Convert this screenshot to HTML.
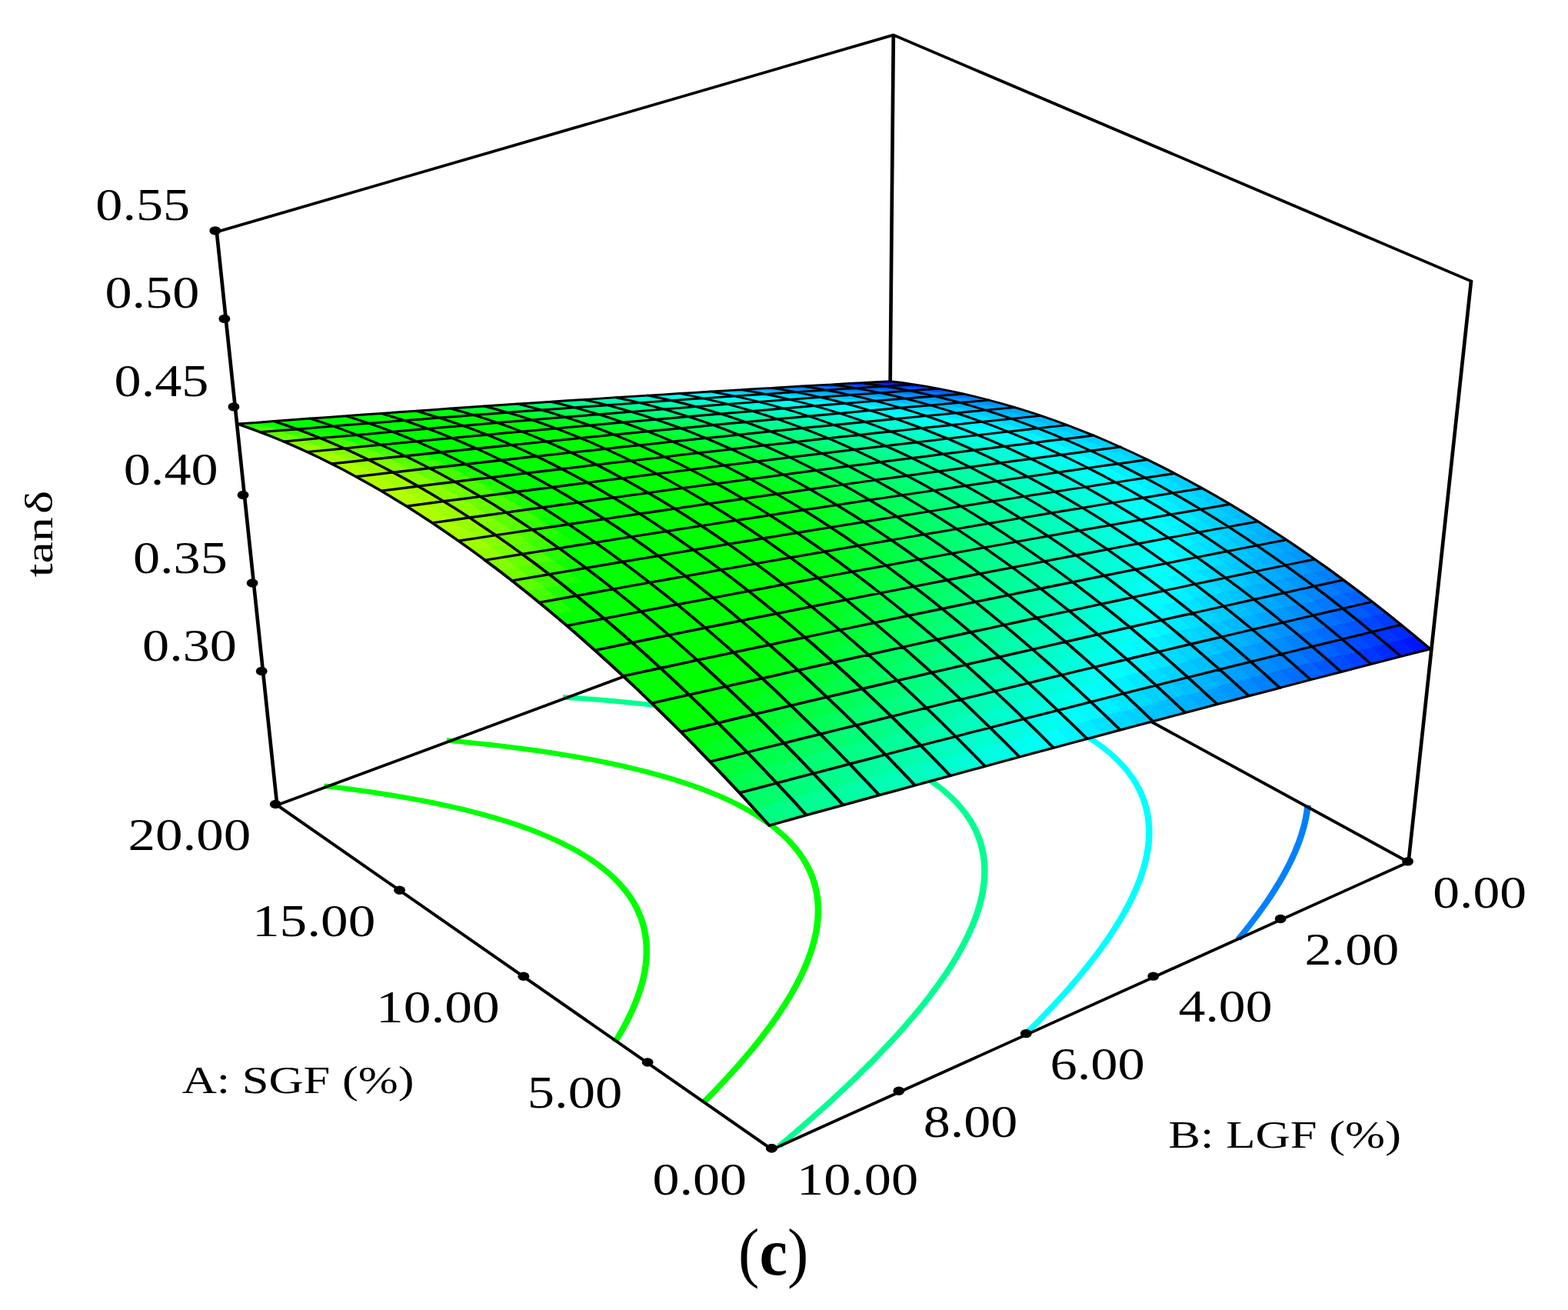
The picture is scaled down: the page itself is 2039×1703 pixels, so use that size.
<!DOCTYPE html>
<html lang="en"><head><meta charset="utf-8"><title>Response surface: tan δ vs SGF and LGF (c)</title>
<style>html,body{margin:0;padding:0;background:#fff}svg{display:block}</style></head>
<body>
<svg width="2039" height="1703" viewBox="0 0 2039 1703">
<rect width="2039" height="1703" fill="#fff"/>
<g transform="scale(1.3,1)">
<g fill="none" stroke-width="6.5" stroke-linecap="butt" stroke-linejoin="round">
<path d="M984.23 817.9 L981.94 817.6 L970.11 815.9 L960.83 814.7 L951.46 813.5 L940.95 812.3 L929.59 811 L918.37 809.8 L908.25 808.8 L898.41 807.8 L888.49 807 L878.49 806.1 L868.41 805.3 L858.24 804.5 L848 803.8 L837.57 803.1 L827.16 802.5 L816.79 801.9 L806.23 801.4 L795.59 800.8 L784.88 800.4 L782.57 800.3" stroke="#0080ff"/>
<path d="M1238.63 1221 L1240.09 1218.7 L1244.8 1211.2 L1249.88 1202.9 L1254.71 1194.7 L1258.04 1188.9 L1262.75 1180.5 L1267.24 1172.2 L1270.27 1166.4 L1274.57 1157.8 L1277.83 1151 L1281.35 1143.3 L1284.6 1135.9 L1287.59 1128.6 L1290.43 1121.4 L1293.25 1113.6 L1295.36 1107.5 L1298.18 1098.6 L1300.02 1092.1 L1301.73 1085.6 L1303.66 1077.3 L1305.15 1069.8 L1306.25 1063.2 L1307.17 1056.5 L1307.89 1049.7 L1308.2 1046.7" stroke="#0080ff"/>
<path d="M1024.04 1346.6 L1025.68 1344.5 L1031.38 1337.1 L1036.89 1329.9 L1042.89 1321.9 L1049.09 1313.5 L1055.18 1305.1 L1061.17 1296.6 L1066.41 1289 L1070.88 1282.4 L1076.54 1273.9 L1082.08 1265.3 L1086.76 1257.8 L1091.02 1250.8 L1096.19 1242.1 L1100.54 1234.5 L1104.47 1227.4 L1109.23 1218.5 L1112.31 1212.5 L1116.76 1203.5 L1119.9 1196.9 L1123.77 1188.3 L1126.51 1181.9 L1130.18 1172.8 L1132.56 1166.5 L1135.47 1158.3 L1138 1150.5 L1139.95 1144 L1142.06 1136.3 L1144.07 1127.9 L1145.6 1120.5 L1146.81 1113.6 L1147.83 1106.5 L1148.62 1099.3 L1149.17 1092 L1149.43 1084.5 L1149.38 1076.7 L1148.97 1068.8 L1148.26 1061.6 L1147.34 1055.1 L1145.89 1047.5 L1143.96 1039.6 L1142.11 1033.5 L1139.13 1025.1 L1135.99 1017.8 L1132.93 1011.5 L1128.59 1003.8 L1123.81 996.3 L1118.59 989.1 L1112.96 982.1 L1104.83 973.3 L1098.28 966.9 L1088.97 958.8 L1079.02 951.1 L1068.46 943.8 L1057.3 936.8 L1046.7 930.8 L1036.43 925.4 L1026.97 920.9 L1017.07 916.4 L1005.56 911.6 L995.06 907.6 L985.27 904 L975.41 900.7 L964.28 897.1 L952.9 893.7 L942.67 890.8 L933.38 888.3 L921.34 885.3 L912.86 883.3 L900.75 880.6 L891.97 878.7 L879.51 876.2 L870.84 874.5 L859.11 872.4 L848.74 870.6 L839.73 869.2 L827.99 867.4 L816.79 865.7 L807.45 864.4 L798.02 863.2 L786.54 861.8 L775.04 860.5 L764.3 859.3 L754.47 858.3 L744.55 857.3 L734.55 856.4 L724.46 855.5 L713.96 854.6 L703.17 853.8 L692.47 853 L681.84 852.3 L678.01 852 L675.7 851.9" stroke="#00ffff"/>
<path d="M779.63 1489.7 L781.39 1487.8 L789.48 1478.9 L797.33 1470.2 L804.94 1461.6 L812.33 1453.2 L819.5 1444.9 L826.45 1436.8 L833.19 1428.8 L840.22 1420.3 L847.29 1411.7 L854.27 1403 L861.15 1394.3 L867.92 1385.6 L874.59 1376.9 L880.17 1369.4 L885.45 1362.2 L891.81 1353.4 L898.05 1344.6 L903.91 1336 L908.2 1329.7 L914.07 1320.7 L919.83 1311.7 L923.9 1305.2 L929.09 1296.6 L934.25 1287.7 L937.92 1281.2 L942.98 1271.9 L946.28 1265.7 L951.01 1256.3 L954.07 1249.9 L958.47 1240.3 L961.28 1233.8 L964.85 1225.1 L967.81 1217.4 L970.21 1210.7 L973.1 1202 L975.62 1193.6 L977.51 1186.7 L979.23 1179.6 L980.81 1172.2 L982.25 1164.2 L983.36 1156.3 L984.17 1148.7 L984.68 1141.3 L984.89 1134.1 L984.78 1125.8 L984.25 1117.3 L983.47 1110.2 L982.46 1103.7 L980.5 1094.4 L978.89 1088.4 L976.03 1079.6 L973.31 1072.6 L970.16 1065.7 L965.99 1057.7 L961.36 1050.1 L956.29 1042.7 L950.79 1035.6 L942.81 1026.5 L936.36 1020 L927.16 1011.7 L917.3 1003.8 L906.8 996.3 L895.69 989.2 L886.98 984.1 L874.85 977.6 L865.39 972.9 L855.63 968.4 L845.57 964.1 L835.22 960 L824.59 956.1 L813.68 952.2 L802.5 948.6 L793.4 945.8 L783.27 942.9 L771.39 939.6 L762.54 937.4 L751.04 934.6 L741.07 932.3 L730.01 929.8 L720.61 927.9 L708.32 925.5 L699.46 923.9 L688.16 921.9 L676.88 920 L667.68 918.6 L657.25 917 L645.23 915.4 L634.7 914 L625.07 912.7 L615.34 911.6 L604.36 910.3 L592.98 909.1 L581.71 908 L570.54 907 L565.34 906.5 L563.04 906.3" stroke="#00ff90"/>
<path d="M703.26 1433.7 L704.88 1431.6 L711.8 1422.5 L716.98 1415.5 L723.05 1407.1 L729.63 1397.9 L735.84 1389 L740.31 1382.4 L746.52 1373 L752.31 1364 L756.54 1357.3 L762.34 1347.7 L766.56 1340.5 L771.61 1331.6 L775.9 1323.8 L780.36 1315.3 L784.17 1307.8 L788.53 1298.7 L791.61 1292 L795.69 1282.5 L798.82 1274.8 L801.48 1267.9 L804.63 1259 L807.52 1250 L809.64 1242.7 L811.6 1235.3 L813.36 1227.8 L814.9 1220.1 L816.2 1212.3 L817.23 1204.2 L817.96 1196 L818.35 1187.5 L818.35 1179 L818.04 1172.1 L817.41 1164.9 L816.09 1155.6 L814.86 1149.3 L812.56 1140.1 L810.49 1133.5 L807.53 1125.5 L803.84 1117.2 L799.66 1109.2 L795.02 1101.5 L789.92 1094.1 L784.38 1086.9 L776.34 1077.8 L769.57 1071 L760.54 1062.9 L750.58 1054.9 L741.37 1048.3 L731.6 1041.9 L719.92 1035 L710.76 1030.1 L701.29 1025.3 L691.5 1020.7 L681.14 1016.2 L670.95 1012.1 L660.31 1008.1 L649.34 1004.2 L638.08 1000.5 L627.07 997.1 L618.71 994.6 L606.74 991.3 L596.56 988.7 L586.2 986.2 L575.2 983.6 L564.96 981.4 L554.78 979.2 L543.05 976.9 L534.1 975.3 L522.3 973.2 L511.26 971.4 L501.95 969.9 L491.27 968.3 L479.19 966.6 L468.57 965.2 L458.81 963.9 L448.96 962.8 L446.66 962.5" stroke="#00ff00"/>
<path d="M615.29 1354.6 L616.47 1352.1 L619.74 1345 L623.31 1336.8 L627.27 1327.2 L630.17 1319.5 L632.82 1312.1 L635.43 1304.1 L638.03 1295.3 L640.27 1286.7 L642.17 1278.4 L643.72 1270.3 L644.95 1262.4 L645.86 1254.6 L646.47 1247.1 L646.79 1237.9 L646.67 1229.2 L646.26 1222.3 L645.27 1213.3 L644.05 1205.8 L642 1196.6 L640.25 1190.4 L637.25 1181.6 L633.72 1173.1 L629.7 1164.9 L625.19 1157.1 L620.22 1149.5 L613.43 1140.5 L606.88 1132.8 L598.22 1124 L588.84 1115.5 L578.78 1107.5 L568.05 1099.9 L558.52 1093.8 L547.75 1087.5 L538.48 1082.5 L528.88 1077.7 L518.32 1072.8 L507.91 1068.3 L498.16 1064.4 L487.33 1060.4 L476.19 1056.5 L464.76 1052.7 L455.4 1049.8 L445.1 1046.8 L432.93 1043.5 L424.67 1041.4 L412.06 1038.3 L403.51 1036.3 L390.48 1033.5 L381.65 1031.7 L370.41 1029.5 L359.09 1027.4 L349.87 1025.8 L338.5 1023.9 L326.38 1022 L324.09 1021.7" stroke="#00ff00"/>
</g>
<g fill="none" stroke="#000" stroke-width="3.6" stroke-linecap="round" stroke-linejoin="round">
<path d="M277.15 1046.7 L888.69 751.7 M1408.92 1120.7 L888.69 751.7 M893.69 45.5 L888.69 751.7"/>
<path d="M216.77 301.5 L893.69 45.5 L1471.54 365.5"/>
<path d="M277.15 1046.7 L772.23 1494.4 L1408.92 1120.7"/>
</g>
<g stroke="none" shape-rendering="crispEdges">
<path fill="#0006ff" d="M902.97 497.6 890.09 495.5 874.76 496.6 887.63 498.7Z"/>
<path fill="#001bff" d="M915.21 499.8 902.24 497.4 886.9 498.6 899.85 501.1Z"/>
<path fill="#001aff" d="M888.5 498.7 875.63 496.5 860.22 497.6 873.07 499.8Z"/>
<path fill="#002fff" d="M900.73 501 887.77 498.5 872.34 499.7 885.28 502.3ZM927.53 502.4 914.47 499.7 899.12 500.9 912.16 503.8Z"/>
<path fill="#002eff" d="M873.94 499.8 861.09 497.6 845.59 498.7 858.42 501Z"/>
<path fill="#0042ff" d="M939.93 505.3 926.79 502.3 911.42 503.6 924.54 506.7ZM886.15 502.2 873.22 499.6 857.69 500.8 870.61 503.5Z"/>
<path fill="#0043ff" d="M913.03 503.7 899.99 500.9 884.54 502.1 897.57 505Z"/>
<path fill="#0041ff" d="M859.3 500.9 846.47 498.6 830.87 499.8 843.69 502.1ZM1372.58 863.7 1357.08 846.3 1341.19 851.5 1356.69 869.1Z"/>
<path fill="#0055ff" d="M925.42 506.7 912.29 503.5 896.83 504.8 909.94 508.1ZM871.5 503.4 858.57 500.8 842.96 502 855.86 504.7Z"/>
<path fill="#0054ff" d="M952.41 508.6 939.18 505.2 923.8 506.6 937.01 510.1ZM844.57 502.1 831.75 499.7 816.06 500.9 828.86 503.3ZM1373.11 821.8 1357.71 805.5 1341.99 810.3 1357.4 826.8Z"/>
<path fill="#0056ff" d="M898.45 504.9 885.42 502 869.88 503.3 882.89 506.3Z"/>
<path fill="#0065ff" d="M964.97 512.1 951.66 508.4 936.26 509.9 949.55 513.7Z"/>
<path fill="#0068ff" d="M910.82 508 897.71 504.8 882.15 506.1 895.25 509.4ZM829.75 503.2 816.95 500.8 801.17 502 813.95 504.5Z"/>
<path fill="#0069ff" d="M856.75 504.6 843.84 501.9 828.14 503.2 841.03 505.9ZM883.77 506.2 870.76 503.2 855.13 504.5 868.13 507.6Z"/>
<path fill="#0067ff" d="M937.88 510 924.67 506.5 909.19 507.9 922.39 511.5Z"/>
<path fill="#0074ff" d="M977.6 516 964.21 511.9 948.8 513.5 962.17 517.7Z"/>
<path fill="#007cff" d="M841.92 505.9 829.03 503.1 813.23 504.3 826.1 507.2ZM869.01 507.5 856.02 504.5 840.29 505.8 853.27 508.9ZM1344.39 772.4 1329.13 757.5 1313.49 761.9 1328.76 777Z"/>
<path fill="#0077ff" d="M950.43 513.6 937.13 509.8 921.64 511.3 934.92 515.2Z"/>
<path fill="#007bff" d="M896.13 509.4 883.03 506 867.39 507.4 880.47 510.8ZM814.85 504.4 802.06 501.9 786.18 503.1 798.95 505.7Z"/>
<path fill="#0079ff" d="M923.27 511.4 910.07 507.8 894.5 509.2 907.69 512.9Z"/>
<path fill="#0086ff" d="M963.05 517.6 949.67 513.4 934.17 515 947.53 519.2Z"/>
<path fill="#0083ff" d="M990.31 520.3 976.84 515.8 961.41 517.4 974.87 522ZM1329.26 795.8 1313.94 780.2 1298.12 784.9 1313.44 800.6ZM1297.44 867.2 1281.96 849.6 1265.67 854.9 1281.16 872.5Z"/>
<path fill="#0089ff" d="M935.8 515.1 922.52 511.2 906.94 512.7 920.21 516.7Z"/>
<path fill="#008dff" d="M881.36 510.7 868.28 507.3 852.54 508.7 865.6 512.2ZM854.17 508.8 841.19 505.7 825.37 507 838.33 510.2ZM799.85 505.6 787.09 503 771.11 504.2 783.86 506.9ZM1282.08 872.2 1266.59 854.6 1250.2 859.9 1265.7 877.7Z"/>
<path fill="#008eff" d="M827 507.1 814.12 504.3 798.23 505.5 811.08 508.5ZM1314.34 800.3 1299.02 784.6 1283.1 789.3 1298.42 805.2Z"/>
<path fill="#008bff" d="M908.57 512.8 895.39 509.2 879.73 510.6 892.9 514.3ZM1330.31 740.5 1315.15 726.5 1299.6 730.6 1314.76 744.8Z"/>
<path fill="#008fff" d="M1003.1 524.8 989.55 520 974.11 521.7 987.65 526.6Z"/>
<path fill="#0097ff" d="M948.41 519.1 935.05 514.9 919.45 516.5 932.8 520.8ZM1316.01 727.3 1300.9 713.6 1285.34 717.7 1300.45 731.4ZM1315.64 744.6 1300.48 730.4 1284.84 734.6 1300 748.9ZM1266.63 877.4 1251.13 859.6 1234.65 864.9 1250.15 882.8Z"/>
<path fill="#009eff" d="M866.5 512.1 853.43 508.6 837.6 510.1 850.65 513.6ZM1299.88 785.5 1284.61 770.1 1268.69 774.7 1283.97 790.2ZM1283.55 829.7 1268.17 813.2 1251.96 818.1 1267.35 834.8Z"/>
<path fill="#009fff" d="M811.99 508.4 799.13 505.5 783.14 506.8 795.98 509.8ZM784.77 506.8 772.02 504.2 755.95 505.4 768.68 508.2ZM839.23 510.2 826.27 507 810.35 508.3 823.3 511.6ZM988.53 526.5 974.99 521.6 959.46 523.4 972.99 528.3ZM1234.39 910.5 1218.83 891.9 1202.04 897.5 1217.61 916.3Z"/>
<path fill="#0093ff" d="M975.75 521.9 962.29 517.3 946.77 519 960.22 523.6ZM1314.81 781.1 1299.54 765.9 1283.71 770.4 1298.99 785.7ZM1298.74 825 1283.36 808.5 1267.25 813.4 1282.63 830Z"/>
<path fill="#009aff" d="M921.09 516.6 907.82 512.6 892.15 514.1 905.4 518.2ZM1015.96 529.7 1002.33 524.5 986.88 526.3 1000.5 531.6Z"/>
<path fill="#009cff" d="M893.78 514.3 880.62 510.5 864.86 512 878.01 515.8Z"/>
<path fill="#00a8ff" d="M933.69 520.7 920.34 516.4 904.65 518 917.99 522.4ZM1268.27 834.5 1252.88 817.8 1236.58 822.8 1251.97 839.6Z"/>
<path fill="#00b1ff" d="M796.89 509.7 784.05 506.7 767.96 508 780.78 511.1ZM769.59 508.1 756.86 505.3 740.69 506.6 753.41 509.4Z"/>
<path fill="#00a4ff" d="M961.1 523.5 947.66 518.9 932.05 520.6 945.48 525.3ZM1284.23 809.5 1268.9 793.5 1252.79 798.2 1268.12 814.4Z"/>
<path fill="#00abff" d="M906.29 518.1 893.04 514 877.27 515.6 890.51 519.8ZM1001.38 531.5 987.76 526.2 972.22 528.1 985.83 533.4ZM1287.55 701.9 1272.55 689.1 1256.99 692.9 1271.99 705.9ZM1235.44 887.7 1219.93 869.6 1203.24 875.1 1218.76 893.3Z"/>
<path fill="#00adff" d="M878.91 515.7 865.76 511.9 849.91 513.4 863.05 517.3Z"/>
<path fill="#00afff" d="M851.55 513.5 838.5 510 822.57 511.4 835.6 515ZM1286.58 735.2 1271.47 721.3 1255.73 725.4 1270.84 739.4ZM1269.04 814.1 1253.7 798 1237.49 802.8 1252.83 819Z"/>
<path fill="#00b0ff" d="M824.21 511.5 811.26 508.2 795.25 509.6 808.18 513ZM973.87 528.2 960.34 523.3 944.72 525 958.24 530.1Z"/>
<path fill="#00a5ff" d="M1028.9 534.9 1015.19 529.4 999.73 531.3 1013.43 536.9Z"/>
<path fill="#00b8ff" d="M918.88 522.3 905.54 517.9 889.76 519.5 903.08 524.1ZM1272.88 705.6 1257.87 692.7 1242.22 696.5 1257.23 709.6Z"/>
<path fill="#00bcff" d="M891.4 519.7 878.16 515.5 862.3 517.1 875.53 521.3ZM1259.29 678.1 1244.41 666.1 1228.85 669.7 1243.74 681.8Z"/>
<path fill="#00c0ff" d="M836.51 515 823.47 511.3 807.45 512.8 820.47 516.5ZM959.12 530 945.6 524.9 929.89 526.7 943.4 531.9ZM1258.72 693.4 1243.78 680.9 1228.13 684.6 1243.07 697.3Z"/>
<path fill="#00c2ff" d="M781.7 511 768.87 507.9 752.69 509.2 765.49 512.4ZM809.09 512.9 796.16 509.5 780.05 510.9 792.97 514.4ZM1245.25 666.7 1230.42 655.1 1214.86 658.6 1229.69 670.3Z"/>
<path fill="#00c3ff" d="M754.33 509.3 741.61 506.5 725.35 507.8 738.04 510.7ZM1255.35 779.6 1240.12 764.5 1224 769 1239.23 784.3Z"/>
<path fill="#00b4ff" d="M946.37 525.2 932.93 520.5 917.23 522.2 930.65 527ZM1273.39 689.8 1258.45 677.4 1242.89 681.1 1257.84 693.6ZM1269.76 794.4 1254.49 778.8 1238.37 783.4 1253.65 799.1Z"/>
<path fill="#00beff" d="M863.95 517.2 850.81 513.3 834.86 514.8 847.99 518.8ZM1027.31 542.5 1013.53 536.5 997.97 538.5 1011.74 544.6ZM1068.16 552.7 1054.21 546.1 1038.72 548.2 1052.66 554.9Z"/>
<path fill="#00aeff" d="M1041.92 540.5 1028.12 534.6 1012.65 536.6 1026.44 542.6ZM1287.08 718.2 1272.02 704.9 1256.38 708.8 1271.43 722.3ZM1286.05 752.8 1270.88 738.4 1255.05 742.6 1270.22 757.2Z"/>
<path fill="#00c9ff" d="M903.98 524 890.65 519.4 874.77 521.1 888.09 525.7ZM1094.68 566.3 1080.59 558.9 1065.08 561.2 1079.17 568.7ZM1205.07 875.8 1189.6 858 1172.8 863.3 1188.27 881.2ZM1187.94 903.6 1172.41 885.1 1155.41 890.6 1170.95 909.2Z"/>
<path fill="#00d4ff" d="M766.41 512.3 753.61 509.2 737.32 510.5 750.11 513.8ZM738.97 510.6 726.27 507.7 709.91 509 722.59 512ZM1134.98 589.3 1120.67 580.8 1105.15 583.4 1119.45 592ZM1223.9 808 1208.61 792 1192.2 796.8 1207.49 812.9Z"/>
<path fill="#00b5ff" d="M1014.31 536.8 1000.61 531.2 985.06 533.1 998.75 538.8ZM1236.46 865.6 1221 848.1 1204.41 853.3 1219.87 871ZM1219.71 892.9 1204.19 874.8 1187.4 880.2 1202.92 898.5Z"/>
<path fill="#00d1ff" d="M821.38 516.4 808.36 512.7 792.23 514.2 805.24 518ZM1121.48 581.3 1107.24 573.1 1091.72 575.7 1105.96 583.9ZM1242.54 729.9 1227.48 716.2 1211.55 720.3 1226.61 734.1Z"/>
<path fill="#00bbff" d="M986.71 533.3 973.1 527.9 957.47 529.8 971.07 535.2Z"/>
<path fill="#00c5ff" d="M931.54 526.9 918.12 522.1 902.32 523.8 915.73 528.7ZM999.63 538.7 985.94 533 970.3 534.9 983.98 540.7ZM1256.09 761.1 1240.92 746.5 1224.9 750.8 1240.07 765.6Z"/>
<path fill="#00ccff" d="M876.43 521.2 863.2 517 847.24 518.6 860.45 522.9Z"/>
<path fill="#00cfff" d="M848.89 518.7 835.77 514.7 819.73 516.3 832.84 520.3ZM1230.57 670.1 1215.75 658.4 1200.1 661.9 1214.93 673.7ZM1222.91 828.2 1207.56 811.7 1191.05 816.6 1206.41 833.2Z"/>
<path fill="#00d3ff" d="M793.88 514.3 780.97 510.8 764.77 512.2 777.66 515.8ZM1066.76 561.5 1052.75 554.4 1037.16 556.7 1051.16 563.9ZM1189.63 625.1 1175.05 615 1159.51 618.1 1174.08 628.2ZM1189.23 880.9 1173.76 863 1156.85 868.4 1172.33 886.4Z"/>
<path fill="#00b6ff" d="M1055 546.4 1041.13 540.2 1025.65 542.2 1039.51 548.6Z"/>
<path fill="#00d0ff" d="M944.29 531.8 930.78 526.6 914.97 528.4 928.47 533.7ZM1203.45 634.9 1188.8 624.5 1173.25 627.6 1187.89 638.2ZM1243.27 713.2 1228.26 700 1212.43 703.9 1227.43 717.2ZM1240.98 765.3 1225.81 750.6 1209.69 754.9 1224.86 769.8ZM1154.29 938 1138.68 918.7 1121.37 924.6 1136.99 944Z"/>
<path fill="#00d5ff" d="M916.63 528.6 903.22 523.7 887.33 525.4 900.73 530.4ZM984.86 540.6 971.18 534.8 955.45 536.8 969.12 542.7ZM1148.55 597.7 1134.17 588.8 1118.64 591.5 1133.01 600.5ZM1162.18 606.5 1147.73 597.2 1132.2 600 1146.64 609.4ZM1175.87 615.6 1161.36 605.9 1145.82 608.9 1160.33 618.6ZM1216.58 659 1201.82 647.7 1186.17 651.1 1200.94 662.6ZM1229.86 685.1 1214.97 672.9 1199.23 676.5 1214.12 688.9Z"/>
<path fill="#00daff" d="M888.99 525.6 875.68 521 859.7 522.7 873 527.4ZM1202.65 648.3 1187.95 637.4 1172.3 640.7 1187.01 651.7Z"/>
<path fill="#00ddff" d="M861.36 522.8 848.15 518.5 832.09 520.1 845.29 524.5ZM997.85 546.4 984.09 540.3 968.34 542.3 982.09 548.6ZM1093.41 576 1079.25 568.1 1063.64 570.6 1077.8 578.6ZM1227.51 733.8 1212.45 720 1196.42 724.1 1211.49 738.1ZM1226.66 751.4 1211.54 737 1195.42 741.3 1210.54 755.8ZM1173.29 886.1 1157.81 868.1 1140.81 873.5 1156.29 891.7Z"/>
<path fill="#00e3ff" d="M806.16 517.9 793.15 514.1 776.93 515.6 789.92 519.4ZM1133.89 600.4 1119.52 591.4 1103.9 594.2 1118.26 603.2ZM1147.52 609.2 1133.08 599.9 1117.45 602.7 1131.89 612.2ZM1121.55 949.4 1105.93 929.8 1088.4 935.7 1104.03 955.4Z"/>
<path fill="#00e4ff" d="M778.59 515.7 765.69 512.2 749.39 513.6 762.27 517.2ZM970.01 542.5 956.34 536.7 940.51 538.6 954.17 544.6ZM1209.47 792.9 1194.23 777.3 1177.82 782 1193.06 797.7ZM1191.68 837.8 1176.33 821 1159.62 826 1174.98 842.9Z"/>
<path fill="#00e5ff" d="M751.04 513.7 738.25 510.4 721.87 511.8 734.64 515.1ZM1010.91 552.6 997.07 546.1 981.31 548.2 995.14 554.9ZM1214.17 704.4 1199.23 691.5 1183.3 695.4 1198.24 708.4Z"/>
<path fill="#00e6ff" d="M723.52 511.9 710.84 508.9 694.37 510.2 707.04 513.3ZM901.63 530.3 888.23 525.3 872.25 527.1 885.63 532.2ZM1139.57 919.8 1124.01 900.9 1106.7 906.6 1122.26 925.6Z"/>
<path fill="#00cbff" d="M971.96 535.1 958.36 529.7 942.63 531.6 956.22 537.1Z"/>
<path fill="#00e0ff" d="M833.75 520.3 820.64 516.2 804.5 517.7 817.6 521.9ZM1106.84 583.8 1092.61 575.5 1076.99 578.1 1091.22 586.4Z"/>
<path fill="#00ceff" d="M1012.63 544.4 998.85 538.4 983.2 540.4 996.96 546.6ZM1108.05 573.6 1093.88 565.8 1078.37 568.3 1092.53 576.1ZM1240.15 784 1224.92 768.7 1208.7 773.3 1223.94 788.7Z"/>
<path fill="#00e1ff" d="M929.37 533.5 915.87 528.3 899.97 530.1 913.45 535.5ZM1174.96 628 1160.39 617.9 1144.75 621 1159.32 631.2ZM1215.01 688.7 1200.12 676.3 1184.29 680 1199.17 692.5Z"/>
<path fill="#00eaff" d="M873.91 527.3 860.61 522.6 844.54 524.3 857.83 529.1ZM1192.86 817.2 1177.56 801 1160.95 805.8 1176.25 822.2Z"/>
<path fill="#00f4ff" d="M790.84 519.4 777.85 515.5 761.54 517 774.51 521ZM955.07 544.5 941.41 538.5 925.48 540.5 939.13 546.6ZM1173.05 654.8 1158.35 643.6 1142.51 647 1157.21 658.3ZM1198.19 724.7 1183.18 711.2 1167.05 715.2 1182.06 728.8ZM1196.16 759.7 1181.04 745.1 1164.72 749.5 1179.84 764.2Z"/>
<path fill="#00f7ff" d="M735.57 515.1 722.8 511.7 706.32 513.1 719.07 516.5ZM707.97 513.2 695.31 510.2 678.75 511.5 691.39 514.6Z"/>
<path fill="#00c6ff" d="M1040.39 548.5 1026.53 542.1 1010.96 544.2 1024.81 550.7ZM1257.48 726 1242.42 712.4 1226.58 716.4 1241.64 730.1ZM1256.8 743.2 1241.69 729.1 1225.76 733.3 1240.87 747.5ZM1170.5 932.4 1154.91 913.3 1137.71 919.1 1153.31 938.4Z"/>
<path fill="#00eeff" d="M846.2 524.4 833 520 816.85 521.6 830.04 526.2ZM1092.11 586.3 1077.88 578 1062.17 580.5 1076.39 589ZM1160.21 631.1 1145.64 620.8 1129.91 623.9 1144.47 634.3ZM1200.07 692.3 1185.19 679.8 1169.25 683.5 1184.14 696.1ZM1175.93 842.6 1160.57 825.7 1143.76 830.8 1159.12 847.8Z"/>
<path fill="#00dbff" d="M957.11 537 943.52 531.5 927.7 533.3 941.28 539Z"/>
<path fill="#00f1ff" d="M818.51 521.8 805.42 517.6 789.18 519.2 802.26 523.5ZM914.35 535.4 900.87 530 884.87 531.9 898.34 537.3ZM1119.15 603.1 1104.78 594 1089.07 596.8 1103.43 606ZM1132.77 612 1118.34 602.6 1102.61 605.5 1117.05 615ZM1158.69 869.1 1143.26 851.5 1126.25 856.8 1141.68 874.5ZM1141.12 896.6 1125.63 878.3 1108.41 883.8 1123.91 902.3Z"/>
<path fill="#00f6ff" d="M763.19 517.1 750.31 513.5 733.91 515 746.78 518.6ZM886.54 532.1 873.15 527 857.07 528.8 870.44 533.9ZM1050.52 573.3 1036.45 565.6 1020.67 568 1034.73 575.8ZM1088.41 960.9 1072.77 941 1055.02 947 1070.67 967.1Z"/>
<path fill="#00cdff" d="M1053.54 554.8 1039.6 548.1 1024.02 550.3 1037.95 557.1ZM1217.32 645.2 1202.62 634.3 1187.06 637.6 1201.77 648.5ZM1243.96 697.1 1229.02 684.4 1213.27 688.2 1228.22 700.9Z"/>
<path fill="#00fbff" d="M858.74 529 845.45 524.2 829.29 525.9 842.56 530.8ZM927.15 540.7 913.59 535 897.57 537 911.13 542.8ZM1009.16 561.3 995.25 554.3 979.39 556.6 993.29 563.7ZM1142.65 874.2 1127.21 856.5 1110.09 861.8 1125.53 879.7ZM1124.89 902 1109.39 883.5 1092.07 889.1 1107.57 907.7Z"/>
<path fill="#00fff7" d="M720.01 516.5 707.25 513 690.67 514.4 703.41 517.9ZM1048.96 583.3 1034.83 575.2 1018.94 577.7 1033.07 586ZM1157.01 672.5 1142.25 660.7 1126.23 664.2 1140.98 676.1ZM1164.04 787 1148.85 771.6 1132.23 776.2 1147.42 791.7ZM1054.85 972.6 1039.19 952.4 1021.22 958.5 1036.89 978.9Z"/>
<path fill="#00c4ff" d="M1081.38 559.3 1067.37 552.3 1051.87 554.6 1065.88 561.7ZM1258.12 709.4 1243.11 696.3 1227.37 700.2 1242.37 713.4ZM1238.38 823.4 1223.03 807.1 1206.63 811.9 1221.98 828.5Z"/>
<path fill="#00d6ff" d="M1025.69 550.5 1011.84 544.1 996.18 546.2 1010.02 552.7Z"/>
<path fill="#00ebff" d="M942.18 538.9 928.6 533.2 912.68 535.2 926.25 540.9ZM1078.68 578.4 1064.53 570.5 1048.83 573 1062.98 581ZM1174.02 641.1 1159.38 630.5 1143.65 633.7 1158.28 644.4Z"/>
<path fill="#00ffff" d="M830.95 526.1 817.77 521.6 801.52 523.2 814.69 527.8ZM1090.77 597.1 1076.48 588.3 1060.67 591 1074.96 600ZM1104.32 605.8 1089.96 596.6 1074.15 599.4 1088.5 608.7ZM1117.94 614.9 1103.51 605.3 1087.69 608.2 1102.12 617.9ZM1071.68 966.7 1056.03 946.7 1038.18 952.8 1053.83 972.9Z"/>
<path fill="#00fffc" d="M803.19 523.4 790.11 519.1 773.77 520.7 786.84 525Z"/>
<path fill="#00fffa" d="M775.44 520.9 762.46 516.9 746.05 518.4 759.01 522.5ZM1035.62 575.6 1021.56 567.9 1005.68 570.3 1019.74 578.2ZM1162.75 806.5 1147.5 790.5 1130.79 795.3 1146.04 811.4ZM1126.51 879.4 1111.07 861.5 1093.84 866.8 1109.29 884.9ZM1108.56 907.3 1093.05 888.8 1075.62 894.4 1091.13 913.1Z"/>
<path fill="#00fff8" d="M747.71 518.6 734.84 514.9 718.35 516.3 731.2 520.1ZM1169.92 699.5 1155.04 686.8 1138.91 690.6 1153.8 703.4Z"/>
<path fill="#00fff6" d="M692.33 514.6 679.69 511.4 663.03 512.8 675.65 516ZM1130.44 637.1 1115.87 626.7 1099.95 629.8 1114.51 640.4ZM1168.82 715.7 1153.87 702.5 1137.65 706.4 1152.59 719.8Z"/>
<path fill="#00dcff" d="M1038.83 557 1024.91 550.2 1009.23 552.4 1023.15 559.3ZM1215.81 673.5 1200.99 661.7 1185.25 665.2 1200.07 677.2ZM1228.33 717 1213.33 703.7 1197.39 707.6 1212.4 721ZM1225.78 769.6 1210.6 754.7 1194.38 759.1 1209.56 774.1ZM1190.47 859 1175.06 841.7 1158.25 846.8 1173.68 864.3ZM1155.79 914.3 1140.25 895.6 1123.04 901.2 1138.59 920.1Z"/>
<path fill="#00edff" d="M982.98 548.5 969.23 542.2 953.39 544.3 967.13 550.6Z"/>
<path fill="#00fffd" d="M899.25 537.2 885.78 531.8 869.68 533.6 883.14 539.2ZM1158.11 658.1 1143.41 646.8 1127.49 650.2 1142.18 661.6ZM1171 684 1156.18 671.8 1140.15 675.4 1154.97 687.7Z"/>
<path fill="#00fff5" d="M843.48 530.7 830.2 525.8 813.94 527.5 827.2 532.5ZM912.04 542.7 898.48 536.9 882.38 538.8 895.92 544.7ZM994.19 563.6 980.29 556.5 964.33 558.8 978.22 565.9ZM1145.58 831.4 1130.26 814.8 1113.35 819.8 1128.67 836.5Z"/>
<path fill="#00fff1" d="M815.61 527.7 802.44 523.1 786.09 524.8 799.25 529.5ZM1007.38 570.6 993.4 563.2 977.43 565.5 991.4 573.1ZM1110.27 884.6 1094.82 866.5 1077.49 871.9 1092.94 890.1ZM1092.12 912.8 1076.61 894 1059.07 899.7 1074.59 918.6Z"/>
<path fill="#00ffec" d="M759.94 522.4 746.98 518.3 730.46 519.9 743.41 524ZM1141.89 675.9 1127.14 664 1111.01 667.6 1125.77 679.6ZM1129.63 836.3 1114.31 819.5 1097.28 824.5 1112.61 841.4Z"/>
<path fill="#00ffe8" d="M704.35 517.9 691.61 514.4 674.93 515.8 687.65 519.4ZM979.13 565.8 965.23 558.6 949.18 560.9 963.06 568.2ZM1047.38 594 1033.17 585.4 1017.18 588 1031.38 596.8ZM1093.93 889.8 1078.47 871.6 1061.04 877.1 1076.5 895.4Z"/>
<path fill="#00ffe7" d="M676.6 515.9 663.97 512.7 647.21 514 659.81 517.4ZM896.83 544.6 883.29 538.7 867.08 540.7 880.62 546.7ZM1060.85 602.5 1046.57 593.5 1030.57 596.3 1044.85 605.4ZM1074.39 611.4 1060.04 602 1044.04 604.9 1058.38 614.4ZM1088 620.6 1073.58 610.8 1057.57 613.8 1071.99 623.7ZM1127.97 664.7 1113.28 653.2 1097.15 656.6 1111.85 668.2ZM1140.67 691.1 1125.85 678.7 1109.63 682.4 1124.45 694.9ZM1131.13 815.7 1115.87 799.5 1098.95 804.4 1114.21 820.7ZM1020.86 984.5 1005.19 964 986.99 970.2 1002.68 990.9Z"/>
<path fill="#00fff9" d="M871.36 533.8 857.98 528.7 841.8 530.5 855.16 535.7ZM1144.24 647.4 1129.61 636.5 1113.69 639.8 1128.32 650.8Z"/>
<path fill="#00ffea" d="M732.13 520 719.28 516.3 702.69 517.7 715.52 521.6ZM1033.97 585.8 1019.84 577.6 1003.86 580.2 1017.98 588.5ZM1152.28 736.5 1137.27 722.6 1120.85 726.8 1135.86 740.8ZM1151.01 754.2 1135.94 739.7 1119.42 744 1134.49 758.6Z"/>
<path fill="#00ffee" d="M787.76 525 774.7 520.6 758.27 522.2 771.32 526.7ZM1129.22 650.6 1114.59 639.6 1098.57 642.9 1113.2 654ZM1154.71 703.2 1139.83 690.4 1123.61 694.2 1138.49 707.2Z"/>
<path fill="#00fdff" d="M968.03 550.5 954.29 544.2 938.35 546.3 952.08 552.7ZM1077.28 588.8 1063.07 580.4 1047.27 583 1061.48 591.5Z"/>
<path fill="#00ffe6" d="M828.12 532.4 814.86 527.4 798.5 529.2 811.74 534.3ZM937.85 554.7 924.13 548.1 908 550.3 921.71 556.9Z"/>
<path fill="#00ffd9" d="M688.6 519.3 675.88 515.7 659.1 517.2 671.8 520.8ZM881.54 546.6 868.01 540.6 851.7 542.6 865.22 548.7ZM922.63 556.8 908.92 550.2 892.69 552.3 906.39 559ZM1124.02 710.7 1109.13 697.6 1092.71 701.5 1107.59 714.7Z"/>
<path fill="#00d8ff" d="M1080.05 568.6 1065.96 561.1 1050.37 563.5 1064.44 571Z"/>
<path fill="#00ecff" d="M1024.04 559.1 1010.12 552.2 994.35 554.5 1008.26 561.5ZM1105.03 955.1 1089.4 935.4 1071.77 941.3 1087.4 961.2Z"/>
<path fill="#00ffef" d="M884.05 539 870.6 533.5 854.4 535.4 867.85 541ZM1037.91 978.5 1022.24 958.2 1004.16 964.4 1019.84 984.8Z"/>
<path fill="#00ffdd" d="M744.34 523.9 731.4 519.8 714.79 521.4 727.71 525.6ZM840.71 537.4 827.37 532.1 810.99 534 824.32 539.4ZM1086.57 633.3 1072.08 623 1055.97 626.1 1070.45 636.5Z"/>
<path fill="#00e2ff" d="M1052.05 563.8 1038.04 556.6 1022.36 558.9 1036.35 566.2ZM1120.33 591.9 1106.03 583.3 1090.41 585.9 1104.71 594.7ZM1161.21 618.5 1146.7 608.7 1131.07 611.7 1145.57 621.5ZM1201.82 662.4 1187.06 650.9 1171.32 654.3 1186.08 665.9Z"/>
<path fill="#00f5ff" d="M996.03 554.7 982.2 548.1 966.35 550.3 980.17 557ZM1186.03 680.5 1171.2 668.4 1155.27 672 1170.09 684.2ZM1197.19 741.9 1182.12 727.8 1165.9 732 1180.97 746.2ZM1177.19 821.9 1161.89 805.6 1145.18 810.5 1160.49 826.9Z"/>
<path fill="#00fffb" d="M940.03 546.5 926.38 540.4 910.36 542.4 924 548.6ZM981.07 556.9 967.25 550.1 951.3 552.3 965.11 559.1ZM1144.13 852.5 1128.76 835.3 1111.74 840.4 1127.12 857.7ZM1090.28 936.5 1074.71 917.1 1057.06 923 1072.65 942.4Z"/>
<path fill="#00ffeb" d="M856.08 535.6 842.72 530.4 826.44 532.2 839.79 537.5ZM1115.42 640.2 1100.85 629.7 1084.84 632.9 1099.39 643.5ZM1153.51 719.6 1138.57 706.2 1122.24 710.2 1137.19 723.7ZM1149.71 772.5 1134.57 757.5 1117.95 762 1133.09 777.1ZM1056.91 947.8 1041.32 928.2 1023.46 934.1 1039.06 953.9Z"/>
<path fill="#00ffe3" d="M800.18 529.4 787.02 524.7 770.58 526.4 783.72 531.2ZM1114.11 653.8 1099.48 642.7 1083.36 646.1 1097.98 657.3ZM1139.41 706.9 1124.53 694 1108.2 697.9 1123.09 710.9ZM1132.6 795.9 1117.4 780.3 1100.58 785 1115.78 800.7ZM1113.57 841.1 1098.25 824.2 1081.12 829.3 1096.45 846.3ZM1040.07 953.5 1024.47 933.8 1006.5 939.8 1022.11 959.7Z"/>
<path fill="#00ffe0" d="M772.25 526.6 759.2 522.1 742.67 523.8 755.7 528.3ZM909.69 550.5 896.06 544.3 879.85 546.3 893.46 552.7ZM950.87 561.2 937.07 554.3 920.93 556.5 934.72 563.5ZM1005.56 580.5 991.51 572.5 975.44 575 989.48 583.1ZM1136.79 740.6 1121.78 726.5 1105.26 730.7 1120.27 744.8ZM1135.43 758.3 1120.36 743.8 1103.74 748.1 1118.81 762.8ZM1095.69 867.5 1080.3 850 1062.97 855.2 1078.36 873ZM1058.95 923.7 1043.42 904.7 1025.66 910.5 1041.19 929.6Z"/>
<path fill="#00ffdb" d="M716.46 521.5 703.63 517.7 686.93 519.2 699.74 523.1ZM963.97 568.1 950.09 560.8 933.94 563.1 947.81 570.5ZM1045.75 605.2 1031.48 596.1 1015.39 598.9 1029.65 608.1ZM1059.29 614.2 1044.94 604.7 1028.84 607.6 1043.19 617.2ZM1072.9 623.5 1058.48 613.6 1042.37 616.7 1056.79 626.7ZM1023.13 959.3 1007.52 939.4 989.43 945.5 1005.05 965.5Z"/>
<path fill="#00ffd8" d="M660.77 517.3 648.16 514 631.29 515.4 643.88 518.7ZM812.67 534.2 799.43 529.1 782.97 530.9 796.2 536ZM1042.2 929.3 1026.67 910.1 1008.79 915.9 1024.34 935.2Z"/>
<path fill="#00e7ff" d="M1065.33 570.9 1051.25 563.3 1035.56 565.7 1049.63 573.4ZM1187.89 651.5 1173.19 640.5 1157.45 643.8 1172.15 655ZM1210.48 773.9 1195.3 758.9 1178.98 763.3 1194.17 778.5ZM1174.63 864 1159.21 846.5 1142.3 851.8 1157.73 869.4ZM1157.26 891.4 1141.77 873.2 1124.66 878.6 1140.15 897Z"/>
<path fill="#00fff4" d="M952.99 552.6 939.26 546.1 923.22 548.3 936.94 554.8ZM1062.37 591.4 1048.16 582.9 1032.27 585.5 1046.47 594.1ZM1116.69 627.3 1102.2 617.2 1086.28 620.2 1100.77 630.4ZM1167.67 732.5 1152.67 718.8 1136.34 722.9 1151.35 736.8ZM1166.5 750 1151.43 735.7 1135.01 740 1150.08 754.4ZM1165.28 768.2 1150.16 753.3 1133.64 757.8 1148.77 772.7Z"/>
<path fill="#00ffed" d="M924.91 548.5 911.27 542.3 895.15 544.4 908.78 550.6ZM966.02 559 952.21 552.2 936.16 554.4 949.96 561.3ZM1020.64 578.1 1006.58 570.2 990.61 572.7 1004.65 580.6ZM1148.37 791.4 1133.17 775.9 1116.45 780.6 1131.65 796.2Z"/>
<path fill="#00ffe2" d="M868.77 540.9 855.32 535.3 839.03 537.2 852.46 542.9Z"/>
<path fill="#00ffd4" d="M784.65 531.1 771.51 526.3 754.96 528 768.09 532.9ZM853.39 542.8 839.96 537.1 823.57 539.1 836.99 544.9ZM990.39 582.9 976.35 574.9 960.18 577.4 974.22 585.6ZM1085.1 646.5 1070.55 635.7 1054.33 639 1068.88 649.9ZM1099.12 825.2 1083.85 808.7 1066.72 813.6 1081.99 830.2Z"/>
<path fill="#00ffce" d="M728.66 525.5 715.73 521.3 699.01 522.9 711.92 527.2ZM948.73 570.4 934.86 563 918.61 565.4 932.47 572.8ZM1108.53 714.5 1093.64 701.3 1077.12 705.2 1092 718.5ZM1044.29 905.8 1028.82 887.2 1011.06 892.8 1026.54 911.5Z"/>
<path fill="#00ffcc" d="M700.69 523 687.88 519.1 671.08 520.6 683.87 524.6ZM866.15 548.6 852.63 542.5 836.22 544.5 849.73 550.7ZM907.31 558.9 893.61 552.2 877.28 554.4 890.97 561.2ZM1083.6 660.4 1068.98 649.1 1052.67 652.5 1067.28 663.9ZM1107.05 731.3 1092.1 717.5 1075.47 721.6 1090.42 735.5ZM1103.98 766.8 1088.91 752 1072.08 756.4 1087.16 771.3Z"/>
<path fill="#00ffcb" d="M672.75 520.7 660.05 517.1 643.16 518.5 655.85 522.3ZM1095.99 686.4 1081.23 674.2 1064.82 677.8 1079.57 690.2ZM1105.53 748.7 1090.52 734.4 1073.79 738.7 1088.81 753.1ZM1082.96 829.9 1067.69 813.3 1050.45 818.3 1065.73 835Z"/>
<path fill="#00ffc9" d="M644.84 518.7 632.25 515.3 615.28 516.7 627.85 520.2Z"/>
<path fill="#00f2ff" d="M1037.25 566 1023.25 558.7 1007.47 561.1 1021.46 568.5ZM1199.15 708.2 1184.2 695.2 1168.17 699 1183.12 712.1ZM1195.09 778.2 1179.91 763.1 1163.49 767.6 1178.68 782.8Z"/>
<path fill="#00ffd1" d="M756.64 528.2 743.61 523.7 726.98 525.4 739.99 529.9ZM1003.71 590.9 989.6 582.5 973.42 585.1 987.53 593.6ZM1071.37 636.3 1056.88 625.9 1040.67 629.1 1055.15 639.6ZM1097.46 671.4 1082.77 659.7 1066.45 663.2 1081.14 675.1ZM1109.97 698.4 1095.15 685.7 1078.73 689.5 1093.55 702.3ZM1081.17 850.9 1065.84 833.8 1048.5 838.9 1063.84 856.2Z"/>
<path fill="#00ffca" d="M797.13 535.9 783.9 530.8 767.34 532.6 780.56 537.8ZM961.89 577.7 947.94 570 931.68 572.4 945.63 580.3ZM988.91 971 973.29 950.8 954.97 957 970.61 977.3Z"/>
<path fill="#00ffc0" d="M712.87 527.1 699.96 522.8 683.14 524.4 696.04 528.8ZM1080.5 690 1065.75 677.6 1049.23 681.3 1063.98 693.8Z"/>
<path fill="#00ffbc" d="M656.81 522.2 644.12 518.5 627.13 520 639.8 523.8ZM781.5 537.7 768.28 532.5 751.62 534.3 764.82 539.6ZM1078.9 705.8 1064.08 692.9 1047.46 696.7 1062.28 709.7Z"/>
<path fill="#00ffc6" d="M769.03 532.8 755.9 527.9 739.25 529.7 752.36 534.6ZM837.92 544.7 824.5 539 808.01 540.9 821.41 546.8ZM920.31 565.6 906.53 558.5 890.19 560.8 903.96 568ZM1056.08 639.4 1041.59 628.9 1025.29 632.1 1039.76 642.7ZM1046.35 883 1030.94 865 1013.28 870.4 1028.69 888.6ZM1027.54 911.2 1012.06 892.5 994.19 898.1 1009.67 917Z"/>
<path fill="#00ffbb" d="M628.81 520.1 616.24 516.6 599.17 518 611.72 521.6Z"/>
<path fill="#00fffe" d="M1022.36 568.3 1008.37 560.9 992.5 563.3 1006.47 570.8ZM1182.98 728.6 1167.97 715 1151.75 719 1166.75 732.8ZM1181.89 745.9 1166.82 731.8 1150.5 736 1165.57 750.3ZM1180.77 763.9 1165.64 749.2 1149.22 753.6 1164.35 768.4ZM1161.43 826.7 1146.13 810.2 1129.31 815.1 1144.62 831.7Z"/>
<path fill="#00ffcf" d="M825.25 539.3 811.92 533.9 795.45 535.7 808.76 541.2ZM1017.11 599.3 1002.91 590.4 986.73 593.2 1000.91 602.1ZM1030.57 608 1016.3 598.7 1000.11 601.6 1014.37 610.9ZM1044.1 617 1029.76 607.4 1013.56 610.4 1027.9 620.1ZM1057.7 626.5 1043.29 616.5 1027.08 619.5 1041.49 629.6ZM1062.9 877.8 1047.5 859.9 1029.95 865.3 1045.35 883.3ZM1025.35 934.9 1009.81 915.6 991.83 921.4 1007.38 940.9ZM969.08 1002.7 953.38 981.8 934.84 988.2 950.55 1009.3Z"/>
<path fill="#00ffc3" d="M740.94 529.8 727.92 525.3 711.19 526.9 724.19 531.6ZM1001.83 601.9 987.65 593 971.36 595.8 985.54 604.8ZM1028.82 619.9 1014.48 610.2 998.18 613.2 1012.51 623Z"/>
<path fill="#00ffbe" d="M684.83 524.6 672.03 520.5 655.12 522.1 667.9 526.2ZM850.66 550.6 837.16 544.4 820.65 546.5 834.15 552.7ZM891.9 561.1 878.21 554.3 861.78 556.5 875.46 563.4Z"/>
<path fill="#00faff" d="M1063.87 580.9 1049.72 572.8 1033.93 575.3 1048.07 583.5ZM1185.04 695.9 1170.16 683.3 1154.13 687 1169.01 699.8ZM1178.42 801.9 1163.18 786.1 1146.56 790.8 1161.81 806.8Z"/>
<path fill="#00ffad" d="M640.76 523.7 628.1 519.9 611 521.4 623.65 525.3ZM1059.72 743.3 1044.77 729.2 1027.84 733.4 1042.79 747.6ZM1057.92 761.2 1042.9 746.6 1025.87 750.9 1040.88 765.7ZM1015.15 871.1 999.8 853.4 982.02 858.7 997.38 876.6Z"/>
<path fill="#00ffd2" d="M894.38 552.6 880.77 546.2 864.45 548.3 878.05 554.8ZM1006.07 965.2 990.46 945.1 972.25 951.2 987.88 971.4Z"/>
<path fill="#00ffc1" d="M809.7 541.1 796.38 535.6 779.81 537.5 793.11 543.1ZM933.39 572.7 919.53 565.2 903.18 567.6 917.03 575.2ZM1068.21 663.7 1053.59 652.3 1037.18 655.7 1051.79 667.2ZM1089.76 752.8 1074.74 738.4 1057.92 742.7 1072.93 757.2Z"/>
<path fill="#00ffb8" d="M753.31 534.5 740.2 529.6 723.45 531.3 736.54 536.4ZM822.35 546.7 808.94 540.8 792.35 542.8 805.75 548.8ZM973.09 596.1 958.99 587.5 942.61 590.1 956.71 598.9ZM1027.03 632.5 1012.63 622.2 996.22 625.3 1010.62 635.7ZM1075.59 739.2 1060.64 725.3 1043.81 729.5 1058.76 743.5ZM1072.14 775.4 1057.07 760.3 1040.03 764.8 1055.11 780ZM916.31 1021.4 900.58 1000 881.68 1006.5 897.43 1028.1Z"/>
<path fill="#00ffb1" d="M696.99 528.7 684.1 524.3 667.18 526 680.05 530.4ZM835.08 552.6 821.59 546.3 804.99 548.4 818.47 554.8ZM876.39 563.3 862.72 556.4 846.19 558.6 859.85 565.6ZM931.11 582.6 917.18 574.6 900.72 577.1 914.65 585.2ZM1063.22 709.5 1048.4 696.5 1031.68 700.4 1046.49 713.5Z"/>
<path fill="#00ffaf" d="M668.86 526.1 656.09 522 639.08 523.6 651.84 527.8ZM1051 681.8 1036.32 669.8 1019.7 673.4 1034.38 685.5ZM1061.49 726.1 1046.6 712.5 1029.78 716.6 1044.66 730.2ZM1033.89 844.5 1018.61 827.5 1001.05 832.6 1016.33 849.7Z"/>
<path fill="#00ffac" d="M612.69 521.5 600.14 517.9 582.96 519.4 595.49 523ZM889.38 570.2 875.62 562.9 859.08 565.2 872.83 572.6ZM957.64 598.7 943.54 590 927.07 592.7 941.15 601.5ZM1011.56 635.5 997.16 625.2 980.66 628.3 995.05 638.7ZM976.66 927.7 961.16 908.6 942.94 914.4 958.45 933.7Z"/>
<path fill="#00ffb4" d="M725.14 531.5 712.14 526.8 695.3 528.5 708.29 533.3ZM917.96 575.1 904.11 567.5 887.66 569.9 901.51 577.6ZM1052.3 819 1037.08 802.7 1019.73 807.5 1034.95 824ZM1012.94 893.5 997.52 875.2 979.64 880.7 995.06 899.2Z"/>
<path fill="#00f0ff" d="M1105.6 594.5 1091.3 585.8 1075.59 588.5 1089.88 597.3ZM1146.46 621.4 1131.96 611.5 1116.23 614.5 1130.73 624.5ZM1123.24 925.3 1107.68 906.3 1090.25 912 1105.82 931.2Z"/>
<path fill="#00ffae" d="M765.77 539.5 752.57 534.2 735.8 536.1 748.99 541.5ZM944.34 590.5 930.32 582.1 913.85 584.7 927.86 593.2ZM1025.21 645.6 1010.74 634.9 994.23 638.1 1008.7 649ZM1056.08 779.8 1041 764.6 1023.86 769.1 1038.94 784.4ZM956.89 957.8 941.32 937.9 922.87 943.9 938.46 964Z"/>
<path fill="#00ffa3" d="M681.01 530.3 668.14 525.9 651.11 527.5 663.97 532.1ZM819.41 554.7 805.93 548.3 789.22 550.4 802.69 556.9ZM1009.64 648.8 995.17 638 978.56 641.2 993.03 652.2ZM1043.75 747.4 1028.8 733.2 1011.76 737.4 1026.71 751.7ZM1041.85 765.4 1026.83 750.7 1009.69 755.1 1024.71 770ZM979.11 904.2 963.68 885.7 945.57 891.3 961 910Z"/>
<path fill="#00ff9e" d="M624.62 525.2 611.97 521.3 594.77 522.8 607.4 526.8ZM955.45 610.1 941.29 600.9 924.71 603.7 938.86 613.1ZM968.89 619.2 954.65 609.6 938.06 612.5 952.3 622.3ZM922.01 969.5 906.42 949.3 887.74 955.4 903.34 975.8Z"/>
<path fill="#00ff9d" d="M596.46 522.9 583.94 519.3 566.65 520.8 579.16 524.5ZM790.93 550.6 777.55 544.6 760.76 546.6 774.12 552.8ZM1021.58 808.2 1006.43 792.2 988.97 797 1004.12 813.1ZM1000.67 854.4 985.38 837.1 967.6 842.3 982.89 859.7Z"/>
<path fill="#00ffc5" d="M878.98 554.6 865.38 548.2 848.96 550.3 862.55 556.9ZM988.45 593.5 974.34 584.9 958.06 587.6 972.16 596.3ZM1082.07 674.9 1067.38 663 1050.96 666.6 1065.65 678.5Z"/>
<path fill="#00ffaa" d="M737.5 536.3 724.4 531.2 707.55 533 720.63 538.1ZM847.9 558.9 834.32 552.2 817.7 554.4 831.27 561.1ZM971.01 607.4 956.84 598.2 940.35 601 954.52 610.3ZM984.45 616.4 970.2 606.8 953.71 609.8 967.96 619.4ZM1037.15 670.4 1022.53 658.8 1005.92 662.3 1020.53 674ZM1049.24 697.2 1034.49 684.6 1017.77 688.4 1032.52 701.1ZM1035.94 823.7 1020.72 807.2 1003.26 812.2 1018.48 828.7ZM919.18 995.1 903.51 974.3 884.73 980.6 900.4 1001.6Z"/>
<path fill="#00ffd3" d="M935.64 563.4 921.85 556.4 905.61 558.7 919.39 565.8Z"/>
<path fill="#00ffb3" d="M794.05 543 780.75 537.4 764.07 539.3 777.36 545Z"/>
<path fill="#00ffa0" d="M652.8 527.7 640.04 523.5 622.93 525.1 635.67 529.4ZM749.94 541.4 736.75 536 719.88 537.8 733.05 543.3ZM995.99 638.6 981.59 628.1 964.99 631.3 979.38 641.8ZM1033.46 700.9 1018.72 688.2 1001.89 692 1016.64 704.8ZM862.53 1040.5 846.76 1018.7 827.49 1025.4 843.27 1047.4Z"/>
<path fill="#00ffe4" d="M992.31 573 978.34 565.4 962.27 567.8 976.23 575.5Z"/>
<path fill="#00ffa6" d="M709.24 533.2 696.26 528.4 679.32 530.2 692.29 535ZM1023.36 659.4 1008.82 648.2 992.21 651.6 1006.74 662.9ZM1017.33 849.4 1002.05 832.3 984.37 837.4 999.66 854.7ZM939.51 963.6 923.92 943.6 905.36 949.7 920.95 969.8Z"/>
<path fill="#00ff8f" d="M608.38 526.7 595.75 522.7 578.45 524.3 591.05 528.4ZM775.08 552.7 761.71 546.5 744.81 548.6 758.17 554.8ZM816.43 563.2 802.88 556.4 786.06 558.6 799.6 565.5ZM1011.51 755.7 996.56 741.2 979.31 745.5 994.27 760.1ZM1009.42 774 994.4 759 977.04 763.5 992.06 778.6Z"/>
<path fill="#00ffab" d="M806.69 548.7 793.3 542.7 776.6 544.7 789.98 550.8ZM997.97 625.7 983.64 615.8 967.15 618.8 981.47 628.9ZM996.08 898.9 980.65 880.4 962.65 886 978.09 904.6Z"/>
<path fill="#00ff95" d="M664.94 532 652.08 527.4 634.95 529.1 647.79 533.8ZM913.16 595.6 899.16 587.1 882.5 589.7 896.49 598.4ZM980.32 641.7 965.93 631.1 949.23 634.3 963.61 645ZM1017.59 704.6 1002.85 691.8 985.92 695.6 1000.66 708.6Z"/>
<path fill="#00ffb7" d="M863.49 556.7 849.89 550.2 833.38 552.4 846.96 559ZM986.47 604.6 972.29 595.6 955.9 598.4 970.08 607.5ZM1013.44 622.8 999.11 613 982.71 616 997.04 625.9ZM1073.89 757 1058.87 742.5 1041.94 746.8 1056.96 761.4Z"/>
<path fill="#00ff9c" d="M721.58 538 708.51 532.9 691.55 534.7 704.61 539.9ZM832.21 561 818.65 554.3 801.93 556.5 815.48 563.3ZM1031.57 717.1 1016.76 703.9 999.83 707.8 1014.64 721.2Z"/>
<path fill="#00ffd7" d="M977.15 575.3 963.19 567.7 947.02 570.1 960.98 577.9ZM1098.9 657.1 1084.28 645.9 1068.06 649.3 1082.68 660.6ZM1118.26 781.2 1103.13 765.9 1086.3 770.5 1101.44 785.8ZM1079.35 872.7 1063.95 854.9 1046.51 860.2 1061.91 878.1ZM1060.94 900.4 1045.48 882 1027.82 887.5 1043.29 906.1ZM986.45 996.6 970.76 975.8 952.33 982.1 968.04 1003.1Z"/>
<path fill="#00ffa5" d="M778.31 544.9 765.02 539.2 748.24 541.2 761.51 547Z"/>
<path fill="#00ff98" d="M693.25 534.9 680.28 530.1 663.24 531.8 676.19 536.7ZM1002.91 833.3 987.69 816.6 970.01 821.6 985.24 838.4Z"/>
<path fill="#00ff92" d="M636.64 529.3 623.9 525 606.68 526.6 619.41 531ZM734.01 543.2 720.84 537.7 703.87 539.6 717.03 545.2ZM858.06 574.8 844.32 567.3 827.58 569.7 841.31 577.3ZM939.81 612.9 925.65 603.6 908.96 606.4 923.11 615.9ZM953.24 622.1 939 612.4 922.31 615.3 936.54 625.2ZM1015.6 721 1000.79 707.6 983.75 711.6 998.57 725.1ZM964.55 886.7 949.18 868.6 931.06 874 946.44 892.3ZM865.7 1013.6 850.01 992.4 830.86 998.9 846.56 1020.3Z"/>
<path fill="#00ff8e" d="M580.14 524.4 567.63 520.7 550.24 522.2 562.73 526ZM1003.68 692.5 989 680.1 972.08 683.8 986.75 696.3ZM986.24 838.1 971.01 821.3 953.23 826.3 968.46 843.3Z"/>
<path fill="#00fff3" d="M1075.85 599.8 1061.57 590.9 1045.67 593.6 1059.95 602.7ZM1089.4 608.6 1075.04 599.3 1059.14 602.1 1073.49 611.5ZM1103.01 617.7 1088.59 608 1072.67 611 1087.1 620.8ZM1073.65 942.1 1058.07 922.6 1040.31 928.5 1055.91 948.1Z"/>
<path fill="#00ffde" d="M1018.89 588.4 1004.76 580 988.68 582.6 1002.8 591.1ZM1115.17 820.4 1099.91 804.1 1082.88 809 1098.15 825.4Z"/>
<path fill="#00ff8d" d="M705.58 539.8 692.51 534.6 675.45 536.5 688.5 541.8ZM871.11 582.2 857.28 574.4 840.53 576.9 854.35 584.8ZM886.68 981.4 871.07 960.9 852.15 967.2 867.77 987.8Z"/>
<path fill="#00ff85" d="M648.76 533.7 635.92 529 618.68 530.7 631.51 535.4ZM910.71 606.8 896.64 597.7 879.86 600.5 893.92 609.7ZM924.06 615.7 909.91 606.3 893.12 609.2 907.27 618.7ZM937.49 625 923.26 615.2 906.46 618.2 920.69 628.1Z"/>
<path fill="#00ff81" d="M620.39 530.9 607.66 526.5 590.34 528.1 603.04 532.6ZM829.48 1026.2 813.76 1004.7 794.37 1011.3 810.09 1033Z"/>
<path fill="#00ff7f" d="M592.04 528.3 579.43 524.2 562.02 525.8 574.6 529.9ZM855.3 584.7 841.48 576.7 824.63 579.2 838.43 587.3ZM971.87 822.2 956.71 805.8 938.93 810.7 954.09 827.3Z"/>
<path fill="#00ff7d" d="M563.71 525.9 551.23 522.1 533.73 523.6 546.19 527.5ZM689.47 541.7 676.42 536.4 659.26 538.2 672.29 543.6ZM985.56 712.1 970.81 699 953.67 702.9 968.42 716.1Z"/>
<path fill="#00ffb9" d="M904.89 567.9 891.12 560.7 874.68 563 888.44 570.3ZM1077.26 722.2 1062.38 708.8 1045.65 712.8 1060.54 726.3ZM1050.35 839.6 1035.07 822.7 1017.62 827.8 1032.9 844.8Z"/>
<path fill="#00ff97" d="M762.47 546.8 749.19 541.1 732.31 543 745.57 548.9ZM845.1 567.7 831.44 560.6 814.71 562.9 828.36 570.1ZM899.95 587.5 886.04 579.4 869.38 581.9 883.28 590.2ZM993.97 652 979.51 641 962.8 644.4 977.26 655.4Z"/>
<path fill="#00ff89" d="M677.16 536.6 664.21 531.7 647.06 533.5 659.99 538.5ZM746.53 548.8 733.26 542.9 716.28 544.9 729.53 550.9ZM829.31 570 815.66 562.8 798.83 565.1 812.46 572.4ZM1001.62 708.3 986.88 695.4 969.85 699.3 984.59 712.3ZM988.55 817.5 973.39 801.2 955.71 806.1 970.87 822.5ZM807.69 1060.2 791.89 1037.8 772.25 1044.7 788.06 1067.2Z"/>
<path fill="#00ffa4" d="M860.79 565.5 847.13 558.5 830.5 560.7 844.15 567.9ZM915.58 585 901.65 577 885.1 579.5 899.01 587.7ZM1035.32 685.3 1020.64 673.2 1003.92 676.8 1018.6 689.1ZM1045.61 730 1030.73 716.3 1013.8 720.4 1028.68 734.2ZM1039.91 784.2 1024.83 768.8 1007.59 773.4 1022.67 788.9ZM998.39 876.3 983.03 858.4 965.14 863.8 980.51 881.8ZM959.48 933.3 943.97 914 925.64 919.9 941.15 939.3Z"/>
<path fill="#00ff83" d="M717.99 545.1 704.83 539.5 687.76 541.5 700.9 547.1ZM842.26 577.2 828.53 569.6 811.69 572 825.41 579.7ZM976.05 669.4 961.52 657.8 944.6 661.3 959.13 673ZM995.25 759.8 980.29 745.3 962.94 749.6 977.89 764.3Z"/>
<path fill="#00ff74" d="M632.48 535.3 619.66 530.6 602.32 532.3 615.12 537.2ZM826.36 579.5 812.65 571.8 795.7 574.3 809.41 582.1ZM955.1 827 939.94 810.4 922.03 815.4 937.2 832.1ZM912.98 902.7 897.59 884.1 879.13 889.7 894.52 908.4ZM892.64 931.8 877.18 912.5 858.49 918.3 873.96 937.8Z"/>
<path fill="#00ff6e" d="M575.59 529.9 563.01 525.7 545.48 527.3 558.05 531.5ZM932.75 651.1 918.38 640.2 901.36 643.5 915.73 654.5ZM967.1 732.7 952.29 719 934.93 723.1 949.74 736.9Z"/>
<path fill="#00ffc7" d="M975.13 585.4 961.1 577.3 944.83 579.8 958.86 588.1ZM1094.48 702 1079.66 689.3 1063.14 693.1 1077.96 706ZM1084.71 809.6 1069.51 793.6 1052.37 798.4 1067.58 814.5ZM1008.4 940.5 992.85 921.1 974.75 927 990.31 946.6ZM951.61 1008.9 935.89 987.8 917.23 994.2 932.96 1015.5Z"/>
<path fill="#00ffdc" d="M1032.29 596.6 1018.09 587.9 1002 590.6 1016.19 599.4ZM1112.76 668.1 1098.07 656.4 1081.85 659.9 1096.54 671.6ZM1125.37 694.7 1110.55 682.2 1094.23 685.9 1109.05 698.6Z"/>
<path fill="#00ffbd" d="M946.55 580.1 932.61 572.3 916.25 574.8 930.18 582.7ZM1054.42 652.9 1039.87 641.9 1023.46 645.2 1038 656.3ZM1068.55 814.3 1053.35 798.1 1036.1 802.9 1051.32 819.2ZM1029.7 888.2 1014.28 870.1 996.51 875.6 1011.93 893.8ZM1010.69 916.7 995.2 897.8 977.21 903.5 992.7 922.5Z"/>
<path fill="#00ff96" d="M803.64 556.7 790.17 550.3 773.36 552.4 786.82 559ZM904.4 975.4 888.8 955.1 870 961.3 885.61 981.8Z"/>
<path fill="#00ff79" d="M660.97 538.4 648.03 533.4 630.78 535.2 643.69 540.3ZM730.49 550.8 717.24 544.8 700.15 546.8 713.38 552.9ZM881.6 600.9 867.62 592.1 850.75 594.8 864.72 603.7ZM935.14 637.8 920.83 627.4 903.93 630.5 918.23 641ZM976.58 782.8 961.56 767.5 943.99 772.1 959.01 787.5ZM952.59 847.9 937.36 830.8 919.35 835.9 934.58 853.2Z"/>
<path fill="#00ff71" d="M604.03 532.5 591.32 528 573.89 529.7 586.57 534.2ZM784.58 567.6 771.05 560.6 754.02 562.8 767.54 570ZM946.38 661.8 931.93 650.5 914.91 653.9 929.36 665.3ZM969.39 715.9 954.65 702.7 937.4 706.7 952.14 720Z"/>
<path fill="#00ff6c" d="M547.19 527.4 534.72 523.5 517.11 525.1 529.56 529ZM964.77 750.2 949.89 735.9 932.42 740.2 947.31 754.6ZM962.41 768.3 947.45 753.5 929.88 757.9 944.83 772.9Z"/>
<path fill="#00ff73" d="M701.87 547 688.73 541.3 671.55 543.3 684.67 549.1Z"/>
<path fill="#00ffba" d="M959.78 587.9 945.76 579.7 929.39 582.3 943.41 590.6ZM1040.69 642.5 1026.21 631.9 1009.81 635.1 1024.28 645.8ZM1066.58 678.3 1051.9 666.4 1035.38 670 1050.06 682ZM1070.37 794.5 1055.22 778.9 1038.09 783.5 1053.23 799.3ZM954.27 982.9 938.62 962.5 920.07 968.7 935.73 989.3Z"/>
<path fill="#00ffa7" d="M902.44 577.4 888.6 569.7 872.05 572.2 885.88 580ZM1047.44 713.3 1032.63 700.2 1015.8 704.1 1030.62 717.3ZM1037.94 803.6 1022.79 787.7 1005.44 792.4 1020.59 808.4Z"/>
<path fill="#00ff80" d="M759.13 554.7 745.77 548.4 728.77 550.5 742.11 556.9ZM800.56 565.4 787.01 558.4 770.09 560.7 783.62 567.7ZM950.05 869.6 934.74 851.9 916.62 857.2 931.93 875.1ZM889.68 956.2 874.14 936.3 855.34 942.4 870.88 962.4ZM789.18 1066.8 773.37 1044.3 753.6 1051.2 769.42 1073.9Z"/>
<path fill="#00deff" d="M1188.78 638 1174.14 627.5 1158.5 630.6 1173.13 641.3Z"/>
<path fill="#00feff" d="M1131.62 624.3 1117.12 614.3 1101.3 617.3 1115.8 627.4ZM1184.03 711.9 1169.08 698.8 1152.95 702.7 1167.9 715.9ZM1179.61 782.6 1164.43 767.3 1147.91 771.9 1163.1 787.3Z"/>
<path fill="#00ff9f" d="M873.77 572.5 860.02 565.1 843.38 567.4 857.12 574.9ZM942.09 601.4 928 592.5 911.43 595.3 925.51 604.2ZM982.4 628.7 968.09 618.7 951.49 621.7 965.8 631.9ZM1021.47 673.8 1006.86 662.1 990.14 665.6 1004.75 677.5Z"/>
<path fill="#00ff6d" d="M673.26 543.5 660.23 538.1 642.96 540 655.97 545.5ZM852.5 595.2 838.61 586.7 821.64 589.3 835.52 597.9ZM960.01 787.2 944.98 771.8 927.3 776.4 942.33 791.9ZM854.11 968 838.55 947.8 819.51 953.9 835.07 974.3Z"/>
<path fill="#00ff68" d="M644.67 540.2 631.76 535.1 614.39 536.9 627.3 542.1ZM755.75 563.1 742.32 556.4 725.2 558.6 738.62 565.4ZM814.65 1005.9 799.01 984.8 779.6 991.2 795.25 1012.5Z"/>
<path fill="#00ff64" d="M616.11 537.1 603.3 532.2 585.85 534 598.64 538.9ZM930.33 665.1 915.88 653.7 898.76 657.1 913.2 668.7ZM918.52 857.9 903.27 840.5 885.04 845.8 900.28 863.3ZM836.15 973.9 820.59 953.6 801.42 959.8 816.99 980.3Z"/>
<path fill="#00ff61" d="M587.56 534.2 574.88 529.6 557.34 531.3 570 535.9ZM726.93 558.8 713.6 552.4 696.39 554.5 709.7 561.1ZM916.7 654.3 902.33 643.3 885.21 646.7 899.57 657.8ZM948.3 754.3 933.42 739.9 915.84 744.2 930.73 758.8ZM945.83 772.7 930.88 757.7 913.2 762.2 928.15 777.3ZM898.46 885.2 883.14 867.1 864.68 872.5 880 890.8ZM857.28 943.2 841.8 923.6 822.87 929.5 838.36 949.3Z"/>
<path fill="#00ff5d" d="M559.05 531.4 546.48 527.2 528.85 528.8 541.4 533.2ZM656.95 545.4 643.94 539.9 626.56 541.8 639.56 547.4ZM939.21 707.2 924.55 694.3 907.2 698.1 921.86 711.2Z"/>
<path fill="#00ff5b" d="M530.56 528.9 518.11 525 500.39 526.5 512.82 530.6ZM862.91 615.1 848.87 605.7 831.77 608.6 845.81 618.1ZM876.25 624.3 862.12 614.6 845.02 617.6 859.14 627.4Z"/>
<path fill="#00ff87" d="M787.78 558.8 774.32 552.3 757.41 554.5 770.85 561.1ZM897.43 598.2 883.44 589.6 866.67 592.3 880.65 601Z"/>
<path fill="#00ff9a" d="M886.82 579.8 872.99 572 856.34 574.5 870.16 582.4ZM1029.64 734 1014.76 720.2 997.73 724.3 1012.61 738.2ZM962.03 909.7 946.59 890.9 928.37 896.6 943.81 915.4ZM883.64 1007.4 867.96 986.3 848.93 992.7 864.62 1014Z"/>
<path fill="#00ff70" d="M743.08 556.8 729.74 550.4 712.63 552.5 725.96 559ZM839.39 587.2 825.59 579.1 808.63 581.6 822.42 589.8ZM957.57 806.7 942.48 790.8 924.69 795.5 939.78 811.6Z"/>
<path fill="#00ff63" d="M685.65 549 672.52 543.2 655.23 545.2 668.34 551Z"/>
<path fill="#00ff54" d="M599.63 538.8 586.84 533.9 569.28 535.7 582.05 540.7ZM900.54 657.6 886.18 646.5 868.95 649.8 883.31 661.1ZM904.14 841.5 888.96 824.6 870.72 829.6 885.9 846.7Z"/>
<path fill="#00ff4d" d="M542.4 533.1 529.85 528.7 512.11 530.3 524.64 534.8ZM640.55 547.3 627.55 541.7 610.06 543.6 623.04 549.3ZM765.17 579.3 751.57 571.7 734.32 574.1 747.9 581.8ZM846.78 617.9 832.74 608.4 815.55 611.4 829.58 621ZM920.28 727.5 905.55 714 887.98 718 902.71 731.7ZM863.52 895.8 848.2 877.4 829.49 883 844.83 901.5ZM759.4 1024.8 743.73 1003.2 723.94 1009.8 739.62 1031.5Z"/>
<path fill="#00ff4a" d="M513.82 530.5 501.4 526.4 483.57 528 495.97 532.2ZM681.78 556.8 668.58 550.6 651.17 552.7 664.36 559ZM723.33 567.5 709.93 560.6 692.59 562.8 705.98 569.8ZM915.04 762.7 900.16 748.1 882.37 752.5 897.25 767.3ZM912.37 781.4 897.42 766.2 879.51 770.7 894.47 786.1Z"/>
<path fill="#00c8ff" d="M1231.26 655.8 1216.49 644.5 1200.93 647.9 1215.7 659.2ZM1244.62 681.6 1229.73 669.4 1214.08 673.1 1228.97 685.3Z"/>
<path fill="#00fcff" d="M1145.37 634.1 1130.8 623.7 1114.97 626.9 1129.54 637.3ZM1172.04 669.1 1157.28 657.4 1141.35 660.9 1156.11 672.7Z"/>
<path fill="#00ff69" d="M714.36 552.8 701.12 546.7 683.92 548.7 697.14 554.9ZM878.94 612.3 864.89 603 847.9 605.9 861.95 615.3ZM892.28 621.4 878.15 611.8 861.15 614.7 875.28 624.5ZM944.03 676.3 929.51 664.4 912.38 668 926.9 679.9ZM955.48 703.5 940.81 690.7 923.57 694.5 938.24 707.4ZM938.22 831.8 923.05 815.1 905.04 820.1 920.21 836.9Z"/>
<path fill="#00ff78" d="M771.81 561 758.37 554.3 741.35 556.5 754.78 563.2ZM981.14 746.1 966.26 731.9 948.9 736.1 963.78 750.4ZM978.88 764.1 963.92 749.4 946.46 753.8 961.41 768.6ZM811.19 1032.6 795.47 1010.9 775.94 1017.6 791.68 1039.5Z"/>
<path fill="#00ff58" d="M628.28 542 615.38 536.8 597.91 538.6 610.79 543.9ZM914.17 668.5 899.73 656.9 882.5 660.4 896.93 672Z"/>
<path fill="#00ff50" d="M571 535.8 558.33 531.2 540.68 532.9 553.33 537.6ZM820.37 600.4 806.5 591.7 789.32 594.4 803.18 603.2ZM911.61 683.2 897.09 671.2 879.75 674.8 894.26 687Z"/>
<path fill="#00ff53" d="M669.33 550.9 656.22 545 638.82 547 651.91 553ZM752.34 572.1 738.83 564.9 721.59 567.2 735.08 574.5ZM807.28 592.2 793.5 583.9 776.33 586.5 790.1 594.9Z"/>
<path fill="#00ff3c" d="M525.65 534.7 513.12 530.3 495.27 531.9 507.77 536.4Z"/>
<path fill="#00ff7a" d="M813.42 572.3 799.79 565 782.85 567.3 796.47 574.7ZM983.37 728.8 968.55 715.1 951.31 719.2 966.12 732.9Z"/>
<path fill="#00ffc2" d="M1015.29 610.7 1001.03 601.4 984.74 604.3 998.99 613.7ZM1091.37 735.2 1076.42 721.4 1059.69 725.5 1074.64 739.5ZM1088.11 771.1 1073.03 756.2 1056.1 760.6 1071.18 775.7ZM1066.71 834.7 1051.43 818 1034.09 823 1049.37 839.9ZM971.65 977 956.01 956.6 937.58 962.8 953.22 983.3Z"/>
<path fill="#00f8ff" d="M1159.18 644.2 1144.54 633.5 1128.71 636.7 1143.34 647.6Z"/>
<path fill="#00ffe9" d="M1101.68 630.2 1087.18 620.1 1071.17 623.1 1085.66 633.4ZM1111.94 862.5 1096.55 845 1079.32 850.3 1094.72 867.8ZM1075.59 918.2 1060.06 899.4 1042.42 905 1057.94 924.1Z"/>
<path fill="#00ffa1" d="M928.8 593 914.79 584.6 898.22 587.2 912.22 595.8ZM1019.47 828.4 1004.25 811.9 986.69 816.8 1001.91 833.5Z"/>
<path fill="#00ff5a" d="M698.12 554.8 684.9 548.6 667.6 550.7 680.8 556.9ZM923.91 816 908.81 799.8 890.79 804.7 905.89 821ZM901.32 863 886.07 845.5 867.72 850.7 882.97 868.4ZM818.08 979.9 802.51 959.4 783.22 965.7 798.79 986.3Z"/>
<path fill="#00ff48" d="M611.79 543.8 598.9 538.5 581.33 540.4 594.19 545.8ZM778.08 586.8 764.39 578.8 747.13 581.4 760.81 589.5ZM781.58 992 766 971.2 746.45 977.6 762.05 998.6Z"/>
<path fill="#00ff44" d="M583.05 540.6 570.28 535.6 552.61 537.3 565.36 542.4ZM652.9 552.9 639.81 546.9 622.31 548.9 635.38 555ZM736.06 574.4 722.57 567.1 705.22 569.4 718.7 576.8ZM906.38 714.7 891.72 701.6 874.15 705.5 888.81 718.8ZM889.82 825.5 874.72 809 856.47 814 871.58 830.6ZM803.39 960.6 787.89 940.5 768.59 946.6 784.1 966.8Z"/>
<path fill="#00ff40" d="M554.33 537.5 541.69 532.8 523.93 534.5 536.55 539.3ZM817.32 611.7 803.37 602.5 786.07 605.4 800.01 614.7ZM830.56 620.8 816.52 611.2 799.22 614.1 813.24 623.8ZM843.87 630.2 829.76 620.2 812.45 623.3 826.55 633.4Z"/>
<path fill="#00ff3a" d="M496.99 532.1 484.58 527.9 466.64 529.5 479.02 533.8ZM761.79 589.3 748.11 581.2 730.74 583.8 744.4 592Z"/>
<path fill="#00ffb6" d="M999.92 613.5 985.66 604.1 969.27 607 983.52 616.5ZM1052.73 667 1038.11 655.5 1021.6 659 1036.21 670.6ZM1031.81 866 1016.46 848.4 998.8 853.7 1014.15 871.4ZM974.17 952 958.6 932.2 940.28 938.2 955.85 958.1Z"/>
<path fill="#00ff6b" d="M797.43 574.6 783.81 567.2 766.77 569.6 780.38 577.1ZM865.68 603.6 851.71 594.7 834.73 597.4 848.69 606.4ZM919.19 640.8 904.89 630.4 887.88 633.5 902.17 644.1ZM915.77 879.9 900.45 862 882.1 867.4 897.42 885.5ZM875.02 937.5 859.55 918 840.74 923.9 856.22 943.5Z"/>
<path fill="#00ff62" d="M768.51 569.8 754.99 562.7 737.86 565 751.36 572.2ZM823.39 589.7 809.59 581.5 792.53 584.1 806.31 592.3ZM941.64 691.4 927.05 679 909.81 682.7 924.4 695.2ZM950.73 736.7 935.92 722.8 918.45 727 933.26 741ZM943.33 791.7 928.31 776.1 910.51 780.8 925.54 796.4Z"/>
<path fill="#00ff51" d="M710.68 560.9 697.37 554.4 680.05 556.6 693.35 563.2ZM886.99 647.1 872.71 636.4 855.49 639.6 869.76 650.4ZM922.85 710.9 908.18 697.9 890.73 701.8 905.39 715ZM799.89 986 784.31 965.3 764.89 971.6 780.48 992.4Z"/>
<path fill="#00ff3e" d="M624.04 549.2 611.06 543.5 593.46 545.4 606.42 551.2ZM748.88 581.7 735.3 574 717.94 576.4 731.51 584.2ZM881.55 675.3 867.12 663.5 849.68 667.1 864.1 678.9ZM898.26 767 883.38 752.2 865.48 756.6 880.36 771.6Z"/>
<path fill="#00ff33" d="M566.36 542.3 553.62 537.2 535.84 539.1 548.57 544.3ZM677.88 565.2 664.6 558.5 647.06 560.7 660.33 567.5ZM884.22 753 869.41 738.7 851.51 743 866.32 757.5ZM881.37 771.3 866.49 756.4 848.47 760.8 863.36 775.9ZM878.49 790.3 863.53 774.8 845.4 779.4 860.36 795Z"/>
<path fill="#00ff2f" d="M537.56 539.2 524.93 534.4 507.06 536.2 519.67 541.1ZM732.5 584.1 718.92 576.3 701.46 578.8 715.02 586.7ZM855.3 835.2 840.19 818.4 821.71 823.4 836.82 840.3ZM810.28 912.1 794.93 893.2 775.87 898.9 791.22 917.9ZM788.76 941.6 773.33 922.1 754.03 928 769.46 947.7Z"/>
<path fill="#00ff2c" d="M508.79 536.3 496.28 531.8 478.32 533.5 490.8 538.1ZM690.5 572 677.13 564.8 659.58 567.2 672.94 574.4ZM851.48 667.5 837.13 656.1 819.58 659.5 833.93 671.1ZM873.13 722.4 858.47 709 840.69 713 855.34 726.6Z"/>
<path fill="#00ff29" d="M480.04 533.7 467.66 529.4 449.6 531 461.97 535.4ZM837.94 656.7 823.68 645.7 806.13 649 820.39 660.2ZM870.25 739.5 855.52 725.5 837.62 729.7 852.35 743.8Z"/>
<path fill="#00ff8a" d="M884.23 590.1 870.32 581.8 853.56 584.4 867.46 592.8ZM967.03 864.5 951.73 846.9 933.72 852.2 949.02 869.9ZM907.3 950.4 891.77 930.7 873.08 936.7 888.62 956.6ZM847.65 1019.9 831.95 998.5 812.67 1005 828.38 1026.6Z"/>
<path fill="#00ff59" d="M739.59 565.3 726.17 558.5 708.95 560.7 722.35 567.6ZM936.75 723.6 922.02 710.2 904.55 714.2 919.29 727.8Z"/>
<path fill="#00ff38" d="M595.19 545.7 582.32 540.3 564.64 542.2 577.48 547.6ZM889.81 718.6 875.15 705.3 857.47 709.3 872.13 722.7Z"/>
<path fill="#00ff93" d="M926.45 604.1 912.37 595.1 895.69 597.9 909.76 607ZM966.74 631.7 952.43 621.5 935.73 624.6 950.04 634.9ZM924.8 944.7 909.28 925.1 890.71 931 906.24 950.8Z"/>
<path fill="#00ff5c" d="M781.35 576.9 767.74 569.4 750.6 571.8 764.19 579.4ZM849.66 606.2 835.69 597.3 818.61 600.1 832.57 609.1ZM889.65 634 875.44 623.8 858.34 626.9 872.54 637.2ZM927.87 679.7 913.35 667.8 896.12 671.4 910.63 683.4Z"/>
<path fill="#00ff42" d="M694.33 563.1 681.03 556.4 663.61 558.6 676.89 565.4ZM804.16 603.1 790.3 594.3 773.01 597 786.86 605.9Z"/>
<path fill="#00ff34" d="M636.38 554.9 623.3 548.8 605.69 550.9 618.75 557ZM787.84 605.7 773.99 596.8 756.6 599.6 770.44 608.6ZM840.93 643.1 826.74 632.6 809.31 635.8 823.49 646.5ZM852.2 856.4 837.02 839.1 818.42 844.3 833.61 861.8Z"/>
<path fill="#00ff23" d="M549.58 544.1 536.85 539 518.96 540.8 531.67 546.1ZM661.33 567.4 648.06 560.6 630.42 562.8 643.67 569.8Z"/>
<path fill="#00ff1b" d="M491.83 538 479.34 533.4 461.26 535.1 473.73 539.8ZM774.21 923.2 758.85 904 739.54 909.8 754.9 929.1Z"/>
<path fill="#00efff" d="M1186.98 665.7 1172.21 654.1 1156.38 657.6 1171.14 669.3ZM1193.99 797.4 1178.75 781.7 1162.24 786.4 1177.48 802.2Z"/>
<path fill="#00ffc4" d="M1042.41 629.5 1028 619.3 1011.7 622.4 1026.1 632.6ZM1092.94 718.3 1078.06 705 1061.44 709 1076.32 722.4ZM1086.43 790 1071.29 774.5 1054.26 779.1 1069.4 794.8Z"/>
<path fill="#00ffdf" d="M1100.3 643.4 1085.75 632.7 1069.63 635.9 1084.19 646.7ZM1077.49 895.1 1062.03 876.8 1044.48 882.3 1059.95 900.7ZM1003.71 990.5 988.03 969.9 969.72 976.2 985.41 997Z"/>
<path fill="#00ff66" d="M810.37 581.9 796.66 574.1 779.61 576.6 793.31 584.5ZM774.26 1045.6 758.51 1023.5 738.73 1030.3 754.49 1052.5Z"/>
<path fill="#00ff7b" d="M868.41 592.6 854.51 584.2 837.65 586.8 851.54 595.3ZM948.7 647.9 934.33 637.2 917.42 640.4 931.79 651.3ZM973.87 684.3 959.27 672.2 942.24 675.8 956.84 688ZM974.24 802.1 959.15 786.3 941.47 791 956.57 807ZM850.9 993.5 835.27 972.7 816.11 979.1 831.74 1000.1Z"/>
<path fill="#00ff3b" d="M665.35 558.9 652.16 552.5 634.64 554.7 647.81 561.1ZM706.97 569.7 693.58 562.7 676.14 565 689.51 572.1ZM849.06 878.4 833.8 860.5 815.1 865.9 830.36 884ZM785.19 966.5 769.68 946.3 750.26 952.4 765.77 972.8Z"/>
<path fill="#00ff2e" d="M607.42 551.1 594.46 545.3 576.75 547.3 589.7 553.2Z"/>
<path fill="#00ff28" d="M578.49 547.5 565.64 542 547.84 544 560.67 549.5ZM758.37 599.9 744.61 591.3 727.12 594 740.87 602.7ZM861.39 794.8 846.43 779.1 828.19 783.8 843.14 799.6ZM748.44 978.4 732.92 957.9 713.24 964.2 728.77 984.8Z"/>
<path fill="#00ff1f" d="M520.69 541 508.08 536.1 490.09 537.9 502.68 542.8ZM834.92 670.9 820.58 659.3 802.92 662.8 817.26 674.5ZM817.02 866.6 801.83 849 783 854.3 798.19 872.1Z"/>
<path fill="#00ff18" d="M462.99 535.3 450.63 530.9 432.46 532.6 444.8 537ZM561.68 549.4 548.85 543.8 530.94 545.8 543.76 551.4ZM842.52 713.6 827.95 700.5 810.05 704.4 824.62 717.6Z"/>
<path fill="#00e9ff" d="M1200.97 677 1186.14 665 1170.3 668.6 1185.13 680.7ZM1212.4 737.8 1197.33 723.9 1181.21 728.1 1196.27 742.1ZM1211.46 755.5 1196.34 741.1 1180.11 745.4 1195.24 760Z"/>
<path fill="#00fff2" d="M1143.09 661.4 1128.39 650 1112.37 653.4 1127.06 664.9ZM1155.88 687.5 1141.06 675.2 1124.93 678.9 1139.75 691.3ZM1128.08 857.5 1112.7 840.1 1095.58 845.3 1110.97 862.8Z"/>
<path fill="#00ff57" d="M794.27 584.4 780.58 576.5 763.42 579 777.11 587ZM926.55 796.2 911.52 780.5 893.62 785.2 908.65 801ZM881.05 890.5 865.72 872.2 847.14 877.7 862.47 896.1ZM839.43 948.9 823.95 929.2 804.89 935.2 820.39 955.1Z"/>
<path fill="#00ff2b" d="M648.81 561 635.63 554.5 618.01 556.7 631.16 563.2ZM745.39 591.8 731.73 583.6 714.25 586.2 727.9 594.5ZM858.36 814.6 843.33 798.4 824.97 803.3 840 819.6Z"/>
<path fill="#00ff24" d="M619.75 556.9 606.69 550.8 588.96 552.8 602.01 559.1ZM784.57 617.3 770.64 607.9 753.13 610.8 767.05 620.3ZM797.79 626.6 783.78 616.8 766.26 619.8 780.27 629.7ZM848.53 682.2 834.11 670.2 816.44 673.8 830.86 685.9ZM859.3 709.8 844.72 696.8 826.94 700.7 841.51 713.8ZM837.87 840 822.76 823.1 804.17 828.2 819.28 845.3Z"/>
<path fill="#00ff1e" d="M590.71 553.1 577.76 547.2 559.94 549.2 572.87 555.2ZM729.89 984.5 714.36 963.8 694.55 970.1 710.09 990.9Z"/>
<path fill="#00ff13" d="M532.68 546 519.97 540.7 501.97 542.6 514.66 547.9ZM699.42 589 685.87 581 668.19 583.5 681.72 591.6ZM818.26 674.3 803.92 662.6 786.15 666.1 800.48 677.9ZM826.86 803.9 811.9 788 793.42 792.8 808.38 808.8ZM777.82 899.7 762.54 881.1 743.35 886.7 758.63 905.4ZM733.8 959.1 718.35 939 698.66 945.1 714.12 965.3Z"/>
<path fill="#00ff11" d="M503.71 542.7 491.12 537.7 473.02 539.5 485.59 544.6ZM804.73 663.3 790.48 652 772.71 655.4 786.96 666.8ZM802.69 849.9 787.57 832.7 768.74 837.9 783.86 855.3Z"/>
<path fill="#00ff0e" d="M474.76 539.7 462.29 535 444.1 536.7 456.54 541.5ZM725.25 605.3 711.52 596.4 693.81 599.2 707.53 608.1ZM815.09 689.3 800.68 677.1 782.79 680.7 797.2 693.1ZM806.08 828.9 791.04 812.3 772.33 817.2 787.36 834ZM781.39 876.9 766.19 859 747.12 864.4 762.32 882.5Z"/>
<path fill="#00ff0c" d="M445.83 536.9 433.49 532.5 415.21 534.2 427.53 538.7ZM669.95 583.8 656.51 576.1 638.73 578.6 652.16 586.4ZM822.47 734.2 807.82 720.5 789.7 724.6 804.34 738.5ZM809.43 808.5 794.47 792.5 775.87 797.3 790.83 813.5ZM759.72 905.1 744.44 886.4 725.12 892.1 740.4 910.9ZM737.67 934.4 722.3 915 702.74 920.9 718.11 940.5Z"/>
<path fill="#00ff77" d="M894.87 609.5 880.81 600.4 863.93 603.2 877.98 612.5ZM908.22 618.6 894.08 609 877.19 611.9 891.32 621.6ZM921.64 628 907.42 618 890.52 621 904.74 631.1ZM871.95 962.1 856.4 942 837.48 948.1 853.03 968.3Z"/>
<path fill="#00ff35" d="M719.69 576.7 706.21 569.3 688.75 571.7 702.22 579.2ZM887.03 735.5 872.3 721.6 854.51 725.8 869.24 739.7ZM744.61 1004.4 729.01 983.3 709.21 989.7 724.82 1011Z"/>
<path fill="#00ff15" d="M603.02 559 589.97 552.7 572.14 554.8 585.17 561.2ZM823.62 824.1 808.58 807.6 789.98 812.5 805.02 829.2ZM799.26 871.7 784.07 854 765.12 859.3 780.31 877.3Z"/>
<path fill="#00ff10" d="M573.88 555 560.95 549.1 543.03 551.1 555.94 557.2ZM657.27 576.5 643.92 569.2 626.15 571.6 639.48 579ZM712.29 596.9 698.65 588.5 680.95 591.2 694.58 599.7Z"/>
<path fill="#00ff09" d="M515.68 547.8 502.99 542.4 484.87 544.3 497.55 549.8ZM682.73 591.5 669.19 583.4 651.39 585.9 664.92 594.2Z"/>
<path fill="#00ff04" d="M457.58 541.4 445.13 536.6 426.83 538.4 439.25 543.3ZM721.57 616.7 707.75 607.4 689.92 610.3 703.72 619.7ZM734.68 625.9 720.78 616.2 702.94 619.2 716.83 629ZM747.88 635.5 733.89 625.4 716.04 628.5 730.02 638.7Z"/>
<path fill="#00ff02" d="M428.57 538.6 416.25 534.1 397.85 535.7 410.15 540.3ZM527.76 553.3 514.96 547.5 496.83 549.5 509.6 555.3ZM794.9 708.7 780.42 695.8 762.3 699.6 776.78 712.7Z"/>
<path fill="#00a2ff" d="M1301.75 714.4 1286.7 701.2 1271.14 705.1 1286.2 718.5Z"/>
<path fill="#00ffc8" d="M1069.81 649.7 1055.25 638.8 1038.94 642.1 1053.49 653.1ZM1064.82 855.9 1049.48 838.6 1032.03 843.8 1047.38 861.2Z"/>
<path fill="#00ff5f" d="M836.48 597.8 822.6 589.2 805.53 591.9 819.4 600.6ZM796.35 1012.1 780.7 990.9 761.16 997.4 776.83 1018.8Z"/>
<path fill="#00ff1c" d="M632.16 563.1 619.01 556.5 601.27 558.7 614.41 565.4ZM821.39 660 807.13 648.8 789.48 652.2 803.73 663.5ZM850.34 761.4 835.53 746.8 817.4 751.2 832.21 765.9ZM847.28 780 832.4 764.8 814.15 769.4 829.03 784.7ZM795.8 894.3 780.53 875.9 761.46 881.5 776.73 900ZM752.24 953.2 736.8 933.3 717.24 939.4 732.69 959.4Z"/>
<path fill="#00ff0d" d="M544.77 551.3 531.96 545.7 513.94 547.6 526.73 553.4ZM738.29 614 724.47 604.7 706.75 607.6 720.56 616.9ZM751.42 623 737.51 613.4 719.77 616.4 733.67 626.1ZM764.62 632.5 750.63 622.5 732.88 625.5 746.87 635.7ZM777.91 642.4 763.83 631.9 746.08 635.1 760.16 645.7ZM715.24 965 699.78 944.8 679.97 950.9 695.43 971.3Z"/>
<path fill="#00ff06" d="M486.62 544.5 474.05 539.4 455.84 541.3 468.39 546.4ZM556.96 557 544.05 551 526 553 538.9 559.2ZM640.49 578.9 627.16 571.4 609.28 573.8 622.6 581.4ZM774.53 655.8 760.36 644.9 742.5 648.2 756.65 659.3ZM798.22 692.9 783.81 680.5 765.81 684.2 780.21 696.7ZM741.5 910.6 726.22 891.7 706.77 897.4 722.06 916.4ZM719.22 940.1 703.85 920.6 684.16 926.5 699.54 946.2Z"/>
<path fill="#00ff0a" d="M586.18 561 573.15 554.7 555.2 556.8 568.22 563.2ZM627.91 571.9 614.67 564.8 596.81 567.1 610.03 574.3ZM811.89 704.9 797.4 692.2 779.39 696 793.88 708.9ZM816.02 770 801.22 755.1 782.86 759.6 797.66 774.6ZM812.75 788.9 797.86 773.4 779.39 778.1 794.27 793.7ZM784.93 855 769.81 837.6 750.85 842.8 765.97 860.3Z"/>
<path fill="#00ff00" d="M440.29 543.2 427.87 538.3 409.45 540.1 421.85 545.1ZM498.58 549.7 485.9 544.2 467.67 546.1 480.32 551.7ZM469.42 546.3 456.87 541.2 438.55 543 451.07 548.3ZM411.19 540.2 398.9 535.6 380.38 537.4 392.66 542ZM539.92 559.1 527.03 552.9 508.87 555 521.75 561.2ZM481.36 551.6 468.71 546 450.36 548 462.99 553.6ZM452.11 548.2 439.59 542.9 421.14 544.8 433.65 550.1ZM422.9 544.9 410.49 540 391.96 541.8 404.34 546.8ZM393.71 541.9 381.43 537.3 362.8 539 375.05 543.8ZM510.63 555.2 497.86 549.4 479.6 551.4 492.36 557.3ZM552.19 565.2 539.19 558.7 521.02 560.9 534 567.5ZM464.04 553.5 451.4 547.9 432.94 549.8 445.55 555.6ZM405.39 546.7 393.01 541.7 374.35 543.5 386.71 548.7ZM581.61 569.6 568.5 562.7 550.42 565 563.52 571.9ZM522.78 561.1 509.91 554.9 491.64 557 504.49 563.3ZM493.4 557.2 480.64 551.3 462.28 553.3 475.01 559.3ZM434.7 550 422.19 544.7 403.63 546.5 416.12 552ZM376.11 543.7 363.86 538.9 345.11 540.6 357.34 545.5ZM623.61 581.2 610.29 573.7 592.3 576.1 605.61 583.7ZM594.07 576.4 580.86 569.2 562.77 571.5 575.96 578.8ZM564.54 571.8 551.45 564.9 533.26 567.1 546.34 574.2ZM535.03 567.4 522.05 560.8 503.76 563 516.72 569.7ZM505.53 563.2 492.67 556.9 474.29 559 487.13 565.4ZM476.06 559.2 463.32 553.2 444.84 555.2 457.55 561.4ZM446.6 555.5 433.99 549.7 415.41 551.7 428 557.5ZM417.17 551.9 404.69 546.4 386.01 548.4 398.47 553.9ZM387.77 548.5 375.41 543.4 356.64 545.2 368.98 550.5ZM358.4 545.4 346.17 540.5 327.3 542.3 339.51 547.3ZM665.93 594 652.4 585.8 634.49 588.4 648.01 596.7ZM636.27 588.7 622.86 580.8 604.85 583.3 618.25 591.3ZM576.99 578.7 563.8 571.4 545.59 573.8 558.77 581.2ZM517.76 569.6 504.8 562.8 486.4 565.1 499.34 571.9ZM488.17 565.3 475.33 558.9 456.83 561 469.65 567.6ZM429.06 557.4 416.46 551.6 397.77 553.6 410.34 559.5ZM370.04 550.4 357.71 545.1 338.81 547 351.13 552.4ZM340.58 547.2 328.38 542.2 309.38 544 321.56 549.1ZM606.63 583.6 593.32 576 575.21 578.4 588.51 586.2ZM547.37 574 534.29 567 515.99 569.3 529.05 576.4ZM458.6 561.3 445.89 555.1 427.29 557.2 439.98 563.4ZM399.54 553.8 387.07 548.2 368.27 550.2 380.72 555.8ZM649.02 596.6 635.51 588.2 617.49 590.9 630.99 599.3ZM500.39 571.8 487.44 564.9 468.92 567.2 481.85 574.1ZM352.2 552.2 339.89 546.9 320.87 548.8 333.16 554.2ZM678.78 602.1 665.16 593.5 647.24 596.2 660.84 605ZM619.28 591.2 605.87 583.2 587.75 585.7 601.14 593.8ZM589.54 586 576.24 578.3 558.02 580.8 571.3 588.6ZM559.81 581 546.63 573.6 528.31 576 541.47 583.6ZM530.09 576.3 517.03 569.2 498.61 571.5 511.65 578.7ZM470.7 567.4 457.88 560.9 439.26 563.1 452.06 569.7ZM441.04 563.3 428.34 557.1 409.62 559.2 422.3 565.5ZM411.4 559.4 398.83 553.5 380.01 555.5 392.56 561.5ZM381.79 555.7 369.34 550.1 350.42 552 362.85 557.8ZM322.64 549 310.46 543.9 291.35 545.7 303.5 550.9ZM691.71 610.7 678 601.6 660.07 604.5 673.77 613.6ZM661.86 604.8 648.26 596.1 630.22 598.8 643.81 607.6ZM632.01 599.1 618.51 590.7 600.38 593.4 613.86 601.9ZM602.17 593.7 588.78 585.6 570.54 588.1 583.92 596.4ZM542.51 583.4 529.35 575.9 510.91 578.3 524.06 585.9ZM512.7 578.6 499.65 571.4 481.11 573.7 494.14 581ZM482.9 574 469.98 567 451.34 569.3 464.24 576.4ZM453.12 569.6 440.32 563 421.58 565.2 434.36 571.9ZM393.63 561.4 381.08 555.4 362.14 557.5 374.67 563.6ZM363.92 557.7 351.5 551.9 332.46 553.9 344.86 559.8ZM334.24 554.1 321.95 548.7 302.81 550.6 315.08 556.1ZM304.59 550.8 292.43 545.6 273.2 547.5 285.33 552.7ZM572.33 588.4 559.06 580.6 540.72 583.1 553.98 591ZM423.36 565.4 410.69 559.1 391.85 561.2 404.51 567.6ZM674.79 613.4 661.09 604.3 643.04 607.1 656.73 616.4ZM614.89 601.7 601.41 593.2 583.16 595.9 596.63 604.5ZM525.1 585.8 511.96 578.2 493.4 580.6 506.53 588.4ZM465.3 576.2 452.4 569.2 433.64 571.5 446.53 578.6ZM375.75 563.5 363.22 557.3 344.16 559.4 356.66 565.7ZM316.17 556 303.9 550.5 284.64 552.4 296.88 558.1ZM704.74 619.6 690.93 610.1 672.99 613.1 686.78 622.6ZM644.84 607.5 631.25 598.6 613.1 601.4 626.68 610.3ZM584.95 596.2 571.58 588 553.23 590.6 566.59 598.9ZM555.02 590.9 541.76 583 523.31 585.5 536.55 593.5ZM495.2 580.9 482.17 573.6 463.51 576 476.52 583.4ZM435.43 571.8 422.64 565 403.79 567.3 416.55 574.1ZM405.58 567.5 392.92 561.1 373.96 563.2 386.6 569.8ZM345.94 559.6 333.54 553.8 314.38 555.8 326.76 561.8ZM286.42 552.6 274.29 547.4 254.93 549.3 267.04 554.6ZM717.84 628.9 703.95 619 686 622 699.88 632ZM687.8 622.4 674.01 612.9 655.95 615.8 669.73 625.5ZM657.75 616.2 644.07 607 625.91 609.8 639.58 619.2ZM627.71 610.2 614.13 601.2 595.87 604 609.43 613.1ZM597.67 604.4 584.2 595.7 565.83 598.4 579.29 607.2ZM567.63 598.8 554.27 590.4 535.8 593.1 549.15 601.5ZM537.6 593.4 524.36 585.4 505.79 587.9 519.02 596.1ZM507.59 588.2 494.46 580.5 475.78 583 488.9 590.8ZM477.58 583.3 464.57 575.8 445.79 578.2 458.79 585.8ZM447.59 578.5 434.7 571.4 415.83 573.7 428.7 580.9ZM417.62 574 404.86 567.1 385.88 569.4 398.62 576.3ZM387.67 569.6 375.03 563.1 355.95 565.3 368.57 571.9ZM357.75 565.5 345.24 559.3 326.06 561.4 338.54 567.7ZM327.85 561.6 315.47 555.7 296.19 557.7 308.54 563.8ZM731.03 638.5 717.05 628.3 699.09 631.4 713.06 641.8ZM700.9 631.8 687.02 621.9 668.95 624.9 682.82 635ZM640.61 619 626.94 609.7 608.66 612.6 622.33 622ZM580.33 607 566.87 598.3 548.39 601 561.84 609.9ZM550.2 601.4 536.85 592.9 518.26 595.6 531.6 604.1ZM489.96 590.7 476.84 582.8 458.05 585.3 471.15 593.3ZM429.77 580.8 416.9 573.6 397.9 575.9 410.75 583.3ZM399.7 576.2 386.96 569.3 367.85 571.5 380.58 578.6ZM670.76 625.3 656.98 615.7 638.81 618.6 652.57 628.4ZM610.47 612.9 596.9 603.9 578.52 606.7 592.08 615.8ZM520.07 595.9 506.84 587.8 488.15 590.4 501.37 598.6ZM459.85 585.6 446.86 578.1 427.96 580.5 440.94 588.2ZM714.08 641.6 700.11 631.2 682.03 634.4 695.99 644.9ZM562.89 609.7 549.44 600.9 530.84 603.6 544.27 612.6ZM744.31 648.6 730.24 638 712.27 641.2 726.33 652ZM683.85 634.8 669.97 624.8 651.79 627.8 665.65 638ZM653.61 628.2 639.84 618.5 621.55 621.5 635.31 631.3ZM623.36 621.8 609.7 612.4 591.31 615.3 604.96 624.9ZM593.12 615.7 579.57 606.5 561.07 609.4 574.61 618.6ZM532.65 604 519.32 595.4 500.62 598.1 513.93 606.8ZM502.43 598.4 489.21 590.2 470.4 592.8 483.6 601.2ZM472.21 593.1 459.12 585.2 440.2 587.7 453.28 595.8ZM442.01 588 429.04 580.4 410.02 582.8 422.98 590.6ZM757.67 659.1 743.51 648 725.53 651.4 739.68 662.6ZM727.35 651.8 713.29 641 695.2 644.3 709.25 655.2ZM697.02 644.7 683.06 634.2 664.87 637.4 678.82 648ZM666.69 637.8 652.83 627.7 634.53 630.8 648.38 641.1ZM606.01 624.7 592.35 615.1 573.85 618.1 587.49 627.8ZM575.67 618.5 562.12 609.2 543.51 612.1 557.04 621.5ZM545.33 612.4 531.9 603.5 513.18 606.3 526.59 615.4ZM515 606.6 501.68 598 482.85 600.7 496.16 609.5ZM454.36 595.6 441.28 587.6 422.24 590.1 435.31 598.3ZM636.35 631.2 622.59 621.3 604.19 624.3 617.93 634.3ZM484.67 601 471.47 592.7 452.54 595.3 465.73 603.8ZM740.7 662.4 726.55 651.2 708.46 654.6 722.6 665.9ZM679.85 647.8 665.9 637.2 647.59 640.5 661.54 651.2ZM588.54 627.6 574.9 617.9 556.27 620.9 569.9 630.7ZM527.66 615.2 514.24 606.1 495.4 609 508.8 618.1ZM771.1 669.9 756.86 658.4 738.87 661.9 753.11 673.5ZM710.28 655 696.23 644.1 678.03 647.4 692.07 658.4ZM649.42 640.9 635.57 630.6 617.15 633.7 630.99 644.2ZM618.98 634.1 605.23 624.2 586.71 627.2 600.45 637.3ZM558.1 621.3 544.56 611.9 525.83 614.8 539.35 624.3ZM497.23 609.3 483.92 600.5 464.98 603.3 478.26 612.2ZM754.13 673.3 739.9 661.7 721.79 665.2 736.02 677ZM723.62 665.7 709.48 654.4 691.27 657.8 705.41 669.2ZM693.11 658.2 679.06 647.2 660.74 650.6 674.78 661.7ZM662.58 651 648.63 640.3 630.21 643.6 644.14 654.4ZM632.04 644 618.2 633.6 599.67 636.8 613.5 647.3ZM601.5 637.2 587.76 627.1 569.12 630.2 582.85 640.4ZM570.96 630.5 557.33 620.8 538.58 623.8 552.2 633.7ZM540.41 624.2 526.9 614.7 508.04 617.6 521.55 627.2ZM509.87 618 496.47 608.8 477.51 611.7 490.9 620.9ZM767.64 684.7 753.32 672.7 735.21 676.3 749.53 688.5ZM706.44 669 692.31 657.6 673.98 661.1 688.11 672.6ZM645.19 654.2 631.25 643.4 612.71 646.7 626.64 657.6ZM614.55 647.1 600.72 636.6 582.07 639.8 595.89 650.4ZM553.26 633.5 539.65 623.6 520.78 626.7 534.38 636.7ZM737.05 676.8 722.82 665 704.6 668.6 718.83 680.4ZM675.82 661.5 661.78 650.4 643.35 653.8 657.38 665ZM583.91 640.2 570.18 630 551.42 633.1 565.14 643.4ZM522.62 627 509.11 617.4 490.14 620.4 503.63 630.1ZM627.69 657.4 613.77 646.5 595.11 649.8 609.02 660.9ZM781.23 696.5 766.83 684 748.71 687.8 763.11 700.4ZM750.56 688.3 736.24 676.1 718.02 679.8 732.33 692ZM719.86 680.2 705.64 668.4 687.31 672 701.52 683.9ZM689.15 672.4 675.02 660.9 656.58 664.4 670.7 676ZM658.43 664.8 644.4 653.6 625.85 657 639.87 668.3ZM596.95 650.2 583.13 639.6 564.36 642.8 578.17 653.6ZM566.2 643.3 552.49 632.9 533.61 636.1 547.31 646.5ZM535.46 636.5 521.85 626.5 502.86 629.6 516.46 639.7ZM733.36 691.8 719.05 679.5 700.71 683.3 715.02 695.7ZM671.75 675.8 657.63 664.2 639.07 667.7 653.18 679.5ZM640.92 668.1 626.9 656.8 608.23 660.2 622.24 671.7ZM610.08 660.7 596.17 649.6 577.39 653 591.29 664.2ZM579.24 653.4 565.43 642.7 546.54 645.9 560.34 656.8ZM764.14 700.1 749.74 687.6 731.51 691.3 745.91 704.1ZM702.56 683.7 688.35 671.7 669.9 675.4 684.11 687.5ZM548.39 646.4 534.68 635.9 515.68 639.1 529.37 649.7ZM654.23 679.3 640.12 667.5 621.45 671.1 635.55 683ZM592.36 664 578.45 652.8 559.55 656.2 573.45 667.5ZM746.94 703.8 732.55 691.1 714.2 694.9 728.59 707.8ZM777.81 712.4 763.33 699.4 745.09 703.3 759.57 716.5ZM716.06 695.4 701.76 683 683.3 686.8 697.6 699.3ZM685.15 687.3 670.95 675.2 652.38 678.8 666.58 691ZM623.3 671.5 609.29 660 590.5 663.5 604.5 675.1ZM561.41 656.6 547.61 645.8 528.6 649.1 542.39 660.1ZM760.61 716.2 746.13 703.1 727.78 707.1 742.25 720.3ZM698.64 699.1 684.35 686.6 665.77 690.3 680.06 703ZM667.64 690.8 653.43 678.6 634.75 682.3 648.94 694.6ZM636.61 682.8 622.51 670.9 603.71 674.5 617.8 686.5ZM605.57 674.9 591.57 663.3 572.66 666.8 586.65 678.6ZM574.52 667.3 560.63 656 541.6 659.4 555.49 670.8ZM791.55 725.1 776.99 711.7 758.75 715.7 773.31 729.3ZM729.64 707.6 715.25 694.7 696.78 698.6 711.17 711.6ZM681.12 702.8 666.83 690.1 648.14 693.9 662.42 706.7ZM618.87 686.3 604.78 674.2 585.86 677.9 599.95 690ZM774.35 729.1 759.78 715.5 741.43 719.6 755.99 733.3ZM712.22 711.3 697.83 698.4 679.25 702.3 693.63 715.4ZM743.29 720.1 728.82 706.8 710.35 710.8 724.82 724.2ZM650 694.4 635.81 682.1 617 685.8 631.19 698.3ZM587.73 678.4 573.73 666.6 554.7 670.2 568.69 682ZM694.69 715.1 680.31 702 661.61 706 675.98 719.2ZM788.16 742.3 773.52 728.3 755.16 732.5 769.8 746.6ZM725.87 724 711.4 710.6 692.82 714.6 707.28 728.1ZM663.48 706.5 649.2 693.7 630.39 697.6 644.66 710.5ZM632.26 698.1 618.07 685.6 599.15 689.3 613.33 701.9ZM601.02 689.8 586.93 677.7 567.89 681.4 581.97 693.6ZM757.03 733 742.47 719.3 724 723.4 738.56 737.3ZM708.34 727.9 693.87 714.4 675.17 718.4 689.63 732.1ZM645.73 710.2 631.45 697.3 612.52 701.2 626.79 714.2ZM583.05 693.4 568.97 681.1 549.81 684.9 563.88 697.3ZM739.61 737 725.05 723.2 706.46 727.3 721.01 741.3ZM677.05 719 662.67 705.7 643.85 709.7 658.22 723.1ZM770.85 746.4 756.2 732.2 737.73 736.5 752.37 750.7ZM614.4 701.7 600.22 689.1 581.17 692.9 595.35 705.6ZM722.07 741.1 707.52 727.1 688.81 731.3 703.36 745.4ZM659.29 722.8 644.92 709.5 625.98 713.5 640.35 727ZM753.42 750.5 738.78 736.2 720.19 740.5 734.82 754.9ZM784.74 760.1 770.01 745.6 751.54 749.9 766.26 764.6ZM690.69 731.8 676.23 718.2 657.41 722.3 671.86 736.1ZM627.87 714 613.6 701 594.54 704.9 608.81 718.1ZM596.43 705.4 582.25 692.7 563.08 696.5 577.25 709.4ZM735.88 754.7 721.24 740.3 702.53 744.6 717.17 759.1ZM767.31 764.4 752.59 749.7 733.99 754.1 748.71 768.9ZM672.93 735.8 658.48 722.1 639.53 726.2 653.98 740.1ZM609.89 717.8 595.62 704.7 576.44 708.7 590.7 721.9ZM704.42 745.1 689.87 731.1 671.04 735.3 685.59 749.5ZM641.42 726.7 627.06 713.3 608 717.3 622.36 730.9ZM749.77 768.7 735.05 753.8 716.33 758.3 731.05 773.2ZM591.79 721.7 577.53 708.4 558.23 712.4 572.49 725.8ZM686.66 749.3 672.11 735 653.16 739.3 667.71 753.7ZM781.27 778.7 766.47 763.5 747.88 768.1 762.68 783.4ZM623.44 730.7 609.08 717.1 589.89 721.2 604.25 734.9ZM718.23 758.9 703.59 744.3 684.76 748.7 699.39 763.4ZM655.06 739.9 640.61 726 621.54 730.1 635.99 744.2ZM763.73 783.1 748.93 767.8 730.22 772.4 745.02 787.8ZM605.34 734.7 590.98 720.9 571.68 725.1 586.02 738.9ZM700.46 763.1 685.83 748.4 666.88 752.8 681.51 767.6ZM732.12 773 717.4 758 698.56 762.5 713.28 777.6ZM637.07 743.9 622.62 729.9 603.43 734.1 617.88 748.3ZM668.78 753.4 654.24 739.1 635.17 743.4 649.71 757.9ZM777.77 797.9 762.89 782.2 744.18 786.9 759.06 802.8ZM714.35 777.4 699.63 762.3 680.68 766.8 695.39 782ZM618.97 748 604.52 733.9 585.21 738.1 599.65 752.4ZM650.79 757.6 636.25 743.1 617.06 747.5 631.59 762.1ZM746.08 787.5 731.28 772.1 712.44 776.8 727.24 792.3ZM682.58 767.4 667.96 752.6 648.88 757 663.51 772ZM632.68 761.8 618.15 747.2 598.83 751.6 613.36 766.4ZM728.31 792 713.51 776.5 694.56 781.2 709.36 796.8ZM664.59 771.7 649.96 756.8 630.77 761.3 645.39 776.3ZM760.12 802.5 745.24 786.7 726.4 791.4 741.28 807.4ZM696.47 781.8 681.75 766.5 662.68 771.1 677.39 786.5ZM600.75 752.2 586.31 737.9 566.87 742.2 581.3 756.6ZM646.48 776.1 631.86 761 612.54 765.5 627.16 780.7ZM774.24 817.9 759.28 801.6 740.44 806.5 755.4 822.9ZM742.35 807.1 727.47 791.1 708.52 795.9 723.4 812.1ZM678.47 786.2 663.76 770.8 644.56 775.5 659.27 791ZM614.46 766.1 599.93 751.4 580.48 755.8 595.01 770.7ZM710.43 796.6 695.63 780.9 676.55 785.6 691.35 801.4ZM756.47 822.7 741.51 806.2 722.55 811.1 737.51 827.7ZM660.36 790.7 645.65 775.2 626.33 779.8 641.04 795.5ZM596.11 770.4 581.59 755.5 562.02 760 576.54 775ZM692.44 801.1 677.64 785.3 658.44 790.1 673.23 806ZM724.47 811.8 709.59 795.7 690.51 800.5 705.39 816.8ZM628.25 780.5 613.63 765.3 594.18 769.8 608.8 785.2ZM674.32 805.8 659.53 789.8 640.2 794.6 655 810.7ZM770.66 838.6 755.62 821.7 736.67 826.8 751.71 843.8ZM738.59 827.4 723.63 810.9 704.55 815.8 719.51 832.6ZM706.48 816.5 691.6 800.2 672.39 805.1 687.27 821.5ZM642.13 795.2 627.42 779.6 607.97 784.3 622.68 800.1ZM609.91 784.9 595.29 769.6 575.71 774.2 590.33 789.6ZM720.6 832.3 705.63 815.6 686.43 820.6 701.39 837.4ZM688.37 821.2 673.48 804.8 654.16 809.8 669.04 826.3ZM623.79 799.8 609.08 784 589.5 788.8 604.21 804.7ZM656.09 810.4 641.3 794.3 621.85 799.2 636.64 815.4ZM752.78 843.5 737.74 826.5 718.66 831.6 733.71 848.8ZM591.44 789.4 576.83 773.9 557.12 778.6 571.74 794.2ZM702.49 837.2 687.52 820.3 668.19 825.4 683.16 842.4ZM637.75 815.1 622.95 798.9 603.37 803.8 618.17 820.1ZM734.79 848.5 719.75 831.3 700.55 836.5 715.59 853.8ZM670.14 826 655.25 809.5 635.8 814.5 650.68 831.2ZM605.32 804.4 590.61 788.5 570.91 793.3 585.61 809.3ZM749.06 865.1 733.94 847.5 714.74 852.8 729.86 870.6ZM716.68 853.5 701.64 836.2 682.31 841.4 697.36 858.9ZM684.26 842.1 669.29 825.1 649.84 830.2 664.81 847.3ZM651.79 830.9 636.91 814.2 617.33 819.2 632.21 836ZM586.73 809.1 572.03 793 552.19 797.8 566.9 814ZM619.28 819.9 604.48 803.5 584.78 808.4 599.57 824.9ZM730.95 870.3 715.83 852.5 696.5 857.9 711.63 875.8ZM665.91 847 650.94 829.9 631.36 835.1 646.33 852.4ZM600.69 824.6 585.9 808.1 566.06 813.1 580.85 829.8ZM698.46 858.6 683.41 841.1 663.96 846.4 679.01 864ZM633.32 835.7 618.44 818.9 598.73 824 613.61 841ZM712.73 875.5 697.6 857.6 678.15 863 693.28 881ZM680.11 863.7 665.06 846.1 645.48 851.4 660.53 869.1ZM647.44 852.1 632.48 834.8 612.77 840 627.74 857.4ZM614.73 840.7 599.85 823.7 580.02 828.8 594.9 845.9ZM694.39 880.7 679.26 862.6 659.68 868.1 674.82 886.3ZM628.86 857.1 613.89 839.7 594.05 844.9 609.02 862.5ZM727.08 892.8 711.87 874.4 692.43 880 707.64 898.5ZM661.65 868.8 646.59 851.1 626.89 856.4 641.94 874.3ZM708.74 898.2 693.53 879.7 673.96 885.3 689.17 903.9ZM675.93 886 660.79 867.8 641.09 873.3 656.23 891.6ZM643.06 874 628.01 856.1 608.17 861.5 623.23 879.6ZM723.17 916.1 707.88 897.1 688.31 902.9 703.6 922ZM657.35 891.3 642.21 873 622.38 878.5 637.52 897ZM690.28 903.6 675.07 884.9 655.37 890.6 670.59 909.4ZM671.71 909.1 656.49 890.3 636.66 896 651.88 914.9ZM704.72 921.7 689.42 902.5 669.72 908.3 685.02 927.6ZM686.14 927.3 670.84 908 651.02 913.9 666.32 933.3ZM700.65 945.9 685.27 926.2 665.45 932.2 680.84 952.1Z"/>
<path fill="#00ff45" d="M791.08 594.8 777.3 586.4 760.03 589 773.79 597.5ZM866.59 873.2 851.34 855.4 832.75 860.8 848.01 878.7Z"/>
<path fill="#00d9ff" d="M1229.11 700.7 1214.17 688 1198.33 691.8 1213.27 704.6ZM1224.86 788.4 1209.62 773 1193.31 777.6 1208.55 793.2ZM1207.34 833 1191.99 816.3 1175.38 821.3 1190.74 838.1ZM1137.97 943.7 1122.36 924.2 1104.94 930.1 1120.56 949.7Z"/>
<path fill="#00ff26" d="M703.21 579.1 689.74 571.5 672.18 574 685.64 581.6ZM771.43 608.4 757.59 599.4 740.09 602.2 753.92 611.3ZM824.48 646.3 810.3 635.6 792.76 638.9 806.94 649.6ZM813.67 889 798.4 870.7 779.45 876.2 794.72 894.6Z"/>
<path fill="#00ff1d" d="M673.94 574.2 660.57 567 642.92 569.4 656.26 576.7ZM728.89 594.4 715.24 586.1 697.65 588.7 711.29 597.1ZM845.55 697.6 831.05 685 813.27 688.8 827.76 701.4ZM853.36 743.5 838.63 729.5 820.62 733.7 835.34 747.9ZM844.18 799.3 829.22 783.6 810.86 788.3 825.82 804.2Z"/>
<path fill="#00ff14" d="M644.67 569.6 631.42 562.7 613.66 565 626.9 572ZM839.46 730.3 824.81 716.6 806.8 720.7 821.45 734.5Z"/>
<path fill="#00ff0f" d="M615.42 565.2 602.28 558.6 584.43 560.8 597.55 567.5ZM791.28 652.6 777.11 641.8 759.36 645.1 773.52 656ZM825.64 717.4 811.07 704.2 793.06 708.1 807.63 721.5Z"/>
<path fill="#00ffe1" d="M1126.69 679.4 1111.93 667.4 1095.71 671 1110.46 683.1ZM1138.12 723.4 1123.17 709.9 1106.75 714 1121.7 727.6ZM1134.03 776.8 1118.9 761.7 1102.18 766.2 1117.31 781.4Z"/>
<path fill="#00ff4e" d="M833.54 609 819.58 599.9 802.39 602.7 816.34 611.9ZM860.11 627.3 845.99 617.4 828.78 620.4 842.9 630.4ZM821.47 954.7 805.98 934.8 786.8 940.9 802.3 960.9Z"/>
<path fill="#00ff36" d="M774.77 597.3 761.01 588.8 743.63 591.5 757.38 600.1ZM854.39 653.5 840.12 642.5 822.69 645.8 836.95 656.9ZM875.57 809.9 860.54 793.9 842.29 798.7 857.33 814.9Z"/>
<path fill="#00ff21" d="M716.01 586.5 702.45 578.6 684.87 581.1 698.42 589.1Z"/>
<path fill="#00ff17" d="M686.64 581.4 673.18 573.8 655.51 576.3 668.95 584ZM754.91 611.2 741.08 602.1 723.47 604.9 737.29 614.1ZM794.56 639.3 780.47 629 762.83 632.1 776.91 642.5ZM831.86 685.7 817.45 673.6 799.67 677.3 814.08 689.5Z"/>
<path fill="#00ff05" d="M598.57 567.4 585.44 560.7 567.48 562.9 580.59 569.7ZM708.53 607.9 694.81 599 676.99 601.8 690.7 610.8ZM761.16 645.5 747.09 634.9 729.23 638.1 743.29 648.8ZM805.37 738.2 790.73 724.4 772.48 728.5 787.13 742.5ZM791.89 813.2 776.93 797 758.21 801.9 773.17 818.2Z"/>
<path fill="#00ff01" d="M569.24 563.1 556.22 556.7 538.17 558.8 551.16 565.4ZM611.04 574.1 597.82 567 579.84 569.3 593.05 576.5ZM745.3 887.5 730.1 869.2 710.77 874.8 725.98 893.1Z"/>
<path fill="#00a3ff" d="M1301.34 731.2 1286.23 717.5 1270.58 721.5 1285.69 735.4ZM1300.89 748.6 1285.72 734.4 1269.99 738.6 1285.15 753Z"/>
<path fill="#00baff" d="M1272.32 722.1 1257.26 708.6 1241.52 712.6 1256.58 726.2ZM1271.74 739.2 1256.62 725.2 1240.79 729.3 1255.9 743.4ZM1271.11 756.9 1255.94 742.4 1240.02 746.7 1255.19 761.3Z"/>
<path fill="#00ffb2" d="M1038.94 656.1 1024.39 645 1007.88 648.4 1022.42 659.6ZM936.78 989 921.12 968.3 902.46 974.6 918.12 995.4Z"/>
<path fill="#00ff86" d="M950.99 634.7 936.68 624.5 919.88 627.6 934.18 637.9ZM999.53 724.8 984.72 711.3 967.58 715.4 982.39 729ZM990.82 797.6 975.73 781.9 958.16 786.6 973.25 802.4Z"/>
<path fill="#00ff6a" d="M905.7 630.9 891.48 620.9 874.48 623.9 888.69 634.1ZM895.57 908.1 880.18 889.4 861.6 895.1 877 913.9Z"/>
<path fill="#007fff" d="M1344.66 754.1 1329.45 739.7 1313.9 744 1329.11 758.6Z"/>
<path fill="#00ffd6" d="M1111.38 682.9 1096.63 670.8 1080.31 674.4 1095.06 686.6ZM1122.63 727.3 1107.68 713.7 1091.16 717.8 1106.11 731.5ZM1119.75 762.5 1104.68 747.9 1087.96 752.2 1103.03 767Z"/>
<path fill="#00ff88" d="M964.56 644.8 950.18 634.1 933.37 637.3 947.75 648.1ZM989.83 680.8 975.23 668.8 958.31 672.4 972.91 684.5ZM947.47 892 932.09 873.7 913.86 879.2 929.24 897.6ZM927.56 920.6 912.11 901.6 893.65 907.4 909.11 926.5Z"/>
<path fill="#008aff" d="M1329.99 758.3 1314.78 743.7 1299.14 748.1 1314.35 762.7Z"/>
<path fill="#0070ff" d="M1359.05 768.2 1343.79 753.3 1328.25 757.7 1343.51 772.7Z"/>
<path fill="#00e8ff" d="M1213.3 720.8 1198.3 707.4 1182.27 711.4 1197.28 724.9Z"/>
<path fill="#00ff9b" d="M1007.69 662.7 993.15 651.4 976.44 654.8 990.97 666.3ZM1023.65 788.6 1008.56 773.2 991.21 777.8 1006.3 793.3ZM981.52 881.5 966.16 863.5 948.16 868.9 963.53 887ZM942.2 939 926.68 919.5 908.23 925.4 923.75 945Z"/>
<path fill="#00ff8b" d="M978.21 655.2 963.75 644.2 946.93 647.5 961.39 658.7Z"/>
<path fill="#00ff32" d="M800.99 614.5 787.06 605.2 769.65 608.1 783.58 617.5ZM814.23 623.7 800.2 614 782.79 617 796.81 626.8ZM827.54 633.2 813.43 623.1 796.01 626.2 810.11 636.4Z"/>
<path fill="#00ff1a" d="M741.86 602.6 728.12 593.9 710.52 596.6 724.25 605.4Z"/>
<path fill="#00ff03" d="M653.17 586.2 639.74 578.4 621.84 580.9 635.26 588.8ZM784.62 681.2 770.3 669.3 752.3 672.9 766.62 684.9ZM802.06 755.9 787.33 741.5 768.97 745.8 783.7 760.4ZM798.7 774.3 783.9 759.3 765.42 763.8 780.23 778.9ZM795.32 793.4 780.43 777.8 761.84 782.5 776.72 798.2ZM767.05 860 751.93 842.5 732.85 847.8 747.98 865.4Z"/>
<path fill="#00ff4f" d="M873.51 637 859.31 626.7 842.09 629.8 856.29 640.2ZM906.92 820.8 891.82 804.4 873.69 809.3 888.79 825.8ZM884.01 868.1 868.76 850.4 850.29 855.7 865.54 873.5Z"/>
<path fill="#0096ff" d="M1315.24 762.5 1300.03 747.8 1284.29 752.2 1299.51 767ZM1282.83 850.6 1267.4 833.5 1251.1 838.6 1266.54 855.9ZM1250.12 905.2 1234.56 886.7 1217.88 892.2 1233.44 910.8Z"/>
<path fill="#0060ff" d="M1373.49 782.6 1358.19 767.3 1342.64 771.8 1357.95 787.2Z"/>
<path fill="#00ff90" d="M991.92 666.1 977.38 654.6 960.57 658 975.1 669.6ZM1013.58 738 998.69 724.1 981.55 728.2 996.43 742.2Z"/>
<path fill="#00ff7e" d="M962.34 658.5 947.89 647.3 930.97 650.7 945.42 662ZM930.28 897.3 914.9 878.9 896.55 884.5 911.94 903ZM910.16 926.2 894.7 907 876.12 912.8 891.59 932.1Z"/>
<path fill="#00ff5e" d="M903.14 643.9 888.85 633.4 871.73 636.6 886.02 647.3ZM921.23 836.6 906.06 819.8 887.93 824.9 903.11 841.8Z"/>
<path fill="#00ff07" d="M695.59 599.5 681.96 591 664.15 593.7 677.77 602.3ZM808.65 721.2 794.08 707.9 775.96 711.9 790.52 725.4ZM788.43 833.7 773.39 817 754.55 822 769.59 838.9ZM763.4 882.2 748.2 864.1 729.01 869.6 744.21 887.8Z"/>
<path fill="#00ff41" d="M857.27 640.1 843.07 629.6 825.75 632.8 839.94 643.3ZM903.71 731.5 888.97 717.8 871.29 721.9 886.03 735.7ZM892.67 805.3 877.64 789.4 859.51 794.1 874.54 810.2Z"/>
<path fill="#00a1ff" d="M1300.4 766.7 1285.19 751.9 1269.36 756.3 1284.58 771.3ZM1251.08 882.5 1235.58 864.6 1218.99 870 1234.5 888Z"/>
<path fill="#004fff" d="M1387.97 797.3 1372.62 781.7 1357.08 786.3 1372.44 802.1Z"/>
<path fill="#0087ff" d="M1329.64 776.7 1314.38 761.7 1298.65 766.1 1313.92 781.4Z"/>
<path fill="#00d2ff" d="M1241.78 747.3 1226.66 733.1 1210.63 737.3 1225.75 751.6ZM1206.22 854 1190.81 836.8 1174.11 842 1189.53 859.3ZM1171.92 908.9 1156.38 890.3 1139.27 895.9 1154.82 914.7Z"/>
<path fill="#00ffb5" d="M1064.92 693.6 1050.17 681.1 1033.55 684.9 1048.3 697.4ZM993.73 922.2 978.23 903.2 960.13 908.9 975.63 928.1Z"/>
<path fill="#00ff94" d="M1005.7 677.3 991.09 665.4 974.27 669 988.88 681ZM1005.11 812.8 989.96 796.7 972.39 801.5 987.55 817.8ZM983.9 859.4 968.6 842 950.71 847.2 966.01 864.8Z"/>
<path fill="#006cff" d="M1358.83 786.9 1343.53 771.6 1327.89 776.1 1343.2 791.6Z"/>
<path fill="#00ff16" d="M768.04 620.2 754.13 610.7 736.5 613.6 750.41 623.2ZM781.26 629.5 767.25 619.6 749.62 622.7 763.62 632.7Z"/>
<path fill="#00ff25" d="M811.1 636.2 797 626 779.47 629.1 793.56 639.5ZM792.3 917.6 776.95 898.6 757.76 904.4 773.12 923.5ZM770.56 947.4 755.12 927.7 735.69 933.7 751.13 953.5Z"/>
<path fill="#00acff" d="M1285.48 771 1270.25 756.1 1254.33 760.5 1269.55 775.6Z"/>
<path fill="#003dff" d="M1402.49 812.5 1387.1 796.4 1371.57 801.2 1386.96 817.4Z"/>
<path fill="#005bff" d="M1373.32 801.8 1357.97 786.1 1342.33 790.8 1357.69 806.7Z"/>
<path fill="#0078ff" d="M1344.09 791.4 1328.78 775.9 1313.05 780.5 1328.37 796.1ZM1312.71 862.1 1297.23 844.8 1281.04 849.9 1296.52 867.5ZM1296.74 889.3 1281.2 871.2 1264.82 876.6 1280.36 894.9Z"/>
<path fill="#00ff99" d="M1019.55 688.9 1004.87 676.6 988.05 680.3 1002.72 692.7ZM1027.68 751.5 1012.73 737.2 995.59 741.4 1010.54 755.9ZM1025.68 769.7 1010.67 754.8 993.42 759.3 1008.44 774.3ZM844.37 1047 828.59 1025 809.2 1031.8 824.99 1054Z"/>
<path fill="#00ff76" d="M960.09 672.8 945.56 661.1 928.54 664.6 943.06 676.5ZM971.65 699.8 956.98 687.1 939.84 690.9 954.51 703.7ZM932.96 874.7 917.65 856.9 899.42 862.3 914.73 880.3Z"/>
<path fill="#00ff43" d="M870.74 650.3 856.46 639.4 839.14 642.7 853.41 653.7ZM895.25 686.8 880.74 674.6 863.28 678.2 877.79 690.5ZM845.89 901.2 830.55 882.6 811.73 888.2 827.07 906.9ZM824.82 930.3 809.41 911 790.35 916.8 805.77 936.3Z"/>
<path fill="#00b7ff" d="M1270.46 775.3 1255.23 760.3 1239.21 764.7 1254.44 779.9Z"/>
<path fill="#00ff46" d="M884.29 660.9 869.93 649.6 852.6 653 866.95 664.4Z"/>
<path fill="#0066ff" d="M1358.58 806.4 1343.22 790.5 1327.5 795.2 1342.86 811.3Z"/>
<path fill="#002aff" d="M1417.05 828.1 1401.62 811.6 1386.09 816.5 1401.52 833.1Z"/>
<path fill="#0048ff" d="M1387.84 817.1 1372.45 800.9 1356.82 805.8 1372.22 822.1Z"/>
<path fill="#0015ff" d="M1431.64 844 1416.17 827.1 1400.65 832.1 1416.13 849.2Z"/>
<path fill="#0035ff" d="M1402.41 832.8 1386.97 816.2 1371.35 821.1 1386.79 837.9Z"/>
<path fill="#0072ff" d="M1343.75 811 1328.39 794.9 1312.57 799.7 1327.94 815.9Z"/>
<path fill="#00a9ff" d="M1284.87 789.9 1269.59 774.4 1253.58 779 1268.86 794.6ZM1218.56 915.9 1202.99 897.2 1186.11 902.8 1201.68 921.7Z"/>
<path fill="#00ff82" d="M987.71 696.1 973.04 683.6 956.01 687.3 970.68 700Z"/>
<path fill="#00ff6f" d="M957.8 687.8 943.21 675.6 926.07 679.3 940.67 691.6ZM935.61 852.9 920.37 835.7 902.25 840.8 917.49 858.2ZM792.78 1039.1 777.05 1017.2 757.4 1023.9 773.14 1046Z"/>
<path fill="#00ff4b" d="M897.91 671.8 883.48 660.2 866.14 663.7 880.57 675.5ZM917.68 744.8 902.87 730.7 885.19 734.9 900 749.1Z"/>
<path fill="#00ff39" d="M867.94 664.2 853.58 652.8 836.14 656.3 850.49 667.7ZM872.61 830.3 857.51 813.7 839.15 818.7 854.26 835.4ZM828.14 906.6 812.8 887.9 793.86 893.6 809.2 912.4ZM806.85 935.9 791.43 916.5 772.25 922.4 787.67 942Z"/>
<path fill="#00ff19" d="M807.93 649.4 793.76 638.7 776.11 641.9 790.28 652.8ZM820.34 845 805.22 827.9 786.51 833 801.63 850.2Z"/>
<path fill="#10ff00" d="M297.98 558 285.73 552.3 266.35 554.3 278.57 560Z"/>
<path fill="#1fff00" d="M268.14 554.5 256.03 549.1 236.54 551 248.63 556.5ZM577.65 774.8 563.13 759.8 543.43 764.3 557.95 779.4Z"/>
<path fill="#1dff00" d="M339.63 567.6 327.14 561.3 307.84 563.4 320.3 569.9Z"/>
<path fill="#42ff00" d="M279.67 559.9 267.45 554.2 247.94 556.2 260.13 562Z"/>
<path fill="#0040ff" d="M1387.68 837.6 1372.24 820.9 1356.52 825.9 1371.97 842.7Z"/>
<path fill="#007eff" d="M1328.84 815.6 1313.47 799.4 1297.56 804.3 1312.93 820.5Z"/>
<path fill="#0020ff" d="M1417.01 848.9 1401.53 831.9 1385.92 836.9 1401.4 854.1Z"/>
<path fill="#005fff" d="M1358.29 826.5 1342.88 810.1 1327.07 815 1342.48 831.5Z"/>
<path fill="#0099ff" d="M1299.33 804.9 1284 789 1267.99 793.7 1283.32 809.7Z"/>
<path fill="#00ffd5" d="M1121.21 744.6 1106.2 730.5 1089.58 734.7 1104.59 748.9Z"/>
<path fill="#08ff00" d="M369.66 571.8 357.04 565.2 337.83 567.4 350.43 574.1Z"/>
<path fill="#30ff00" d="M309.64 563.7 297.28 557.6 277.87 559.7 290.2 565.8Z"/>
<path fill="#07ff00" d="M411.83 583.1 398.98 575.8 379.86 578.2 392.69 585.6Z"/>
<path fill="#00ff31" d="M865.09 678.7 850.67 666.8 833.11 670.4 847.53 682.4ZM875.97 706 861.39 693.2 843.72 697.1 858.3 710ZM831.42 883.7 816.16 865.6 797.33 871 812.6 889.3ZM766.88 972.4 751.36 952.1 731.81 958.3 747.33 978.8Z"/>
<path fill="#00bfff" d="M1254.57 798.9 1239.29 783.1 1223.07 787.8 1238.36 803.7ZM1220.81 870.7 1205.35 853 1188.65 858.3 1204.12 876.1ZM1203.87 898.2 1188.35 879.9 1171.46 885.4 1186.99 903.9Z"/>
<path fill="#00ff56" d="M925.38 695 910.79 682.5 893.44 686.3 908.03 698.9ZM934.26 740.7 919.45 726.7 901.87 730.9 916.68 745ZM860.42 919.1 845.02 900.1 826.2 905.9 841.61 925ZM777.94 1018.4 762.27 997 742.61 1003.6 758.29 1025.1Z"/>
<path fill="#002cff" d="M1402.29 853.8 1386.8 836.6 1371.1 841.8 1386.59 859Z"/>
<path fill="#004bff" d="M1372.86 842.4 1357.41 825.6 1341.61 830.6 1357.06 847.6Z"/>
<path fill="#006bff" d="M1343.38 831.3 1327.97 814.7 1312.06 819.6 1327.47 836.3Z"/>
<path fill="#0088ff" d="M1313.83 820.3 1298.46 804 1282.45 808.8 1297.83 825.2Z"/>
<path fill="#20ff00" d="M381.67 578.5 368.94 571.4 349.71 573.7 362.42 580.9ZM504.71 629.9 491.22 620.2 472.12 623.2 485.6 633.1ZM572.86 793.9 558.24 778.3 538.41 783 553.02 798.7Z"/>
<path fill="#38ff00" d="M351.52 574 338.92 567.3 319.59 569.5 332.17 576.3Z"/>
<path fill="#4cff00" d="M321.4 569.7 308.93 563.3 289.5 565.5 301.95 572ZM499.5 642.6 485.92 632.3 466.68 635.5 480.25 645.8Z"/>
<path fill="#5cff00" d="M291.31 565.7 278.97 559.6 259.44 561.7 271.75 567.9ZM541.81 716.8 527.65 703.7 508.11 707.6 522.25 720.8Z"/>
<path fill="#00ff37" d="M878.78 690.3 864.28 678 846.72 681.7 861.22 694.1Z"/>
<path fill="#1aff00" d="M424.06 590.4 411.1 582.7 391.96 585.2 404.9 593Z"/>
<path fill="#36ff00" d="M393.78 585.5 380.94 578 361.7 580.5 374.51 588Z"/>
<path fill="#4eff00" d="M363.51 580.7 350.81 573.6 331.46 575.9 344.14 583.2Z"/>
<path fill="#72ff00" d="M303.05 571.9 290.61 565.3 271.05 567.5 283.47 574.2Z"/>
<path fill="#0057ff" d="M1357.96 847.3 1342.5 830.3 1326.6 835.4 1342.06 852.5ZM1342.51 873.8 1327 856.2 1310.92 861.4 1326.43 879.2Z"/>
<path fill="#0036ff" d="M1387.48 858.7 1371.99 841.5 1356.19 846.6 1371.68 864Z"/>
<path fill="#0076ff" d="M1328.38 836 1312.96 819.3 1296.96 824.3 1312.38 841.1Z"/>
<path fill="#00caff" d="M1239.28 803.4 1223.99 787.6 1207.68 792.3 1222.97 808.2Z"/>
<path fill="#00ff49" d="M909.01 698.6 894.42 686.1 876.97 689.8 891.55 702.5ZM886.93 846.4 871.76 829.4 853.4 834.5 868.58 851.7Z"/>
<path fill="#00ff08" d="M787.97 666.6 773.72 655.2 755.85 658.6 770.09 670.1Z"/>
<path fill="#61ff00" d="M333.27 576.2 320.69 569.4 301.24 571.6 313.8 578.6Z"/>
<path fill="#2aff00" d="M436.39 598.2 423.32 590 404.17 592.6 417.21 600.9Z"/>
<path fill="#5eff00" d="M375.61 587.9 362.79 580.3 343.42 582.8 356.22 590.4ZM430.71 608.9 417.56 600.2 398.26 603 411.4 611.8Z"/>
<path fill="#00ff3d" d="M892.54 702.3 877.96 689.6 860.4 693.4 874.98 706.3Z"/>
<path fill="#00ff65" d="M953.12 719.7 938.38 706.4 921.03 710.4 935.77 723.8ZM940.79 811.4 925.7 795.3 907.79 800.1 922.89 816.3Z"/>
<path fill="#0062ff" d="M1342.96 852.2 1327.5 835.1 1311.5 840.2 1326.97 857.4ZM1327.35 878.9 1311.83 861.1 1295.64 866.5 1311.17 884.4Z"/>
<path fill="#00b9ff" d="M1253.75 818.7 1238.41 802.5 1222.11 807.3 1237.45 823.7Z"/>
<path fill="#0081ff" d="M1313.29 840.9 1297.86 824 1281.76 829 1297.19 846Z"/>
<path fill="#00ff2a" d="M862.22 693.9 847.71 681.5 830.04 685.2 844.54 697.8ZM834.66 861.5 819.48 844 800.77 849.3 815.96 866.9Z"/>
<path fill="#00ff0b" d="M801.49 677.7 787.16 665.9 769.28 669.5 783.61 681.4ZM819.27 751.8 804.54 737.4 786.3 741.7 801.02 756.2Z"/>
<path fill="#09ff00" d="M466.8 603.6 453.62 595.2 434.56 597.8 447.73 606.4Z"/>
<path fill="#48ff00" d="M405.99 592.9 393.05 585 373.78 587.6 386.71 595.5ZM473.96 623.6 460.59 614.2 441.38 617.1 454.74 626.7Z"/>
<path fill="#73ff00" d="M345.24 583 332.56 575.8 313.08 578.2 325.75 585.5ZM531.75 751 517.42 736.7 497.6 741 511.93 755.4Z"/>
<path fill="#84ff00" d="M314.9 578.4 302.34 571.5 282.76 573.8 295.3 580.8Z"/>
<path fill="#004cff" d="M1357.59 868.8 1342.09 851.2 1326.1 856.5 1341.61 874.1Z"/>
<path fill="#008cff" d="M1298.11 845.7 1282.68 828.8 1266.48 833.8 1281.91 850.9ZM1265.75 899.8 1250.2 881.5 1233.62 887 1249.18 905.5Z"/>
<path fill="#00dfff" d="M1208.43 812.6 1193.13 796.5 1176.62 801.3 1191.92 817.5Z"/>
<path fill="#00ff84" d="M997.41 742 982.52 728 965.28 732.2 980.16 746.3ZM993.05 778.4 978.03 763.2 960.57 767.7 975.59 783ZM969.47 843 954.24 826 936.34 831.1 951.57 848.2ZM868.84 987.5 853.23 966.8 834.19 973.1 849.82 993.9Z"/>
<path fill="#14ff00" d="M479.34 612 466.05 603.1 446.98 605.9 460.26 614.9Z"/>
<path fill="#37ff00" d="M448.82 606.2 435.65 597.7 416.47 600.4 429.63 609.1Z"/>
<path fill="#54ff00" d="M418.3 600.7 405.25 592.4 385.97 595.1 399 603.4Z"/>
<path fill="#6cff00" d="M387.8 595.4 374.88 587.4 355.49 590 368.4 598Z"/>
<path fill="#81ff00" d="M357.32 590.3 344.52 582.6 325.03 585.1 337.8 592.9Z"/>
<path fill="#91ff00" d="M326.85 585.4 314.19 578 294.59 580.4 307.23 587.9Z"/>
<path fill="#006dff" d="M1327.88 857.1 1312.41 839.9 1296.32 845 1311.79 862.4ZM1312.09 884.1 1296.56 866.2 1280.28 871.5 1295.81 889.6Z"/>
<path fill="#1cff00" d="M491.98 620.8 478.59 611.5 459.5 614.4 472.88 623.8ZM543.47 659.9 529.68 648.9 510.54 652.2 524.32 663.3Z"/>
<path fill="#41ff00" d="M461.34 614.7 448.07 605.7 428.88 608.6 442.14 617.7Z"/>
<path fill="#78ff00" d="M400.1 603.3 387.07 594.9 367.66 597.6 380.67 606.1Z"/>
<path fill="#9cff00" d="M338.91 592.7 326.13 584.9 306.51 587.5 319.27 595.3ZM470.53 673.2 456.78 661.7 437.15 665.2 450.88 676.8Z"/>
<path fill="#00b3ff" d="M1252.9 839.3 1237.51 822.5 1221.11 827.5 1236.5 844.5ZM1202.64 921.4 1187.06 902.5 1170.07 908.2 1185.66 927.2Z"/>
<path fill="#00ffcd" d="M1102.39 785.6 1087.26 770.2 1070.33 774.8 1085.47 790.3Z"/>
<path fill="#00ff12" d="M828.77 701.2 814.28 688.6 796.38 692.4 810.87 705.1ZM836.37 747.6 821.64 733.4 803.51 737.7 818.24 752ZM833.24 765.7 818.43 750.9 800.19 755.3 814.99 770.2ZM830.07 784.4 815.18 769.1 796.82 773.7 811.7 789.2ZM756 928.8 740.63 909.5 721.2 915.3 736.56 934.8Z"/>
<path fill="#8bff00" d="M369.5 597.9 356.59 589.8 337.08 592.4 349.96 600.6Z"/>
<path fill="#00a0ff" d="M1267.47 855.6 1252.03 838.3 1235.63 843.5 1251.08 860.9Z"/>
<path fill="#00bdff" d="M1237.44 844.2 1222.04 827.2 1205.54 832.3 1220.94 849.4ZM1186.62 926.9 1171.04 907.9 1153.94 913.6 1169.53 932.8Z"/>
<path fill="#00fff0" d="M1146.99 811.1 1131.74 795 1114.92 799.8 1130.18 816Z"/>
<path fill="#00ffda" d="M1116.74 800.5 1101.54 784.7 1084.61 789.4 1099.81 805.3ZM1097.42 846 1082.1 829 1064.86 834.1 1080.19 851.2Z"/>
<path fill="#65ff00" d="M443.23 617.5 429.97 608.4 410.65 611.2 423.89 620.5Z"/>
<path fill="#80ff00" d="M412.5 611.6 399.36 602.8 379.93 605.6 393.06 614.5Z"/>
<path fill="#94ff00" d="M381.78 605.9 368.76 597.4 349.23 600.1 362.23 608.7Z"/>
<path fill="#a5ff00" d="M351.07 600.4 338.19 592.3 318.54 594.9 331.41 603.1Z"/>
<path fill="#22ff00" d="M517.53 639.5 503.94 629.4 484.83 632.5 498.41 642.8Z"/>
<path fill="#4bff00" d="M486.68 632.9 473.2 623.1 453.98 626.1 467.45 636ZM546.77 700.7 532.71 688.2 513.29 692 527.35 704.6ZM555.25 729.5 541 716 521.45 720.1 535.69 733.8Z"/>
<path fill="#6aff00" d="M455.83 626.5 442.47 617 423.14 619.9 436.49 629.6ZM528.45 704.4 514.4 691.7 494.86 695.6 508.9 708.3Z"/>
<path fill="#85ff00" d="M424.99 620.3 411.75 611.1 392.31 614 405.54 623.3ZM488.94 669.8 475.18 658.4 455.67 661.9 469.42 673.4ZM518.23 737.5 503.99 723.7 484.18 727.9 498.41 741.8Z"/>
<path fill="#aaff00" d="M363.34 608.5 350.34 600 330.68 602.7 343.66 611.4ZM465.06 687.9 451.22 675.9 431.44 679.6 445.27 691.7Z"/>
<path fill="#00aaff" d="M1252.01 860.6 1236.56 843.2 1220.07 848.4 1235.52 865.9Z"/>
<path fill="#00c7ff" d="M1221.88 849.1 1206.47 832 1189.87 837.1 1205.28 854.3Z"/>
<path fill="#00ffd0" d="M1100.77 805 1085.57 789.1 1068.54 793.9 1083.75 809.9Z"/>
<path fill="#00ff20" d="M856.35 726.3 841.7 712.8 823.8 716.9 838.45 730.5ZM841.04 819.3 826.01 803 807.53 807.9 822.57 824.4Z"/>
<path fill="#9aff00" d="M394.16 614.3 381.04 605.4 361.49 608.2 374.59 617.2Z"/>
<path fill="#89ff00" d="M437.59 629.4 424.24 619.8 404.78 622.7 418.12 632.5Z"/>
<path fill="#00ffb0" d="M1054.21 799 1039.06 783.3 1021.81 788 1036.96 803.8ZM898.5 1027.7 882.75 1006.2 863.73 1012.8 879.49 1034.5Z"/>
<path fill="#00ff3f" d="M901 748.9 886.2 734.7 868.4 738.9 883.21 753.3ZM895.48 785.8 880.53 770.4 862.51 775 877.47 790.5ZM869.62 851.4 854.44 834.2 835.97 839.4 851.15 856.7ZM763.16 998.2 747.56 977.2 727.89 983.6 743.5 1004.8Z"/>
<path fill="#00ff55" d="M931.72 758.5 916.84 744 899.16 748.3 914.04 763ZM929.15 777 914.2 761.9 896.41 766.4 911.36 781.6Z"/>
<path fill="#21ff00" d="M530.45 649.5 516.76 638.9 497.64 642.2 511.32 652.8Z"/>
<path fill="#6dff00" d="M468.54 635.9 455.08 625.9 435.73 629 449.18 639.1ZM481.34 645.7 467.78 635.3 448.42 638.5 461.97 649Z"/>
<path fill="#9fff00" d="M406.64 623.1 393.41 613.8 373.85 616.7 387.06 626.1Z"/>
<path fill="#adff00" d="M375.7 617.1 362.6 608 342.92 610.9 356.01 620ZM452 676.6 438.26 665 418.5 668.5 432.22 680.2Z"/>
<path fill="#0082ff" d="M1281.29 894.5 1265.75 876.3 1249.27 881.8 1264.82 900.1Z"/>
<path fill="#4aff00" d="M512.41 652.7 498.73 642 479.48 645.2 493.15 656Z"/>
<path fill="#8aff00" d="M450.28 638.9 436.83 628.8 417.36 631.9 430.8 642.1ZM463.07 648.8 449.52 638.3 430.03 641.5 443.57 652.1Z"/>
<path fill="#a2ff00" d="M419.22 632.3 405.89 622.6 386.31 625.6 399.62 635.4Z"/>
<path fill="#afff00" d="M388.17 626 374.96 616.5 355.26 619.5 368.46 629ZM439.04 665.6 425.4 654.5 405.65 657.9 419.27 669.2Z"/>
<path fill="#00f9ff" d="M1160.08 847.5 1144.71 830.5 1127.8 835.6 1143.17 852.8ZM1106.81 930.9 1091.24 911.7 1073.71 917.5 1089.29 936.8Z"/>
<path fill="#00ff91" d="M1007.28 793.1 992.2 777.5 974.73 782.1 989.82 797.8ZM944.85 915.1 929.4 896.3 911.06 902 926.52 921ZM826.09 1053.6 810.3 1031.4 790.78 1038.2 806.58 1060.6Z"/>
<path fill="#15ff00" d="M556.57 670.6 542.68 659.2 523.54 662.7 537.42 674.2Z"/>
<path fill="#46ff00" d="M525.41 663.1 511.63 652 492.37 655.4 506.14 666.6Z"/>
<path fill="#b0ff00" d="M400.74 635.3 387.42 625.4 367.71 628.5 381.01 638.4Z"/>
<path fill="#00ff27" d="M867.33 757.2 852.53 742.7 834.51 747.1 849.31 761.7ZM864.38 775.6 849.5 760.6 831.37 765.1 846.25 780.3Z"/>
<path fill="#6bff00" d="M494.24 655.8 480.57 645.1 461.2 648.4 474.86 659.3Z"/>
<path fill="#a3ff00" d="M431.9 641.9 418.47 631.7 398.87 634.9 412.29 645.2ZM444.68 651.9 431.14 641.3 411.53 644.6 425.06 655.3Z"/>
<path fill="#3eff00" d="M538.5 674 524.63 662.5 505.36 666 519.23 677.7ZM563.95 760.6 549.51 746 529.82 750.4 544.25 765.1Z"/>
<path fill="#0aff00" d="M569.77 681.8 555.78 670 536.63 673.6 550.6 685.5Z"/>
<path fill="#67ff00" d="M507.23 666.4 493.47 655.2 474.08 658.6 487.84 670Z"/>
<path fill="#88ff00" d="M475.96 659.1 462.3 648.2 442.8 651.5 456.45 662.5Z"/>
<path fill="#b1ff00" d="M413.41 645 399.98 634.7 380.26 637.9 393.67 648.3ZM426.17 655.1 412.64 644.4 392.9 647.7 406.42 658.5Z"/>
<path fill="#33ff00" d="M551.69 685.3 537.72 673.4 518.44 677 532.4 689.1Z"/>
<path fill="#60ff00" d="M520.32 677.5 506.45 665.8 487.06 669.3 500.92 681.1Z"/>
<path fill="#a0ff00" d="M457.56 662.3 443.91 651.3 424.29 654.7 437.92 665.8Z"/>
<path fill="#25ff00" d="M564.97 697 550.9 684.6 531.61 688.4 545.67 700.9Z"/>
<path fill="#7fff00" d="M502.02 680.9 488.16 669.1 468.64 672.7 482.49 684.6Z"/>
<path fill="#00ff4c" d="M909.66 800.7 894.64 784.9 876.62 789.6 891.65 805.6ZM842.68 924.7 827.27 905.5 808.33 911.3 823.75 930.6Z"/>
<path fill="#57ff00" d="M533.5 688.9 519.53 676.8 500.13 680.4 514.09 692.7Z"/>
<path fill="#00ffbf" d="M1048.37 860.9 1033.03 843.5 1015.47 848.7 1030.82 866.3ZM991.34 946.2 975.78 926.6 957.57 932.6 973.14 952.3ZM934.02 1015.1 918.29 993.9 899.51 1000.4 915.25 1021.8Z"/>
<path fill="#13ff00" d="M578.34 709.2 564.17 696.3 544.88 700.2 559.04 713.2Z"/>
<path fill="#77ff00" d="M515.19 692.4 501.23 680.2 481.7 683.9 495.65 696.3Z"/>
<path fill="#97ff00" d="M483.6 684.4 469.75 672.5 450.1 676.1 463.94 688.1Z"/>
<path fill="#3bff00" d="M560.13 712.9 545.97 700 526.55 703.9 540.7 717Z"/>
<path fill="#8fff00" d="M496.76 696.1 482.81 683.7 463.15 687.5 477.09 699.9Z"/>
<path fill="#26ff00" d="M573.58 725.6 559.33 712.2 539.9 716.2 554.15 729.8Z"/>
<path fill="#86ff00" d="M510.01 708.1 495.97 695.3 476.3 699.2 490.34 712.1Z"/>
<path fill="#a6ff00" d="M478.21 699.7 464.27 687.2 444.48 691 458.41 703.6Z"/>
<path fill="#9dff00" d="M491.46 711.9 477.42 699 457.62 702.9 471.65 715.9Z"/>
<path fill="#0eff00" d="M587.12 738.7 572.77 724.8 553.34 729 567.68 743Z"/>
<path fill="#7bff00" d="M523.36 720.6 509.22 707.4 489.54 711.4 503.68 724.7Z"/>
<path fill="#34ff00" d="M568.78 742.7 554.44 728.8 534.88 733 549.22 747.1Z"/>
<path fill="#69ff00" d="M536.8 733.5 522.56 719.8 502.88 724 517.11 737.8Z"/>
<path fill="#92ff00" d="M504.8 724.5 490.66 711.1 470.86 715.2 484.99 728.7Z"/>
<path fill="#19ff00" d="M582.41 756.4 567.97 741.9 548.4 746.3 562.83 760.8Z"/>
<path fill="#56ff00" d="M550.33 746.8 535.99 732.7 516.3 737 530.63 751.2Z"/>
<path fill="#5dff00" d="M545.37 764.9 530.94 750.2 511.12 754.6 525.54 769.4Z"/>
<path fill="#43ff00" d="M559.07 779.2 544.55 764 524.72 768.6 539.24 783.9Z"/>
<path fill="#00ff60" d="M878.05 913.6 862.65 894.7 843.96 900.4 859.36 919.4Z"/>
<path fill="#00ffa2" d="M901.47 1001.2 885.79 980.2 866.89 986.6 882.57 1007.7Z"/>
<path fill="#00ff72" d="M832.83 999.7 817.19 978.7 797.91 985.1 813.56 1006.2Z"/>
<path fill="#00ffa8" d="M880.57 1034.1 864.81 1012.4 845.67 1019 861.44 1040.9Z"/>
</g>
<g fill="none" stroke="#000" stroke-linecap="round" stroke-linejoin="round">
<path stroke-width="2.8" d="M1147.7 597.5 L1134.14 589.1 L1120.64 581.1 L1107.21 573.4 L1093.84 566.1 L1080.55 559.2 L1067.32 552.6 L1054.17 546.3 L1041.09 540.4 L1028.08 534.8 L1015.14 529.6 M1015.14 529.6 L1002.28 524.7 L989.49 520.2 L976.78 516 L964.15 512.1 L951.6 508.5 L939.12 505.3 L926.73 502.4 L914.41 499.8 L902.17 497.5 L890.02 495.6 M1118.3 602.9 L1104.75 594.3 L1091.26 586.1 L1077.84 578.3 L1064.49 570.8 L1051.21 563.6 L1038 556.8 L1024.86 550.4 L1011.79 544.3 L998.8 538.6 L985.88 533.2 M985.88 533.2 L973.04 528.2 L960.28 523.4 L947.59 519.1 L934.99 515 L922.46 511.3 L910.01 507.9 L897.64 504.9 L885.35 502.2 L873.14 499.8 L861.02 497.7 M1088.54 608.4 L1075 599.6 L1061.52 591.2 L1048.11 583.2 L1034.78 575.5 L1021.51 568.2 L1008.32 561.2 L995.19 554.6 L982.15 548.3 L969.17 542.4 L956.28 536.9 M956.28 536.9 L943.46 531.7 L930.72 526.8 L918.05 522.3 L905.47 518.1 L892.97 514.2 L880.54 510.7 L868.2 507.5 L855.94 504.6 L843.77 502 L831.67 499.8 M926.32 540.6 L913.52 535.3 L900.8 530.2 L888.16 525.5 L875.6 521.2 L863.12 517.2 L850.73 513.5 L838.41 510.1 L826.18 507.1 L814.04 504.4 L801.98 502 M895.99 544.5 L883.22 538.9 L870.52 533.7 L857.9 528.9 L845.37 524.4 L832.92 520.2 L820.55 516.3 L808.27 512.8 L796.07 509.7 L783.95 506.8 L771.92 504.3 M865.3 548.4 L852.55 542.7 L839.87 537.3 L827.28 532.3 L814.78 527.6 L802.35 523.3 L790.01 519.3 L777.76 515.6 L765.59 512.3 L753.51 509.3 L741.51 506.6 M834.23 552.5 L821.5 546.6 L808.85 541 L796.29 535.8 L783.81 531 L771.41 526.5 L759.1 522.3 L746.88 518.5 L734.74 515 L722.69 511.9 L710.73 509 M802.78 556.6 L790.08 550.5 L777.46 544.8 L764.92 539.4 L752.46 534.4 L740.1 529.8 L727.82 525.4 L715.62 521.5 L703.52 517.8 L691.5 514.5 L679.57 511.5 M1067.32 552.6 L1052.7 554.7 L1038 556.8 L1023.2 559 L1008.32 561.2 L993.34 563.4 L978.28 565.7 L963.12 567.9 L947.88 570.2 L932.54 572.6 L917.11 574.9 M1041.09 540.4 L1026.48 542.4 L1011.79 544.3 L997.01 546.3 L982.15 548.3 L967.19 550.4 L952.14 552.5 L937.01 554.5 L921.78 556.7 L906.46 558.8 L891.04 561 M1015.14 529.6 L1000.56 531.4 L985.88 533.2 L971.13 535 L956.28 536.9 L941.34 538.8 L926.32 540.6 L911.2 542.6 L895.99 544.5 L880.69 546.5 L865.3 548.4 M989.49 520.2 L974.93 521.8 L960.28 523.4 L945.54 525.1 L930.72 526.8 L915.8 528.5 L900.8 530.2 L885.7 532 L870.52 533.7 L855.24 535.5 L839.87 537.3 M964.15 512.1 L949.61 513.5 L934.99 515 L920.27 516.5 L905.47 518.1 L890.58 519.6 L875.6 521.2 L860.53 522.8 L845.37 524.4 L830.12 526 L814.78 527.6 M939.12 505.3 L924.61 506.6 L910.01 507.9 L895.32 509.3 L880.54 510.7 L865.68 512.1 L850.73 513.5 L835.68 514.9 L820.55 516.3 L805.33 517.8 L790.01 519.3 M790.01 519.3 L774.6 520.8 L759.1 522.3 L743.51 523.9 L727.82 525.4 L712.03 527 L696.15 528.6 L680.17 530.3 L664.09 531.9 L647.91 533.6 L631.63 535.3 M914.41 499.8 L899.92 501 L885.35 502.2 L870.69 503.4 L855.94 504.6 L841.11 505.8 L826.18 507.1 L811.17 508.4 L796.07 509.7 L780.87 511 L765.59 512.3 M765.59 512.3 L750.21 513.6 L734.74 515 L719.18 516.4 L703.52 517.8 L687.76 519.2 L671.91 520.7 L655.97 522.1 L639.92 523.6 L623.77 525.1 L607.53 526.7 M890.02 495.6 L875.56 496.6 L861.02 497.7 L846.39 498.7 L831.67 499.8 L816.87 500.9 L801.98 502 L786.99 503.1 L771.92 504.3 L756.76 505.4 L741.51 506.6 M741.51 506.6 L726.17 507.8 L710.73 509 L695.2 510.3 L679.57 511.5 L663.85 512.8 L648.04 514.1 L632.13 515.4 L616.12 516.7 L600.01 518.1 L583.8 519.5"/>
<path stroke-width="3.0" d="M1430.77 843.7 L1416.13 848.5 L1401.4 853.4 L1386.59 858.4 L1371.69 863.4 L1356.7 868.4 L1341.62 873.5 L1326.45 878.6 L1311.19 883.7 L1295.83 888.9 L1280.38 894.2 M1430.77 843.7 L1416.17 827.7 L1401.61 812.2 L1387.09 797 L1372.62 782.3 L1358.18 767.9 L1343.79 753.9 L1329.44 740.2 L1315.14 727 L1300.89 714.1 L1286.68 701.7 M1286.68 701.7 L1272.53 689.6 L1258.43 677.9 L1244.39 666.5 L1230.4 655.5 L1216.47 644.9 L1202.59 634.7 L1188.78 624.9 L1175.02 615.4 L1161.33 606.3 L1147.7 597.5 M1401.61 812.2 L1386.96 816.8 L1372.23 821.5 L1357.4 826.2 L1342.49 830.9 L1327.49 835.7 L1312.4 840.5 L1297.21 845.4 L1281.94 850.3 L1266.57 855.2 L1251.11 860.2 M1401.4 853.4 L1386.8 837.3 L1372.23 821.5 L1357.7 806.1 L1343.21 791.1 L1328.77 776.4 L1314.37 762.2 L1300.01 748.4 L1285.71 734.9 L1271.45 721.8 L1257.25 709.1 M1257.25 709.1 L1243.09 696.8 L1228.99 684.9 L1214.95 673.3 L1200.96 662.1 L1187.03 651.3 L1173.16 640.9 L1159.35 630.9 L1145.6 621.2 L1131.92 611.9 L1118.3 602.9 M1372.62 782.3 L1357.96 786.6 L1343.21 791.1 L1328.38 795.5 L1313.45 800 L1298.44 804.6 L1283.34 809.2 L1268.14 813.8 L1252.86 818.4 L1237.48 823.1 L1222.01 827.9 M1371.69 863.4 L1357.07 847 L1342.49 830.9 L1327.95 815.3 L1313.45 800 L1299 785.2 L1284.59 770.7 L1270.23 756.6 L1255.92 742.9 L1241.66 729.6 L1227.45 716.7 M1227.45 716.7 L1213.3 704.2 L1199.2 692 L1185.16 680.2 L1171.17 668.8 L1157.24 657.8 L1143.38 647.2 L1129.57 636.9 L1115.83 627.1 L1102.16 617.5 L1088.54 608.4 M1343.79 753.9 L1329.12 758 L1314.37 762.2 L1299.52 766.4 L1284.59 770.7 L1269.57 775 L1254.46 779.3 L1239.26 783.7 L1223.96 788.1 L1208.58 792.6 L1193.1 797.1 M1341.62 873.5 L1326.99 856.8 L1312.4 840.5 L1297.84 824.6 L1283.34 809.2 L1268.88 794.1 L1254.46 779.3 L1240.1 765 L1225.78 751.1 L1211.52 737.6 L1197.3 724.4 M1197.3 724.4 L1183.15 711.7 L1169.05 699.3 L1155 687.3 L1141.02 675.7 L1127.1 664.5 L1113.23 653.6 L1099.44 643.2 L1085.7 633.1 L1072.03 623.3 L1058.43 614 M1058.43 614 L1044.89 605 L1031.43 596.4 L1018.03 588.2 L1004.71 580.3 L991.46 572.8 L978.28 565.7 L965.17 558.9 L952.14 552.5 L939.19 546.4 L926.32 540.6 M1315.14 727 L1300.47 730.9 L1285.71 734.9 L1270.86 738.9 L1255.92 742.9 L1240.9 747 L1225.78 751.1 L1210.57 755.2 L1195.27 759.4 L1179.88 763.6 L1164.39 767.9 M1311.19 883.7 L1296.54 866.8 L1281.94 850.3 L1267.37 834.2 L1252.86 818.4 L1238.39 803.1 L1223.96 788.1 L1209.59 773.6 L1195.27 759.4 L1181 745.7 L1166.79 732.3 M1166.79 732.3 L1152.63 719.3 L1138.53 706.7 L1124.49 694.5 L1110.5 682.7 L1096.58 671.2 L1082.73 660.2 L1068.93 649.5 L1055.2 639.2 L1041.54 629.3 L1027.95 619.7 M1027.95 619.7 L1014.42 610.6 L1000.97 601.8 L987.59 593.3 L974.28 585.3 L961.04 577.6 L947.88 570.2 L934.79 563.3 L921.78 556.7 L908.85 550.4 L895.99 544.5 M1286.68 701.7 L1272.01 705.4 L1257.25 709.1 L1242.39 712.9 L1227.45 716.7 L1212.42 720.5 L1197.3 724.4 L1182.09 728.3 L1166.79 732.3 L1151.39 736.3 L1135.9 740.3 M1135.9 740.3 L1121.74 727.1 L1107.64 714.2 L1093.6 701.8 L1079.62 689.8 L1065.7 678.1 L1051.84 666.8 L1038.06 655.9 L1024.33 645.4 L1010.68 635.3 L997.1 625.6 M997.1 625.6 L983.58 616.2 L970.14 607.2 L956.77 598.6 L943.47 590.3 L930.25 582.4 L917.11 574.9 L904.04 567.8 L891.04 561 L878.13 554.5 L865.3 548.4 M1258.43 677.9 L1243.76 681.3 L1228.99 684.9 L1214.14 688.4 L1199.2 692 L1184.17 695.6 L1169.05 699.3 L1153.83 703 L1138.53 706.7 L1123.13 710.4 L1107.64 714.2 M1104.63 748.4 L1090.47 735 L1076.37 721.9 L1062.33 709.2 L1048.35 697 L1034.43 685.1 L1020.58 673.6 L1006.8 662.5 L993.09 651.8 L979.44 641.4 L965.87 631.5 M965.87 631.5 L952.36 621.9 L938.93 612.7 L925.58 603.9 L912.29 595.5 L899.09 587.4 L885.96 579.7 L872.91 572.3 L859.94 565.4 L847.04 558.7 L834.23 552.5 M1230.4 655.5 L1215.72 658.8 L1200.96 662.1 L1186.11 665.5 L1171.17 668.8 L1156.14 672.3 L1141.02 675.7 L1125.81 679.2 L1110.5 682.7 L1095.11 686.2 L1079.62 689.8 M1079.62 689.8 L1064.03 693.3 L1048.35 697 L1032.57 700.6 L1016.7 704.3 L1000.72 708.1 L984.65 711.8 L968.48 715.6 L952.21 719.5 L935.84 723.4 L919.37 727.3 M1072.98 756.7 L1058.82 743 L1044.71 729.7 L1030.67 716.8 L1016.7 704.3 L1002.79 692.2 L988.94 680.5 L975.16 669.2 L961.46 658.3 L947.82 647.7 L934.25 637.6 M934.25 637.6 L920.76 627.8 L907.34 618.4 L894 609.4 L880.73 600.7 L867.54 592.4 L854.43 584.5 L841.4 577 L828.44 569.8 L815.57 563 L802.78 556.6 M1202.59 634.7 L1187.92 637.8 L1173.16 640.9 L1158.31 644 L1143.38 647.2 L1128.35 650.4 L1113.23 653.6 L1098.03 656.9 L1082.73 660.2 L1067.33 663.5 L1051.84 666.8 M1051.84 666.8 L1036.26 670.2 L1020.58 673.6 L1004.81 677.1 L988.94 680.5 L972.97 684 L956.91 687.6 L940.74 691.2 L924.47 694.8 L908.1 698.4 L891.63 702.1 M1040.94 765.1 L1026.77 751.2 L1012.67 737.7 L998.63 724.6 L984.65 711.8 L970.75 699.5 L956.91 687.6 L943.13 676 L929.43 664.9 L915.8 654.1 L902.25 643.7 M902.25 643.7 L888.77 633.8 L875.36 624.1 L862.03 614.9 L848.78 606.1 L835.61 597.6 L822.51 589.5 L809.5 581.8 L796.57 574.4 L783.72 567.5 L770.95 560.8 M770.95 560.8 L758.27 554.6 L745.67 548.7 L733.16 543.1 L720.73 537.9 L708.4 533.1 L696.15 528.6 L683.99 524.5 L671.91 520.7 L659.93 517.2 L648.04 514.1 M1175.02 615.4 L1160.36 618.3 L1145.6 621.2 L1130.76 624.1 L1115.83 627.1 L1100.81 630 L1085.7 633.1 L1070.5 636.1 L1055.2 639.2 L1039.82 642.3 L1024.33 645.4 M1024.33 645.4 L1008.76 648.6 L993.09 651.8 L977.32 655 L961.46 658.3 L945.49 661.6 L929.43 664.9 L913.27 668.2 L897.01 671.6 L880.65 675 L864.19 678.5 M869.85 650 L856.38 639.8 L842.98 630 L829.67 620.6 L816.43 611.6 L803.27 602.9 L790.2 594.6 L777.2 586.7 L764.29 579.1 L751.47 572 L738.72 565.2 M738.72 565.2 L726.07 558.7 L713.49 552.6 L701.01 546.9 L688.61 541.6 L676.31 536.6 L664.09 531.9 L651.96 527.6 L639.92 523.6 L627.97 520 L616.12 516.7 M1147.7 597.5 L1133.05 600.2 L1118.3 602.9 L1103.47 605.6 L1088.54 608.4 L1073.53 611.2 L1058.43 614 L1043.23 616.9 L1027.95 619.7 L1012.57 622.6 L997.1 625.6 M997.1 625.6 L981.53 628.5 L965.87 631.5 L950.11 634.5 L934.25 637.6 L918.3 640.6 L902.25 643.7 L886.1 646.9 L869.85 650 L853.5 653.2 L837.04 656.5 M837.04 656.5 L823.58 646.1 L810.2 636 L796.9 626.4 L783.68 617.1 L770.54 608.3 L757.48 599.8 L744.51 591.7 L731.62 583.9 L718.81 576.6 L706.09 569.6 M706.09 569.6 L693.46 563 L680.92 556.7 L668.46 550.8 L656.09 545.3 L643.82 540.1 L631.63 535.3 L619.53 530.8 L607.53 526.7 L595.62 522.9 L583.8 519.5 M1120.64 581.1 L1105.99 583.6 L1091.26 586.1 L1076.43 588.7 L1061.52 591.2 L1046.52 593.8 L1031.43 596.4 L1016.25 599.1 L1000.97 601.8 L985.6 604.5 L970.14 607.2 M970.14 607.2 L954.58 609.9 L938.93 612.7 L923.19 615.5 L907.34 618.4 L891.4 621.2 L875.36 624.1 L859.22 627.1 L842.98 630 L826.64 633 L810.2 636 M803.83 663 L790.38 652.4 L777.01 642.2 L763.72 632.3 L750.52 622.8 L737.4 613.8 L724.36 605.1 L711.4 596.8 L698.54 588.8 L685.75 581.3 L673.06 574.1 M673.06 574.1 L660.45 567.3 L647.94 560.8 L635.51 554.8 L623.17 549.1 L610.92 543.7 L598.77 538.7 L586.71 534.1 L574.74 529.8 L562.87 525.8 L551.08 522.2 M1093.84 566.1 L1079.21 568.4 L1064.49 570.8 L1049.68 573.1 L1034.78 575.5 L1019.79 577.9 L1004.71 580.3 L989.54 582.8 L974.28 585.3 L958.92 587.8 L943.47 590.3 M943.47 590.3 L927.93 592.9 L912.29 595.5 L896.56 598.1 L880.73 600.7 L864.8 603.4 L848.78 606.1 L832.66 608.8 L816.43 611.6 L800.11 614.3 L783.68 617.1 M783.68 617.1 L767.15 620 L750.52 622.8 L733.78 625.7 L716.94 628.7 L699.99 631.6 L682.94 634.6 L665.78 637.6 L648.51 640.7 L631.12 643.8 L613.63 646.9 M770.19 669.7 L756.76 658.9 L743.4 648.4 L730.13 638.3 L716.94 628.7 L703.84 619.4 L690.82 610.5 L677.88 602 L665.04 593.9 L652.28 586.1 L639.61 578.7 M639.61 578.7 L627.03 571.7 L614.54 565.1 L602.14 558.8 L589.84 552.9 L577.62 547.4 L565.5 542.3 L553.47 537.4 L541.54 533 L529.7 528.9 L517.96 525.1 M917.11 574.9 L901.58 577.3 L885.96 579.7 L870.24 582.1 L854.43 584.5 L838.52 587 L822.51 589.5 L806.4 592 L790.2 594.6 L773.89 597.2 L757.48 599.8 M757.48 599.8 L740.97 602.4 L724.36 605.1 L707.64 607.8 L690.82 610.5 L673.89 613.2 L656.85 616 L639.71 618.8 L622.46 621.7 L605.1 624.5 L587.62 627.4 M736.13 676.5 L722.71 665.5 L709.37 654.8 L696.11 644.5 L682.94 634.6 L669.85 625.1 L656.85 616 L643.94 607.3 L631.12 599 L618.38 591 L605.74 583.5 M605.74 583.5 L593.19 576.3 L580.72 569.4 L568.36 563 L556.08 556.9 L543.9 551.2 L531.81 545.9 L519.82 540.9 L507.93 536.3 L496.13 532 L484.42 528.1 M891.04 561 L875.54 563.1 L859.94 565.4 L844.24 567.6 L828.44 569.8 L812.55 572.1 L796.57 574.4 L780.48 576.8 L764.29 579.1 L748.01 581.5 L731.62 583.9 M731.62 583.9 L715.13 586.4 L698.54 588.8 L681.84 591.3 L665.04 593.9 L648.13 596.4 L631.12 599 L614 601.6 L596.77 604.2 L579.43 606.9 L561.98 609.6 M571.44 588.3 L558.91 580.9 L546.48 573.9 L534.14 567.3 L521.9 561 L509.75 555.1 L497.7 549.6 L485.75 544.4 L473.89 539.6 L462.13 535.2 L450.47 531.1 M865.3 548.4 L849.81 550.4 L834.23 552.5 L818.56 554.5 L802.78 556.6 L786.92 558.7 L770.95 560.8 L754.89 563 L738.72 565.2 L722.46 567.4 L706.09 569.6 M706.09 569.6 L689.63 571.8 L673.06 574.1 L656.39 576.4 L639.61 578.7 L622.73 581.1 L605.74 583.5 L588.64 585.9 L571.44 588.3 L554.13 590.8 L536.7 593.2 M536.7 593.2 L524.21 585.7 L511.8 578.5 L499.5 571.6 L487.29 565.2 L475.17 559.1 L463.16 553.4 L451.24 548.1 L439.42 543.1 L427.7 538.5 L416.08 534.2 M839.87 537.3 L824.41 539.2 L808.85 541 L793.2 542.9 L777.46 544.8 L761.61 546.7 L745.67 548.7 L729.63 550.6 L713.49 552.6 L697.26 554.7 L680.92 556.7 M680.92 556.7 L664.48 558.8 L647.94 560.8 L631.29 563 L614.54 565.1 L597.69 567.3 L580.72 569.4 L563.66 571.7 L546.48 573.9 L529.2 576.2 L511.8 578.5 M501.52 598.3 L489.05 590.5 L476.68 583.1 L464.41 576.1 L452.23 569.5 L440.15 563.2 L428.17 557.3 L416.29 551.8 L404.51 546.6 L392.83 541.9 L381.25 537.4 M814.78 527.6 L799.34 529.3 L783.81 531 L768.18 532.7 L752.46 534.4 L736.65 536.2 L720.73 537.9 L704.72 539.7 L688.61 541.6 L672.4 543.4 L656.09 545.3 M656.09 545.3 L639.68 547.2 L623.17 549.1 L606.55 551 L589.84 552.9 L573.01 554.9 L556.08 556.9 L539.04 559 L521.9 561 L504.65 563.1 L487.29 565.2 M487.29 565.2 L469.81 567.3 L452.23 569.5 L434.53 571.6 L416.72 573.8 L398.8 576.1 L380.76 578.3 L362.61 580.6 L344.33 582.9 L325.94 585.2 L307.43 587.6 M465.89 603.5 L453.45 595.5 L441.11 587.9 L428.87 580.7 L416.72 573.8 L404.68 567.4 L392.74 561.3 L380.9 555.6 L369.16 550.3 L357.52 545.3 L345.99 540.7 M631.63 535.3 L615.25 537 L598.77 538.7 L582.19 540.5 L565.5 542.3 L548.71 544.1 L531.81 545.9 L514.81 547.7 L497.7 549.6 L480.48 551.5 L463.16 553.4 M463.16 553.4 L445.72 555.3 L428.17 557.3 L410.51 559.3 L392.74 561.3 L374.85 563.4 L356.85 565.4 L338.73 567.5 L320.5 569.6 L302.15 571.8 L283.67 573.9 M429.8 608.7 L417.39 600.6 L405.08 592.8 L392.87 585.3 L380.76 578.3 L368.75 571.7 L356.85 565.4 L345.05 559.5 L333.35 554 L321.76 548.9 L310.27 544.1 M607.53 526.7 L591.19 528.2 L574.74 529.8 L558.19 531.4 L541.54 533 L524.79 534.6 L507.93 536.3 L490.96 537.9 L473.89 539.6 L456.71 541.4 L439.42 543.1 M439.42 543.1 L422.02 544.9 L404.51 546.6 L386.89 548.5 L369.16 550.3 L351.31 552.1 L333.35 554 L315.27 555.9 L297.08 557.9 L278.77 559.8 L260.34 561.8 M583.8 519.5 L567.49 520.8 L551.08 522.2 L534.57 523.7 L517.96 525.1 L501.25 526.6 L484.42 528.1 L467.5 529.6 L450.47 531.1 L433.33 532.7 L416.08 534.2 M416.08 534.2 L398.72 535.8 L381.25 537.4 L363.68 539.1 L345.99 540.7 L328.18 542.4 L310.27 544.1 L292.23 545.8 L274.09 547.6 L255.82 549.4 L237.44 551.1"/>
<path stroke-width="3.2" d="M1280.38 894.2 L1264.84 899.5 L1249.21 904.8 L1233.47 910.2 L1217.65 915.6 L1201.72 921 L1185.7 926.5 L1169.58 932.1 L1153.36 937.7 L1137.03 943.3 L1120.61 949 M1120.61 949 L1104.09 954.7 L1087.46 960.5 L1070.73 966.3 L1053.89 972.2 L1036.95 978.1 L1019.91 984.1 L1002.75 990.1 L985.49 996.2 L968.12 1002.3 L950.63 1008.5 M1251.11 860.2 L1235.55 865.2 L1219.9 870.3 L1204.15 875.4 L1188.31 880.6 L1172.37 885.8 L1156.34 891 L1140.2 896.3 L1123.96 901.6 L1107.63 907 L1091.19 912.4 M1091.19 912.4 L1074.65 917.9 L1058 923.4 L1041.26 928.9 L1024.41 934.5 L1007.45 940.2 L990.38 945.9 L973.21 951.6 L955.93 957.4 L938.54 963.2 L921.04 969.1 M1222.01 827.9 L1206.44 832.6 L1190.78 837.4 L1175.02 842.3 L1159.17 847.2 L1143.21 852.1 L1127.16 857.1 L1111.02 862.1 L1094.77 867.2 L1078.42 872.3 L1061.97 877.5 M1061.97 877.5 L1045.41 882.6 L1028.76 887.9 L1012 893.2 L995.13 898.5 L978.16 903.9 L961.08 909.3 L943.89 914.8 L926.6 920.3 L909.19 925.8 L891.68 931.4 M1193.1 797.1 L1177.52 801.6 L1161.85 806.2 L1146.08 810.8 L1130.22 815.4 L1114.26 820.1 L1098.2 824.8 L1082.04 829.6 L1065.78 834.4 L1049.42 839.3 L1032.96 844.2 M1032.96 844.2 L1016.4 849.1 L999.73 854.1 L982.96 859.1 L966.08 864.1 L949.1 869.2 L932.01 874.4 L914.81 879.6 L897.51 884.8 L880.09 890.1 L862.56 895.4 M1164.39 767.9 L1148.81 772.2 L1133.13 776.5 L1117.36 780.9 L1101.49 785.3 L1085.52 789.7 L1069.45 794.2 L1053.29 798.7 L1037.02 803.3 L1020.66 807.9 L1004.19 812.5 M1004.19 812.5 L987.62 817.2 L970.94 821.9 L954.16 826.6 L937.28 831.4 L920.29 836.3 L903.19 841.2 L885.98 846.1 L868.67 851.1 L851.24 856.1 L833.71 861.1 M1135.9 740.3 L1120.31 744.3 L1104.63 748.4 L1088.86 752.5 L1072.98 756.7 L1057.01 760.9 L1040.94 765.1 L1024.77 769.4 L1008.5 773.7 L992.13 778.1 L975.66 782.5 M975.66 782.5 L959.08 786.9 L942.4 791.4 L925.62 795.9 L908.73 800.4 L891.73 805 L874.63 809.6 L857.42 814.3 L840.1 819 L822.66 823.7 L805.12 828.5 M1280.38 894.2 L1265.72 877 L1251.11 860.2 L1236.53 843.8 L1222.01 827.9 L1207.53 812.3 L1193.1 797.1 L1178.72 782.3 L1164.39 767.9 L1150.12 753.9 L1135.9 740.3 M1107.64 714.2 L1092.05 718.1 L1076.37 721.9 L1060.59 725.8 L1044.71 729.7 L1028.74 733.7 L1012.67 737.7 L996.5 741.7 L980.23 745.8 L963.85 749.9 L947.38 754.1 M947.38 754.1 L930.8 758.2 L914.12 762.5 L897.33 766.7 L880.44 771 L863.44 775.3 L846.34 779.7 L829.12 784.1 L811.8 788.6 L794.37 793.1 L776.82 797.6 M1249.21 904.8 L1234.53 887.3 L1219.9 870.3 L1205.32 853.7 L1190.78 837.4 L1176.29 821.6 L1161.85 806.2 L1147.46 791.1 L1133.13 776.5 L1118.85 762.3 L1104.63 748.4 M919.37 727.3 L902.79 731.2 L886.11 735.2 L869.33 739.2 L852.44 743.3 L835.44 747.3 L818.33 751.5 L801.12 755.6 L783.8 759.8 L766.37 764.1 L748.82 768.4 M748.82 768.4 L731.17 772.7 L713.4 777.1 L695.51 781.5 L677.51 785.9 L659.4 790.4 L641.17 794.9 L622.82 799.5 L604.34 804.1 L585.75 808.7 L567.04 813.4 M1217.65 915.6 L1202.96 897.9 L1188.31 880.6 L1173.71 863.7 L1159.17 847.2 L1144.67 831.1 L1130.22 815.4 L1115.83 800.1 L1101.49 785.3 L1087.21 770.8 L1072.98 756.7 M891.63 702.1 L875.06 705.8 L858.39 709.5 L841.6 713.3 L824.72 717.1 L807.72 721 L790.62 724.9 L773.41 728.8 L756.1 732.8 L738.67 736.8 L721.13 740.8 M721.13 740.8 L703.48 744.9 L685.71 749 L667.83 753.1 L649.84 757.3 L631.72 761.5 L613.5 765.8 L595.15 770.1 L576.68 774.5 L558.1 778.9 L539.39 783.3 M1185.7 926.5 L1170.99 908.6 L1156.34 891 L1141.72 873.9 L1127.16 857.1 L1112.66 840.8 L1098.2 824.8 L1083.8 809.3 L1069.45 794.2 L1055.17 779.5 L1040.94 765.1 M864.19 678.5 L847.62 682 L830.95 685.5 L814.18 689 L797.3 692.6 L780.31 696.2 L763.22 699.9 L746.02 703.6 L728.71 707.3 L711.28 711.1 L693.75 714.9 M693.75 714.9 L676.11 718.7 L658.35 722.6 L640.48 726.5 L622.49 730.4 L604.38 734.4 L586.16 738.4 L567.82 742.5 L549.37 746.6 L530.79 750.7 L512.09 754.9 M1153.36 937.7 L1138.64 919.4 L1123.96 901.6 L1109.34 884.2 L1094.77 867.2 L1080.25 850.6 L1065.78 834.4 L1051.37 818.6 L1037.02 803.3 L1022.73 788.3 L1008.5 773.7 M1008.5 773.7 L994.33 759.6 L980.23 745.8 L966.19 732.4 L952.21 719.5 L938.31 706.9 L924.47 694.8 L910.71 683 L897.01 671.6 L883.39 660.6 L869.85 650 M837.04 656.5 L820.49 659.7 L803.83 663 L787.06 666.4 L770.19 669.7 L753.21 673.1 L736.13 676.5 L718.94 680 L701.64 683.5 L684.23 687 L666.7 690.6 M666.7 690.6 L649.07 694.2 L631.32 697.8 L613.46 701.5 L595.48 705.2 L577.39 708.9 L559.18 712.7 L540.85 716.5 L522.4 720.4 L503.84 724.2 L485.15 728.2 M1120.61 949 L1105.88 930.5 L1091.19 912.4 L1076.55 894.7 L1061.97 877.5 L1047.44 860.6 L1032.96 844.2 L1018.55 828.1 L1004.19 812.5 L989.89 797.3 L975.66 782.5 M975.66 782.5 L961.48 768.1 L947.38 754.1 L933.34 740.5 L919.37 727.3 L905.47 714.5 L891.63 702.1 L877.88 690.1 L864.19 678.5 L850.58 667.3 L837.04 656.5 M810.2 636 L793.66 639.1 L777.01 642.2 L760.26 645.3 L743.4 648.4 L726.44 651.6 L709.37 654.8 L692.19 658 L674.9 661.3 L657.5 664.6 L639.99 667.9 M639.99 667.9 L622.37 671.3 L604.64 674.7 L586.79 678.1 L568.83 681.6 L550.75 685.1 L532.55 688.6 L514.24 692.2 L495.81 695.8 L477.25 699.5 L458.58 703.1 M1087.46 960.5 L1072.71 941.7 L1058 923.4 L1043.35 905.4 L1028.76 887.9 L1014.22 870.8 L999.73 854.1 L985.31 837.8 L970.94 821.9 L956.64 806.4 L942.4 791.4 M942.4 791.4 L928.23 776.7 L914.12 762.5 L900.08 748.6 L886.11 735.2 L872.21 722.2 L858.39 709.5 L844.63 697.3 L830.95 685.5 L817.35 674.1 L803.83 663 M613.63 646.9 L596.03 650 L578.31 653.2 L560.48 656.4 L542.54 659.6 L524.47 662.9 L506.3 666.2 L488 669.6 L469.58 672.9 L451.05 676.4 L432.39 679.8 M1053.89 972.2 L1039.12 953.1 L1024.41 934.5 L1009.74 916.3 L995.13 898.5 L980.58 881.1 L966.08 864.1 L951.65 847.6 L937.28 831.4 L922.97 815.7 L908.73 800.4 M908.73 800.4 L894.55 785.5 L880.44 771 L866.4 756.9 L852.44 743.3 L838.54 730 L824.72 717.1 L810.97 704.7 L797.3 692.6 L783.71 681 L770.19 669.7 M587.62 627.4 L570.04 630.4 L552.34 633.3 L534.53 636.3 L516.61 639.3 L498.57 642.4 L480.41 645.5 L462.14 648.6 L443.74 651.7 L425.23 654.9 L406.6 658.1 M1019.91 984.1 L1005.12 964.8 L990.38 945.9 L975.7 927.4 L961.08 909.3 L946.52 891.6 L932.01 874.4 L917.57 857.6 L903.19 841.2 L888.88 825.2 L874.63 809.6 M874.63 809.6 L860.45 794.5 L846.34 779.7 L832.3 765.4 L818.33 751.5 L804.44 738 L790.62 724.9 L776.88 712.2 L763.22 699.9 L749.64 688 L736.13 676.5 M561.98 609.6 L544.42 612.3 L526.74 615 L508.96 617.8 L491.06 620.6 L473.04 623.4 L454.91 626.3 L436.66 629.2 L418.29 632.1 L399.8 635.1 L381.19 638.1 M985.49 996.2 L970.68 976.6 L955.93 957.4 L941.23 938.6 L926.6 920.3 L912.02 902.3 L897.51 884.8 L883.05 867.7 L868.67 851.1 L854.35 834.8 L840.1 819 M840.1 819 L825.91 803.6 L811.8 788.6 L797.76 774 L783.8 759.8 L769.91 746.1 L756.1 732.8 L742.36 719.8 L728.71 707.3 L715.13 695.2 L701.64 683.5 M701.64 683.5 L688.23 672.2 L674.9 661.3 L661.66 650.8 L648.51 640.7 L635.44 631 L622.46 621.7 L609.57 612.7 L596.77 604.2 L584.06 596.1 L571.44 588.3 M536.7 593.2 L519.17 595.7 L501.52 598.3 L483.76 600.9 L465.89 603.5 L447.9 606.1 L429.8 608.7 L411.57 611.4 L393.23 614.1 L374.77 616.9 L356.19 619.7 M805.12 828.5 L790.94 812.9 L776.82 797.6 L762.78 782.8 L748.82 768.4 L734.94 754.4 L721.13 740.8 L707.4 727.6 L693.75 714.9 L680.19 702.5 L666.7 690.6 M666.7 690.6 L653.31 679.1 L639.99 667.9 L626.77 657.2 L613.63 646.9 L600.58 637 L587.62 627.4 L574.76 618.3 L561.98 609.6 L549.29 601.2 L536.7 593.2 M511.8 578.5 L494.3 580.8 L476.68 583.1 L458.95 585.5 L441.11 587.9 L423.15 590.3 L405.08 592.8 L386.89 595.2 L368.58 597.7 L350.15 600.3 L331.6 602.8 M769.7 838.3 L755.51 822.3 L741.4 806.8 L727.36 791.7 L713.4 777.1 L699.51 762.8 L685.71 749 L671.99 735.6 L658.35 722.6 L644.79 710 L631.32 697.8 M631.32 697.8 L617.94 686 L604.64 674.7 L591.43 663.7 L578.31 653.2 L565.28 643.1 L552.34 633.3 L539.5 624 L526.74 615 L514.09 606.5 L501.52 598.3 M733.82 848.1 L719.63 832 L705.51 816.2 L691.47 800.8 L677.51 785.9 L663.63 771.4 L649.84 757.3 L636.12 743.7 L622.49 730.4 L608.94 717.6 L595.48 705.2 M595.48 705.2 L582.11 693.2 L568.83 681.6 L555.64 670.4 L542.54 659.6 L529.53 649.3 L516.61 639.3 L503.79 629.8 L491.06 620.6 L478.42 611.8 L465.89 603.5 M697.48 858.2 L683.28 841.7 L669.16 825.7 L655.12 810.1 L641.17 794.9 L627.29 780.2 L613.5 765.8 L599.79 751.9 L586.16 738.4 L572.63 725.3 L559.18 712.7 M559.18 712.7 L545.82 700.5 L532.55 688.6 L519.38 677.2 L506.3 666.2 L493.31 655.6 L480.41 645.5 L467.61 635.7 L454.91 626.3 L442.3 617.3 L429.8 608.7 M522.4 720.4 L509.06 707.9 L495.81 695.8 L482.65 684.2 L469.58 672.9 L456.62 662.1 L443.74 651.7 L430.97 641.7 L418.29 632.1 L405.71 622.9 L393.23 614.1 M393.23 614.1 L380.86 605.7 L368.58 597.7 L356.4 590.1 L344.33 582.9 L332.36 576.1 L320.5 569.6 L308.74 563.5 L297.08 557.9 L285.53 552.5 L274.09 547.6 M485.15 728.2 L471.82 715.4 L458.58 703.1 L445.44 691.3 L432.39 679.8 L419.45 668.7 L406.6 658.1 L393.84 647.9 L381.19 638.1 L368.64 628.7 L356.19 619.7 M356.19 619.7 L343.85 611 L331.6 602.8 L319.46 595 L307.43 587.6 L295.5 580.6 L283.67 573.9 L271.95 567.7 L260.34 561.8 L248.84 556.3 L237.44 551.1"/>
<path stroke-width="3.4" d="M950.63 1008.5 L933.04 1014.7 L915.33 1021 L897.51 1027.3 L879.58 1033.7 L861.53 1040.1 L843.37 1046.6 L825.09 1053.1 L806.69 1059.7 L788.17 1066.4 L769.53 1073.1 M921.04 969.1 L903.43 975 L885.7 981 L867.86 987.1 L849.91 993.1 L831.84 999.3 L813.66 1005.5 L795.36 1011.7 L776.94 1018 L758.4 1024.3 L739.74 1030.7 M891.68 931.4 L874.05 937.1 L856.31 942.8 L838.46 948.5 L820.49 954.3 L802.4 960.2 L784.2 966.1 L765.88 972 L747.45 978 L728.89 984.1 L710.21 990.2 M862.56 895.4 L844.92 900.8 L827.17 906.2 L809.3 911.7 L791.32 917.2 L773.22 922.8 L755.01 928.4 L736.68 934 L718.23 939.8 L699.66 945.5 L680.97 951.3 M833.71 861.1 L816.06 866.2 L798.3 871.4 L780.42 876.6 L762.43 881.8 L744.32 887.1 L726.1 892.4 L707.76 897.8 L689.3 903.2 L670.71 908.7 L652.01 914.2 M805.12 828.5 L787.47 833.4 L769.7 838.3 L751.82 843.2 L733.82 848.1 L715.71 853.2 L697.48 858.2 L679.13 863.3 L660.66 868.5 L642.07 873.7 L623.37 878.9 M776.82 797.6 L759.17 802.2 L741.4 806.8 L723.51 811.5 L705.51 816.2 L687.4 820.9 L669.16 825.7 L650.81 830.5 L632.34 835.4 L613.75 840.3 L595.04 845.3 M950.63 1008.5 L935.81 988.6 L921.04 969.1 L906.33 950.1 L891.68 931.4 L877.09 913.2 L862.56 895.4 L848.1 878.1 L833.71 861.1 L819.38 844.6 L805.12 828.5 M915.33 1021 L900.49 1000.8 L885.7 981 L870.97 961.7 L856.31 942.8 L841.71 924.3 L827.17 906.2 L812.7 888.6 L798.3 871.4 L783.96 854.6 L769.7 838.3 M879.58 1033.7 L864.72 1013.2 L849.91 993.1 L835.17 973.5 L820.49 954.3 L805.87 935.6 L791.32 917.2 L776.84 899.3 L762.43 881.8 L748.09 864.8 L733.82 848.1 M843.37 1046.6 L828.48 1025.8 L813.66 1005.5 L798.9 985.5 L784.2 966.1 L769.57 947 L755.01 928.4 L740.52 910.2 L726.1 892.4 L711.75 875.1 L697.48 858.2 M806.69 1059.7 L791.78 1038.6 L776.94 1018 L762.16 997.8 L747.45 978 L732.8 958.7 L718.23 939.8 L703.73 921.3 L689.3 903.2 L674.94 885.6 L660.66 868.5 M660.66 868.5 L646.46 851.7 L632.34 835.4 L618.3 819.5 L604.34 804.1 L590.47 789.1 L576.68 774.5 L562.98 760.3 L549.37 746.6 L535.84 733.2 L522.4 720.4 M769.53 1073.1 L754.6 1051.7 L739.74 1030.7 L724.94 1010.2 L710.21 990.2 L695.55 970.5 L680.97 951.3 L666.45 932.6 L652.01 914.2 L637.65 896.3 L623.37 878.9 M623.37 878.9 L609.16 861.9 L595.04 845.3 L581 829.1 L567.04 813.4 L553.17 798.1 L539.39 783.3 L525.69 768.9 L512.09 754.9 L498.57 741.3 L485.15 728.2"/>
</g>
<g fill="none" stroke="#000" stroke-width="3.6" stroke-linecap="round">
<path d="M216.77 301.5 L277.15 1046.7 M1471.54 365.5 L1408.92 1120.7"/>
</g>
<g fill="#000">
<circle cx="215.23" cy="299.9" r="5.7"/>
<circle cx="224.52" cy="414.4" r="5.7"/>
<circle cx="233.82" cy="528.9" r="5.7"/>
<circle cx="243.11" cy="643.5" r="5.7"/>
<circle cx="252.4" cy="758" r="5.7"/>
<circle cx="261.69" cy="872.5" r="5.7"/>
<circle cx="275.62" cy="1045.5" r="5.7"/>
<circle cx="399.67" cy="1157.3" r="5.7"/>
<circle cx="523.73" cy="1269.2" r="5.7"/>
<circle cx="647.79" cy="1381" r="5.7"/>
<circle cx="771.85" cy="1492.8" r="5.7"/>
<circle cx="771.85" cy="1492.8" r="5.7"/>
<circle cx="899.11" cy="1418.2" r="5.7"/>
<circle cx="1026.37" cy="1343.6" r="5.7"/>
<circle cx="1153.63" cy="1269.1" r="5.7"/>
<circle cx="1280.89" cy="1194.5" r="5.7"/>
<circle cx="1408.15" cy="1119.9" r="5.7"/>
</g>
</g>
<g font-family="'Liberation Serif', 'DejaVu Serif', serif" fill="#000">
<text transform="matrix(0.7024 0 0 0.5868 124.29 285.72)" font-size="100" font-weight="normal">0.55</text>
<text transform="matrix(0.7024 0 0 0.5868 136.44 400.42)" font-size="100" font-weight="normal">0.50</text>
<text transform="matrix(0.7024 0 0 0.5868 148.59 515.12)" font-size="100" font-weight="normal">0.45</text>
<text transform="matrix(0.7024 0 0 0.5868 160.74 629.82)" font-size="100" font-weight="normal">0.40</text>
<text transform="matrix(0.7024 0 0 0.5868 172.89 744.52)" font-size="100" font-weight="normal">0.35</text>
<text transform="matrix(0.7024 0 0 0.5868 185.04 859.22)" font-size="100" font-weight="normal">0.30</text>
<text transform="matrix(0.7113 0 0 0.5838 166.40 1104.72)" font-size="100" font-weight="normal">20.00</text>
<text transform="matrix(0.7127 0 0 0.5838 327.99 1216.92)" font-size="100" font-weight="normal">15.00</text>
<text transform="matrix(0.7137 0 0 0.5838 489.08 1328.72)" font-size="100" font-weight="normal">10.00</text>
<text transform="matrix(0.7061 0 0 0.5838 685.76 1440.42)" font-size="100" font-weight="normal">5.00</text>
<text transform="matrix(0.7000 0 0 0.5838 848.60 1552.82)" font-size="100" font-weight="normal">0.00</text>
<text transform="matrix(0.7033 0 0 0.5838 1035.97 1552.82)" font-size="100" font-weight="normal">10.00</text>
<text transform="matrix(0.7006 0 0 0.5838 1200.70 1477.72)" font-size="100" font-weight="normal">8.00</text>
<text transform="matrix(0.7051 0 0 0.5838 1365.43 1403.02)" font-size="100" font-weight="normal">6.00</text>
<text transform="matrix(0.6964 0 0 0.5838 1532.61 1328.42)" font-size="100" font-weight="normal">4.00</text>
<text transform="matrix(0.7015 0 0 0.5838 1696.54 1253.82)" font-size="100" font-weight="normal">2.00</text>
<text transform="matrix(0.6958 0 0 0.5838 1863.22 1179.72)" font-size="100" font-weight="normal">0.00</text>
<text transform="matrix(0.6247 0 0 0.5122 236.68 1421.44)" font-size="100" font-weight="normal">A: SGF (%)</text>
<text transform="matrix(0.6265 0 0 0.5100 1519.32 1492.49)" font-size="100" font-weight="normal">B: LGF (%)</text>
<text transform="matrix(0.8225 0 0 0.8611 960.10 1656.52)" font-size="100" font-weight="normal">(<tspan font-weight="bold">c</tspan>)</text>
<text transform="matrix(0 -0.6400 0.5121 0 68.29 750.34)" font-size="100" word-spacing="-18.5">tan δ</text>
</g>
</svg>
</body></html>
